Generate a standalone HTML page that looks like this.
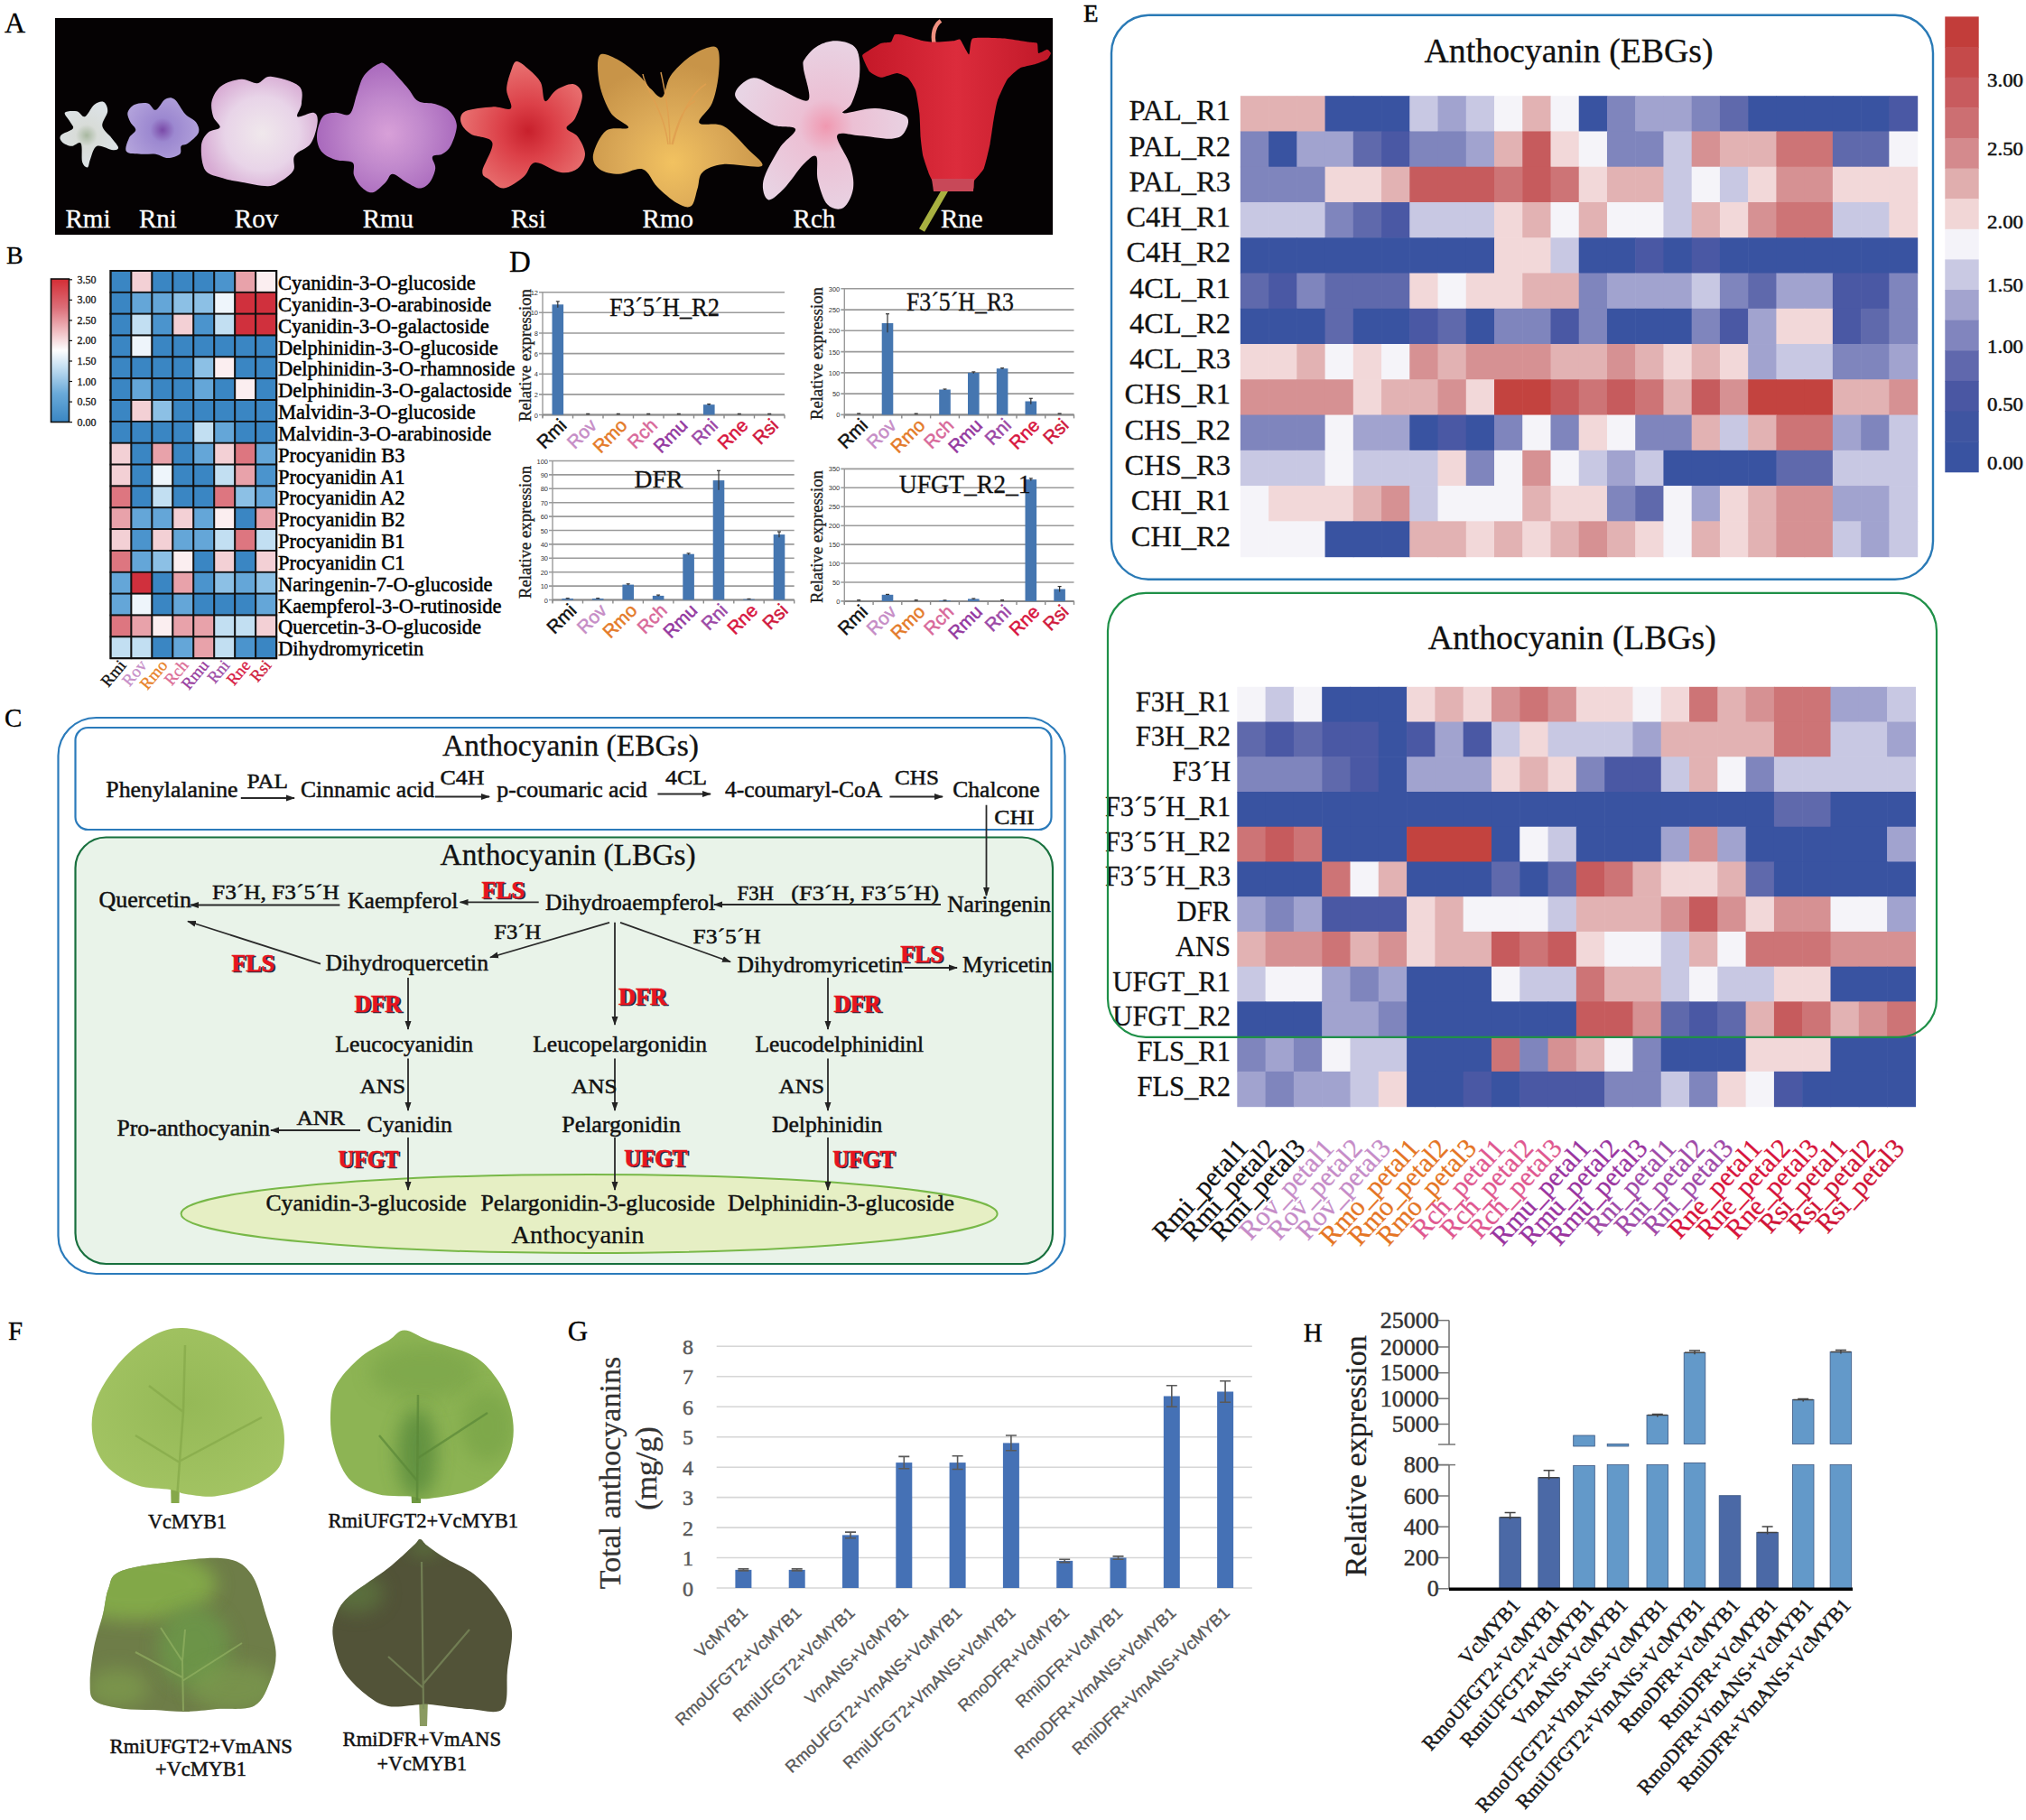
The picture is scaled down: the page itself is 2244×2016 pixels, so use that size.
<!DOCTYPE html>
<html><head><meta charset="utf-8"><title>Figure</title>
<style>html,body{margin:0;padding:0;background:#fff;width:2244px;height:2016px;overflow:hidden}svg{display:block}</style>
</head><body>
<svg width="2244" height="2016" viewBox="0 0 2244 2016">
<rect x="0" y="0" width="2244" height="2016" fill="#fff"/>
<text x="5.0" y="36.0" font-family="Liberation Serif" font-size="32" fill="#000" text-anchor="start" font-weight="normal"  stroke="#000" stroke-width="0.3">A</text><rect x="61" y="20" width="1105" height="240" fill="#050203"/><defs><radialGradient id="gRmi" gradientUnits="userSpaceOnUse" cx="96" cy="150" r="40"><stop offset="0" stop-color="#a8b8a0"/><stop offset="0.3" stop-color="#d8dcd8"/><stop offset="1" stop-color="#dde3e8"/></radialGradient><radialGradient id="gRni" gradientUnits="userSpaceOnUse" cx="180" cy="144" r="45"><stop offset="0" stop-color="#7a4aa8"/><stop offset="0.3" stop-color="#9c88d0"/><stop offset="1" stop-color="#b4a4dc"/></radialGradient><radialGradient id="gRov" gradientUnits="userSpaceOnUse" cx="290" cy="148" r="68"><stop offset="0" stop-color="#f0e8ec"/><stop offset="0.6" stop-color="#e8d4e8"/><stop offset="1" stop-color="#d8acd4"/></radialGradient><radialGradient id="gRmu" gradientUnits="userSpaceOnUse" cx="430" cy="148" r="80"><stop offset="0" stop-color="#d8a0d8"/><stop offset="0.5" stop-color="#c088cc"/><stop offset="1" stop-color="#a868bc"/></radialGradient><radialGradient id="gRsi" gradientUnits="userSpaceOnUse" cx="585" cy="145" r="75"><stop offset="0" stop-color="#c8202c"/><stop offset="0.4" stop-color="#dc4048"/><stop offset="1" stop-color="#e87070"/></radialGradient><radialGradient id="gRmo" gradientUnits="userSpaceOnUse" cx="745" cy="180" r="110"><stop offset="0" stop-color="#f2c260"/><stop offset="0.5" stop-color="#dcaa58"/><stop offset="1" stop-color="#c89448"/></radialGradient><radialGradient id="gRch" gradientUnits="userSpaceOnUse" cx="915" cy="140" r="100"><stop offset="0" stop-color="#f098b0"/><stop offset="0.3" stop-color="#ecc0d4"/><stop offset="1" stop-color="#e8d4e4"/></radialGradient><linearGradient id="gRne" x1="0" y1="0" x2="1" y2="0"><stop offset="0" stop-color="#c41828"/><stop offset="0.5" stop-color="#dc2c3c"/><stop offset="1" stop-color="#c01828"/></linearGradient></defs><path d="M71.8,124.8 C73.0,122.8 81.5,122.6 85.2,123.3 C88.9,124.0 90.8,130.4 94.0,129.2 C97.2,128.0 100.9,118.6 104.4,115.9 C107.9,113.2 112.3,111.7 114.8,112.9 C117.3,114.1 119.5,118.8 119.2,123.3 C119.0,127.8 112.5,134.7 113.3,139.6 C114.0,144.5 120.7,148.9 123.7,152.9 C126.7,156.9 130.8,161.1 131.1,163.3 C131.3,165.5 129.2,166.6 125.2,166.3 C121.2,166.1 111.6,160.1 107.4,161.8 C103.2,163.5 101.7,172.7 100.0,176.6 C98.3,180.5 98.5,185.0 97.0,185.5 C95.5,186.0 92.3,184.0 91.1,179.6 C89.9,175.2 91.6,161.8 89.6,158.8 C87.6,155.8 82.8,162.0 79.3,161.8 C75.8,161.6 70.9,159.4 68.9,157.4 C66.9,155.4 65.4,152.5 67.4,150.0 C69.4,147.5 79.0,145.1 80.7,142.6 C82.4,140.1 79.3,138.2 77.8,135.2 C76.3,132.2 70.6,126.8 71.8,124.8 Z" fill="url(#gRmi)"/><path d="M141.4,124.8 C142.1,121.6 145.1,117.6 148.8,115.9 C152.5,114.2 159.8,113.4 163.7,114.4 C167.6,115.4 169.3,122.5 172.5,121.8 C175.7,121.1 179.4,112.0 182.9,110.0 C186.4,108.0 189.6,107.3 193.3,110.0 C197.0,112.7 201.2,122.1 205.1,126.3 C209.0,130.5 214.5,131.8 217.0,135.2 C219.5,138.6 221.4,143.1 219.9,147.0 C218.4,150.9 211.3,156.3 208.1,158.8 C204.9,161.3 202.2,159.8 200.7,161.8 C199.2,163.8 201.7,168.5 199.2,170.7 C196.7,172.9 190.3,175.1 185.9,175.1 C181.5,175.1 177.4,171.4 172.5,170.7 C167.6,170.0 161.7,171.2 156.3,170.7 C150.9,170.2 142.2,170.7 140.0,167.7 C137.8,164.7 141.2,156.8 142.9,152.9 C144.6,149.0 150.1,146.9 150.3,144.0 C150.6,141.1 145.9,138.4 144.4,135.2 C142.9,132.0 140.7,128.0 141.4,124.8 Z" fill="url(#gRni)"/><path d="M234.7,111.5 C236.2,105.8 239.7,99.2 245.1,95.2 C250.5,91.2 260.6,88.3 267.3,87.8 C274.0,87.3 279.7,92.7 285.1,92.2 C290.5,91.7 292.2,84.3 299.9,84.8 C307.5,85.3 325.3,90.3 331.0,95.2 C336.7,100.1 334.2,108.7 334.0,114.4 C333.8,120.1 327.3,127.5 329.5,129.2 C331.7,130.9 343.6,123.8 347.3,124.8 C351.0,125.8 352.2,129.5 351.7,135.2 C351.2,140.9 348.5,152.6 344.3,158.8 C340.1,165.0 329.7,167.2 326.5,172.2 C323.3,177.1 327.6,183.8 325.1,188.5 C322.6,193.2 316.4,197.4 311.7,200.3 C307.0,203.2 304.3,205.9 296.9,206.2 C289.5,206.4 275.7,203.3 267.3,201.8 C258.9,200.3 253.3,199.5 246.6,197.3 C239.9,195.1 231.2,194.4 227.3,188.5 C223.4,182.6 222.4,168.7 222.9,161.8 C223.4,154.9 226.9,150.4 230.3,147.0 C233.8,143.6 242.6,144.1 243.6,141.1 C244.6,138.1 237.7,134.1 236.2,129.2 C234.7,124.3 233.2,117.2 234.7,111.5 Z" fill="url(#gRov)"/><path d="M395.3,104.2 C397.9,97.1 399.2,89.2 403.2,83.7 C407.1,78.2 414.8,72.8 419.0,71.0 C423.2,69.2 423.2,68.4 428.5,72.6 C433.8,76.8 444.8,89.7 450.6,96.3 C456.4,102.9 457.9,108.9 463.2,112.1 C468.5,115.3 476.4,113.4 482.2,115.3 C488.0,117.2 494.1,119.2 498.0,123.2 C501.9,127.2 505.6,132.7 505.9,139.0 C506.1,145.3 502.1,155.8 499.5,161.1 C496.9,166.4 493.4,168.5 490.0,170.6 C486.6,172.7 480.3,171.1 479.0,173.7 C477.7,176.3 482.7,181.7 482.2,186.4 C481.7,191.2 478.7,198.5 475.8,202.2 C472.9,205.9 469.0,208.5 464.8,208.5 C460.6,208.5 455.6,204.8 450.6,202.2 C445.6,199.6 438.8,192.7 434.8,192.7 C430.9,192.7 430.6,198.8 426.9,202.2 C423.2,205.6 417.2,212.4 412.7,213.2 C408.2,214.0 403.4,210.1 400.0,206.9 C396.6,203.8 393.7,198.8 392.1,194.3 C390.5,189.8 393.9,182.9 390.5,180.0 C387.1,177.1 377.4,179.0 371.6,176.9 C365.8,174.8 359.2,171.9 355.8,167.4 C352.4,162.9 350.7,156.3 351.0,150.0 C351.3,143.7 354.0,133.7 357.4,129.5 C360.8,125.3 366.6,125.3 371.6,124.8 C376.6,124.3 383.4,129.7 387.4,126.3 C391.3,122.9 392.7,111.3 395.3,104.2 Z" fill="url(#gRmu)"/><path d="M561.1,99.5 C561.1,92.7 564.0,84.3 565.9,79.0 C567.8,73.7 568.8,68.2 572.2,67.9 C575.6,67.6 581.9,73.5 586.4,77.4 C590.9,81.4 596.1,85.8 599.0,91.6 C601.9,97.4 600.9,110.8 603.8,112.1 C606.7,113.4 611.1,102.7 616.4,99.5 C621.7,96.3 630.6,92.2 635.4,93.2 C640.1,94.2 644.6,99.5 644.9,105.8 C645.2,112.1 639.9,125.0 637.0,131.1 C634.1,137.2 627.0,138.7 627.5,142.1 C628.0,145.5 636.6,146.8 640.0,151.6 C643.4,156.3 648.0,164.8 648.0,170.6 C648.0,176.4 644.5,183.0 640.0,186.4 C635.5,189.8 629.1,192.2 621.2,191.1 C613.3,190.0 599.6,179.2 592.7,180.0 C585.9,180.8 585.9,191.1 580.1,195.8 C574.3,200.6 564.3,208.0 558.0,208.5 C551.7,209.0 546.2,202.2 542.2,199.0 C538.2,195.8 533.8,196.3 534.3,189.5 C534.8,182.7 547.4,164.7 545.3,157.9 C543.2,151.1 527.4,152.2 521.6,148.5 C515.8,144.8 511.7,140.0 510.6,135.8 C509.6,131.6 509.5,126.1 515.3,123.2 C521.1,120.3 536.9,118.9 545.3,118.4 C553.7,117.9 563.3,123.2 565.9,120.0 C568.5,116.8 561.1,106.3 561.1,99.5 Z" fill="url(#gRsi)"/><path d="M664.2,61.3 C667.8,56.9 678.1,62.9 685.5,66.7 C692.9,70.6 702.7,79.1 708.6,84.4 C714.5,89.7 716.9,94.8 721.0,98.6 C725.1,102.4 729.9,109.9 733.5,107.5 C737.1,105.1 737.4,91.8 742.4,84.4 C747.4,77.0 756.6,68.3 763.7,63.0 C770.8,57.7 779.7,53.6 785.0,52.4 C790.3,51.2 793.9,50.7 795.7,56.0 C797.5,61.3 796.9,74.6 795.7,84.4 C794.5,94.2 792.2,106.0 788.6,114.6 C785.0,123.2 772.3,131.8 774.4,136.0 C776.5,140.2 792.1,134.8 801.0,139.5 C809.9,144.2 820.6,157.0 827.7,164.4 C834.8,171.8 848.2,181.1 843.7,184.0 C839.2,186.9 812.0,180.8 801.0,182.0 C790.0,183.2 782.7,186.5 778.0,191.0 C773.3,195.5 774.7,202.6 772.6,208.8 C770.5,215.0 769.4,225.6 765.5,228.3 C761.6,231.0 755.8,228.4 749.5,224.8 C743.2,221.2 734.2,213.2 728.0,207.0 C721.8,200.8 719.1,189.9 712.0,187.5 C704.9,185.1 693.5,192.8 685.5,192.8 C677.5,192.8 669.0,191.1 664.2,187.5 C659.5,183.9 655.8,178.6 657.0,171.5 C658.2,164.4 664.8,149.8 671.3,144.8 C677.8,139.8 695.1,144.6 696.0,141.3 C696.9,138.1 682.0,133.3 676.7,125.3 C671.4,117.2 666.1,103.7 664.0,93.0 C661.9,82.3 660.6,65.7 664.2,61.3 Z" fill="url(#gRmo)"/><path d="M891.6,64.9 C894.3,60.8 900.0,54.0 905.9,50.7 C911.8,47.4 920.1,44.7 927.2,45.3 C934.3,45.9 944.4,47.7 948.5,54.2 C952.6,60.7 952.9,74.3 952.0,84.4 C951.1,94.5 946.2,107.8 943.2,114.6 C940.2,121.4 929.9,124.4 934.3,125.3 C938.7,126.2 958.2,119.4 969.8,120.0 C981.3,120.6 998.3,124.4 1003.6,128.8 C1008.9,133.2 1004.5,142.4 1001.8,146.6 C999.1,150.8 995.9,153.1 987.6,153.7 C979.3,154.3 962.1,150.8 952.0,150.2 C941.9,149.6 929.0,144.9 927.2,150.2 C925.4,155.5 938.4,172.3 941.4,182.1 C944.4,191.9 946.2,200.8 945.0,208.8 C943.8,216.8 939.0,227.1 934.3,230.1 C929.5,233.1 921.2,231.6 916.5,226.6 C911.8,221.6 908.0,208.8 905.9,199.9 C903.8,191.0 906.7,176.3 904.0,173.3 C901.3,170.3 895.8,176.2 889.9,182.1 C884.0,188.0 875.0,202.3 868.5,208.8 C862.0,215.3 854.6,222.7 850.8,221.2 C847.0,219.7 843.4,209.4 845.5,199.9 C847.6,190.4 857.3,173.9 863.2,164.4 C869.1,154.9 882.5,147.4 881.0,143.0 C879.5,138.6 864.4,142.4 854.3,137.7 C844.2,133.0 827.1,120.8 820.6,114.6 C814.1,108.4 812.8,105.1 815.2,100.4 C817.6,95.7 826.8,86.5 834.8,86.2 C842.8,85.9 853.1,94.5 863.2,98.6 C873.3,102.7 890.8,114.8 895.2,111.0 C899.7,107.2 890.5,83.2 889.9,75.5 C889.3,67.8 888.9,69.0 891.6,64.9 Z" fill="url(#gRch)"/><path d="M1035,50 C1032,38 1035,28 1042,23" stroke="#f09080" stroke-width="4.5" fill="none"/><path d="M1050,205 L1021,255" stroke="#a8b040" stroke-width="7" fill="none"/><path d="M955.1,61.7 C955.2,63.7 961.7,77.6 963.4,79.6 C965.1,81.6 973.2,85.7 975.7,85.8 C978.2,85.9 991.1,80.9 993.6,80.9 C996.1,81.0 1004.2,84.8 1005.9,86.4 C1007.6,88.0 1013.2,97.0 1014.2,100.2 C1015.2,103.4 1017.8,120.6 1018.3,124.9 C1018.8,129.2 1019.4,148.4 1019.7,152.4 C1020.0,156.4 1021.6,169.6 1022.4,173.0 C1023.2,176.4 1028.4,191.2 1029.3,193.6 C1030.2,196.0 1032.8,200.4 1033.4,201.8 C1034.0,203.2 1034.3,209.3 1036.2,210.1 C1038.1,210.9 1052.6,211.0 1056.0,211.0 C1059.4,211.0 1075.5,211.0 1077.4,210.1 C1079.3,209.2 1077.8,202.4 1078.8,200.5 C1079.8,198.6 1088.2,190.1 1089.7,186.7 C1091.2,183.3 1095.7,163.8 1096.6,159.2 C1097.5,154.6 1100.0,135.8 1100.7,131.8 C1101.4,127.8 1103.6,114.9 1104.9,111.2 C1106.2,107.5 1113.7,90.8 1115.8,87.8 C1117.9,84.8 1127.1,76.8 1129.6,75.4 C1132.1,74.0 1143.6,72.1 1146.1,71.3 C1148.6,70.5 1158.3,66.8 1159.8,65.8 C1161.3,64.8 1163.9,59.9 1163.9,59.0 C1163.9,58.1 1160.9,54.8 1159.8,54.8 C1158.7,54.8 1151.1,59.6 1150.2,59.0 C1149.3,58.4 1149.7,49.0 1148.8,48.0 C1147.9,47.0 1142.3,47.1 1139.2,46.6 C1136.1,46.1 1116.9,42.8 1111.7,42.5 C1106.5,42.2 1080.6,41.0 1077.4,42.5 C1074.2,44.0 1074.5,60.2 1073.3,60.3 C1072.1,60.4 1065.0,45.2 1063.6,43.9 C1062.2,42.6 1059.1,45.0 1056.8,45.2 C1054.5,45.4 1039.1,46.6 1036.2,46.6 C1033.3,46.6 1025.5,45.9 1022.4,45.2 C1019.3,44.5 1001.7,39.0 999.1,38.4 C996.5,37.8 991.8,37.7 990.8,38.4 C989.8,39.1 988.0,45.8 986.7,46.6 C985.4,47.4 977.8,47.2 975.7,48.0 C973.6,48.8 963.7,55.1 962.0,56.2 C960.3,57.3 955.0,59.8 955.1,61.7 Z" fill="url(#gRne)"/><path d="M1032,198 L1079,198 L1078,212 L1034,212 Z" fill="#c84858"/><g stroke="#e0a050" stroke-width="1.5" fill="none" opacity="0.9"><path d="M740,160 C735,120 715,100 712,82"/><path d="M742,160 C742,120 735,95 732,80"/><path d="M745,160 C755,120 770,100 782,93"/><path d="M744,160 C752,130 758,118 770,112"/></g><text x="72.5" y="251.5" font-family="Liberation Serif" font-size="29" fill="#fff" text-anchor="start" font-weight="normal"  stroke="#fff" stroke-width="0.3">Rmi</text><text x="154.0" y="251.5" font-family="Liberation Serif" font-size="29" fill="#fff" text-anchor="start" font-weight="normal"  stroke="#fff" stroke-width="0.3">Rni</text><text x="259.8" y="251.5" font-family="Liberation Serif" font-size="29" fill="#fff" text-anchor="start" font-weight="normal"  stroke="#fff" stroke-width="0.3">Rov</text><text x="401.7" y="251.5" font-family="Liberation Serif" font-size="29" fill="#fff" text-anchor="start" font-weight="normal"  stroke="#fff" stroke-width="0.3">Rmu</text><text x="566.0" y="251.5" font-family="Liberation Serif" font-size="29" fill="#fff" text-anchor="start" font-weight="normal"  stroke="#fff" stroke-width="0.3">Rsi</text><text x="711.6" y="251.5" font-family="Liberation Serif" font-size="29" fill="#fff" text-anchor="start" font-weight="normal"  stroke="#fff" stroke-width="0.3">Rmo</text><text x="878.6" y="251.5" font-family="Liberation Serif" font-size="29" fill="#fff" text-anchor="start" font-weight="normal"  stroke="#fff" stroke-width="0.3">Rch</text><text x="1042.0" y="251.5" font-family="Liberation Serif" font-size="29" fill="#fff" text-anchor="start" font-weight="normal"  stroke="#fff" stroke-width="0.3">Rne</text><text x="7.0" y="291.5" font-family="Liberation Serif" font-size="28" fill="#000" text-anchor="start" font-weight="normal"  stroke="#000" stroke-width="0.3">B</text><rect x="122.50" y="300.00" width="22.96" height="23.84" fill="#3a86c3" stroke="#111" stroke-width="1.8"/><rect x="145.46" y="300.00" width="22.96" height="23.84" fill="#f3d0d5" stroke="#111" stroke-width="1.8"/><rect x="168.43" y="300.00" width="22.96" height="23.84" fill="#3a86c3" stroke="#111" stroke-width="1.8"/><rect x="191.39" y="300.00" width="22.96" height="23.84" fill="#3a86c3" stroke="#111" stroke-width="1.8"/><rect x="214.35" y="300.00" width="22.96" height="23.84" fill="#3a86c3" stroke="#111" stroke-width="1.8"/><rect x="237.31" y="300.00" width="22.96" height="23.84" fill="#4b94cd" stroke="#111" stroke-width="1.8"/><rect x="260.27" y="300.00" width="22.96" height="23.84" fill="#e8a2aa" stroke="#111" stroke-width="1.8"/><rect x="283.24" y="300.00" width="22.96" height="23.84" fill="#fbeef0" stroke="#111" stroke-width="1.8"/><text x="308.0" y="320.9" font-family="Liberation Serif" font-size="22.5" fill="#000" text-anchor="start" font-weight="normal"  stroke="#000" stroke-width="0.5">Cyanidin-3-O-glucoside</text><rect x="122.50" y="323.84" width="22.96" height="23.84" fill="#3a86c3" stroke="#111" stroke-width="1.8"/><rect x="145.46" y="323.84" width="22.96" height="23.84" fill="#64a6d8" stroke="#111" stroke-width="1.8"/><rect x="168.43" y="323.84" width="22.96" height="23.84" fill="#64a6d8" stroke="#111" stroke-width="1.8"/><rect x="191.39" y="323.84" width="22.96" height="23.84" fill="#8cc0e5" stroke="#111" stroke-width="1.8"/><rect x="214.35" y="323.84" width="22.96" height="23.84" fill="#8cc0e5" stroke="#111" stroke-width="1.8"/><rect x="237.31" y="323.84" width="22.96" height="23.84" fill="#eef5fb" stroke="#111" stroke-width="1.8"/><rect x="260.27" y="323.84" width="22.96" height="23.84" fill="#d0303d" stroke="#111" stroke-width="1.8"/><rect x="283.24" y="323.84" width="22.96" height="23.84" fill="#d0303d" stroke="#111" stroke-width="1.8"/><text x="308.0" y="344.8" font-family="Liberation Serif" font-size="22.5" fill="#000" text-anchor="start" font-weight="normal"  stroke="#000" stroke-width="0.5">Cyanidin-3-O-arabinoside</text><rect x="122.50" y="347.69" width="22.96" height="23.84" fill="#3a86c3" stroke="#111" stroke-width="1.8"/><rect x="145.46" y="347.69" width="22.96" height="23.84" fill="#c2dff2" stroke="#111" stroke-width="1.8"/><rect x="168.43" y="347.69" width="22.96" height="23.84" fill="#4b94cd" stroke="#111" stroke-width="1.8"/><rect x="191.39" y="347.69" width="22.96" height="23.84" fill="#f3d0d5" stroke="#111" stroke-width="1.8"/><rect x="214.35" y="347.69" width="22.96" height="23.84" fill="#4b94cd" stroke="#111" stroke-width="1.8"/><rect x="237.31" y="347.69" width="22.96" height="23.84" fill="#c2dff2" stroke="#111" stroke-width="1.8"/><rect x="260.27" y="347.69" width="22.96" height="23.84" fill="#d0303d" stroke="#111" stroke-width="1.8"/><rect x="283.24" y="347.69" width="22.96" height="23.84" fill="#d0303d" stroke="#111" stroke-width="1.8"/><text x="308.0" y="368.6" font-family="Liberation Serif" font-size="22.5" fill="#000" text-anchor="start" font-weight="normal"  stroke="#000" stroke-width="0.5">Cyanidin-3-O-galactoside</text><rect x="122.50" y="371.53" width="22.96" height="23.84" fill="#3a86c3" stroke="#111" stroke-width="1.8"/><rect x="145.46" y="371.53" width="22.96" height="23.84" fill="#eef5fb" stroke="#111" stroke-width="1.8"/><rect x="168.43" y="371.53" width="22.96" height="23.84" fill="#3a86c3" stroke="#111" stroke-width="1.8"/><rect x="191.39" y="371.53" width="22.96" height="23.84" fill="#3a86c3" stroke="#111" stroke-width="1.8"/><rect x="214.35" y="371.53" width="22.96" height="23.84" fill="#3a86c3" stroke="#111" stroke-width="1.8"/><rect x="237.31" y="371.53" width="22.96" height="23.84" fill="#3a86c3" stroke="#111" stroke-width="1.8"/><rect x="260.27" y="371.53" width="22.96" height="23.84" fill="#3a86c3" stroke="#111" stroke-width="1.8"/><rect x="283.24" y="371.53" width="22.96" height="23.84" fill="#3a86c3" stroke="#111" stroke-width="1.8"/><text x="308.0" y="392.5" font-family="Liberation Serif" font-size="22.5" fill="#000" text-anchor="start" font-weight="normal"  stroke="#000" stroke-width="0.5">Delphinidin-3-O-glucoside</text><rect x="122.50" y="395.38" width="22.96" height="23.84" fill="#3a86c3" stroke="#111" stroke-width="1.8"/><rect x="145.46" y="395.38" width="22.96" height="23.84" fill="#3a86c3" stroke="#111" stroke-width="1.8"/><rect x="168.43" y="395.38" width="22.96" height="23.84" fill="#3a86c3" stroke="#111" stroke-width="1.8"/><rect x="191.39" y="395.38" width="22.96" height="23.84" fill="#3a86c3" stroke="#111" stroke-width="1.8"/><rect x="214.35" y="395.38" width="22.96" height="23.84" fill="#8cc0e5" stroke="#111" stroke-width="1.8"/><rect x="237.31" y="395.38" width="22.96" height="23.84" fill="#fbeef0" stroke="#111" stroke-width="1.8"/><rect x="260.27" y="395.38" width="22.96" height="23.84" fill="#3a86c3" stroke="#111" stroke-width="1.8"/><rect x="283.24" y="395.38" width="22.96" height="23.84" fill="#3a86c3" stroke="#111" stroke-width="1.8"/><text x="308.0" y="416.3" font-family="Liberation Serif" font-size="22.5" fill="#000" text-anchor="start" font-weight="normal"  stroke="#000" stroke-width="0.5">Delphinidin-3-O-rhamnoside</text><rect x="122.50" y="419.22" width="22.96" height="23.84" fill="#3a86c3" stroke="#111" stroke-width="1.8"/><rect x="145.46" y="419.22" width="22.96" height="23.84" fill="#64a6d8" stroke="#111" stroke-width="1.8"/><rect x="168.43" y="419.22" width="22.96" height="23.84" fill="#3a86c3" stroke="#111" stroke-width="1.8"/><rect x="191.39" y="419.22" width="22.96" height="23.84" fill="#3a86c3" stroke="#111" stroke-width="1.8"/><rect x="214.35" y="419.22" width="22.96" height="23.84" fill="#64a6d8" stroke="#111" stroke-width="1.8"/><rect x="237.31" y="419.22" width="22.96" height="23.84" fill="#3a86c3" stroke="#111" stroke-width="1.8"/><rect x="260.27" y="419.22" width="22.96" height="23.84" fill="#fbeef0" stroke="#111" stroke-width="1.8"/><rect x="283.24" y="419.22" width="22.96" height="23.84" fill="#3a86c3" stroke="#111" stroke-width="1.8"/><text x="308.0" y="440.1" font-family="Liberation Serif" font-size="22.5" fill="#000" text-anchor="start" font-weight="normal"  stroke="#000" stroke-width="0.5">Delphinidin-3-O-galactoside</text><rect x="122.50" y="443.07" width="22.96" height="23.84" fill="#3a86c3" stroke="#111" stroke-width="1.8"/><rect x="145.46" y="443.07" width="22.96" height="23.84" fill="#f3d0d5" stroke="#111" stroke-width="1.8"/><rect x="168.43" y="443.07" width="22.96" height="23.84" fill="#8cc0e5" stroke="#111" stroke-width="1.8"/><rect x="191.39" y="443.07" width="22.96" height="23.84" fill="#3a86c3" stroke="#111" stroke-width="1.8"/><rect x="214.35" y="443.07" width="22.96" height="23.84" fill="#3a86c3" stroke="#111" stroke-width="1.8"/><rect x="237.31" y="443.07" width="22.96" height="23.84" fill="#3a86c3" stroke="#111" stroke-width="1.8"/><rect x="260.27" y="443.07" width="22.96" height="23.84" fill="#3a86c3" stroke="#111" stroke-width="1.8"/><rect x="283.24" y="443.07" width="22.96" height="23.84" fill="#3a86c3" stroke="#111" stroke-width="1.8"/><text x="308.0" y="464.0" font-family="Liberation Serif" font-size="22.5" fill="#000" text-anchor="start" font-weight="normal"  stroke="#000" stroke-width="0.5">Malvidin-3-O-glucoside</text><rect x="122.50" y="466.91" width="22.96" height="23.84" fill="#3a86c3" stroke="#111" stroke-width="1.8"/><rect x="145.46" y="466.91" width="22.96" height="23.84" fill="#3a86c3" stroke="#111" stroke-width="1.8"/><rect x="168.43" y="466.91" width="22.96" height="23.84" fill="#3a86c3" stroke="#111" stroke-width="1.8"/><rect x="191.39" y="466.91" width="22.96" height="23.84" fill="#3a86c3" stroke="#111" stroke-width="1.8"/><rect x="214.35" y="466.91" width="22.96" height="23.84" fill="#c2dff2" stroke="#111" stroke-width="1.8"/><rect x="237.31" y="466.91" width="22.96" height="23.84" fill="#64a6d8" stroke="#111" stroke-width="1.8"/><rect x="260.27" y="466.91" width="22.96" height="23.84" fill="#3a86c3" stroke="#111" stroke-width="1.8"/><rect x="283.24" y="466.91" width="22.96" height="23.84" fill="#3a86c3" stroke="#111" stroke-width="1.8"/><text x="308.0" y="487.8" font-family="Liberation Serif" font-size="22.5" fill="#000" text-anchor="start" font-weight="normal"  stroke="#000" stroke-width="0.5">Malvidin-3-O-arabinoside</text><rect x="122.50" y="490.76" width="22.96" height="23.84" fill="#f3d0d5" stroke="#111" stroke-width="1.8"/><rect x="145.46" y="490.76" width="22.96" height="23.84" fill="#3a86c3" stroke="#111" stroke-width="1.8"/><rect x="168.43" y="490.76" width="22.96" height="23.84" fill="#e8a2aa" stroke="#111" stroke-width="1.8"/><rect x="191.39" y="490.76" width="22.96" height="23.84" fill="#3a86c3" stroke="#111" stroke-width="1.8"/><rect x="214.35" y="490.76" width="22.96" height="23.84" fill="#64a6d8" stroke="#111" stroke-width="1.8"/><rect x="237.31" y="490.76" width="22.96" height="23.84" fill="#f3d0d5" stroke="#111" stroke-width="1.8"/><rect x="260.27" y="490.76" width="22.96" height="23.84" fill="#dd7680" stroke="#111" stroke-width="1.8"/><rect x="283.24" y="490.76" width="22.96" height="23.84" fill="#64a6d8" stroke="#111" stroke-width="1.8"/><text x="308.0" y="511.7" font-family="Liberation Serif" font-size="22.5" fill="#000" text-anchor="start" font-weight="normal"  stroke="#000" stroke-width="0.5">Procyanidin B3</text><rect x="122.50" y="514.60" width="22.96" height="23.84" fill="#f3d0d5" stroke="#111" stroke-width="1.8"/><rect x="145.46" y="514.60" width="22.96" height="23.84" fill="#3a86c3" stroke="#111" stroke-width="1.8"/><rect x="168.43" y="514.60" width="22.96" height="23.84" fill="#eef5fb" stroke="#111" stroke-width="1.8"/><rect x="191.39" y="514.60" width="22.96" height="23.84" fill="#3a86c3" stroke="#111" stroke-width="1.8"/><rect x="214.35" y="514.60" width="22.96" height="23.84" fill="#3a86c3" stroke="#111" stroke-width="1.8"/><rect x="237.31" y="514.60" width="22.96" height="23.84" fill="#c2dff2" stroke="#111" stroke-width="1.8"/><rect x="260.27" y="514.60" width="22.96" height="23.84" fill="#e8a2aa" stroke="#111" stroke-width="1.8"/><rect x="283.24" y="514.60" width="22.96" height="23.84" fill="#4b94cd" stroke="#111" stroke-width="1.8"/><text x="308.0" y="535.5" font-family="Liberation Serif" font-size="22.5" fill="#000" text-anchor="start" font-weight="normal"  stroke="#000" stroke-width="0.5">Procyanidin A1</text><rect x="122.50" y="538.44" width="22.96" height="23.84" fill="#dd7680" stroke="#111" stroke-width="1.8"/><rect x="145.46" y="538.44" width="22.96" height="23.84" fill="#3a86c3" stroke="#111" stroke-width="1.8"/><rect x="168.43" y="538.44" width="22.96" height="23.84" fill="#c2dff2" stroke="#111" stroke-width="1.8"/><rect x="191.39" y="538.44" width="22.96" height="23.84" fill="#3a86c3" stroke="#111" stroke-width="1.8"/><rect x="214.35" y="538.44" width="22.96" height="23.84" fill="#3a86c3" stroke="#111" stroke-width="1.8"/><rect x="237.31" y="538.44" width="22.96" height="23.84" fill="#dd7680" stroke="#111" stroke-width="1.8"/><rect x="260.27" y="538.44" width="22.96" height="23.84" fill="#8cc0e5" stroke="#111" stroke-width="1.8"/><rect x="283.24" y="538.44" width="22.96" height="23.84" fill="#64a6d8" stroke="#111" stroke-width="1.8"/><text x="308.0" y="559.4" font-family="Liberation Serif" font-size="22.5" fill="#000" text-anchor="start" font-weight="normal"  stroke="#000" stroke-width="0.5">Procyanidin A2</text><rect x="122.50" y="562.29" width="22.96" height="23.84" fill="#e8a2aa" stroke="#111" stroke-width="1.8"/><rect x="145.46" y="562.29" width="22.96" height="23.84" fill="#64a6d8" stroke="#111" stroke-width="1.8"/><rect x="168.43" y="562.29" width="22.96" height="23.84" fill="#64a6d8" stroke="#111" stroke-width="1.8"/><rect x="191.39" y="562.29" width="22.96" height="23.84" fill="#f3d0d5" stroke="#111" stroke-width="1.8"/><rect x="214.35" y="562.29" width="22.96" height="23.84" fill="#64a6d8" stroke="#111" stroke-width="1.8"/><rect x="237.31" y="562.29" width="22.96" height="23.84" fill="#fbeef0" stroke="#111" stroke-width="1.8"/><rect x="260.27" y="562.29" width="22.96" height="23.84" fill="#3a86c3" stroke="#111" stroke-width="1.8"/><rect x="283.24" y="562.29" width="22.96" height="23.84" fill="#e8a2aa" stroke="#111" stroke-width="1.8"/><text x="308.0" y="583.2" font-family="Liberation Serif" font-size="22.5" fill="#000" text-anchor="start" font-weight="normal"  stroke="#000" stroke-width="0.5">Procyanidin B2</text><rect x="122.50" y="586.13" width="22.96" height="23.84" fill="#f3d0d5" stroke="#111" stroke-width="1.8"/><rect x="145.46" y="586.13" width="22.96" height="23.84" fill="#4b94cd" stroke="#111" stroke-width="1.8"/><rect x="168.43" y="586.13" width="22.96" height="23.84" fill="#f3d0d5" stroke="#111" stroke-width="1.8"/><rect x="191.39" y="586.13" width="22.96" height="23.84" fill="#64a6d8" stroke="#111" stroke-width="1.8"/><rect x="214.35" y="586.13" width="22.96" height="23.84" fill="#64a6d8" stroke="#111" stroke-width="1.8"/><rect x="237.31" y="586.13" width="22.96" height="23.84" fill="#c2dff2" stroke="#111" stroke-width="1.8"/><rect x="260.27" y="586.13" width="22.96" height="23.84" fill="#dd7680" stroke="#111" stroke-width="1.8"/><rect x="283.24" y="586.13" width="22.96" height="23.84" fill="#c2dff2" stroke="#111" stroke-width="1.8"/><text x="308.0" y="607.1" font-family="Liberation Serif" font-size="22.5" fill="#000" text-anchor="start" font-weight="normal"  stroke="#000" stroke-width="0.5">Procyanidin B1</text><rect x="122.50" y="609.98" width="22.96" height="23.84" fill="#dd7680" stroke="#111" stroke-width="1.8"/><rect x="145.46" y="609.98" width="22.96" height="23.84" fill="#64a6d8" stroke="#111" stroke-width="1.8"/><rect x="168.43" y="609.98" width="22.96" height="23.84" fill="#8cc0e5" stroke="#111" stroke-width="1.8"/><rect x="191.39" y="609.98" width="22.96" height="23.84" fill="#fbeef0" stroke="#111" stroke-width="1.8"/><rect x="214.35" y="609.98" width="22.96" height="23.84" fill="#3a86c3" stroke="#111" stroke-width="1.8"/><rect x="237.31" y="609.98" width="22.96" height="23.84" fill="#f3d0d5" stroke="#111" stroke-width="1.8"/><rect x="260.27" y="609.98" width="22.96" height="23.84" fill="#3a86c3" stroke="#111" stroke-width="1.8"/><rect x="283.24" y="609.98" width="22.96" height="23.84" fill="#f3d0d5" stroke="#111" stroke-width="1.8"/><text x="308.0" y="630.9" font-family="Liberation Serif" font-size="22.5" fill="#000" text-anchor="start" font-weight="normal"  stroke="#000" stroke-width="0.5">Procyanidin C1</text><rect x="122.50" y="633.82" width="22.96" height="23.84" fill="#64a6d8" stroke="#111" stroke-width="1.8"/><rect x="145.46" y="633.82" width="22.96" height="23.84" fill="#d0303d" stroke="#111" stroke-width="1.8"/><rect x="168.43" y="633.82" width="22.96" height="23.84" fill="#3a86c3" stroke="#111" stroke-width="1.8"/><rect x="191.39" y="633.82" width="22.96" height="23.84" fill="#e8a2aa" stroke="#111" stroke-width="1.8"/><rect x="214.35" y="633.82" width="22.96" height="23.84" fill="#4b94cd" stroke="#111" stroke-width="1.8"/><rect x="237.31" y="633.82" width="22.96" height="23.84" fill="#8cc0e5" stroke="#111" stroke-width="1.8"/><rect x="260.27" y="633.82" width="22.96" height="23.84" fill="#64a6d8" stroke="#111" stroke-width="1.8"/><rect x="283.24" y="633.82" width="22.96" height="23.84" fill="#8cc0e5" stroke="#111" stroke-width="1.8"/><text x="308.0" y="654.7" font-family="Liberation Serif" font-size="22.5" fill="#000" text-anchor="start" font-weight="normal"  stroke="#000" stroke-width="0.5">Naringenin-7-O-glucoside</text><rect x="122.50" y="657.67" width="22.96" height="23.84" fill="#64a6d8" stroke="#111" stroke-width="1.8"/><rect x="145.46" y="657.67" width="22.96" height="23.84" fill="#eef5fb" stroke="#111" stroke-width="1.8"/><rect x="168.43" y="657.67" width="22.96" height="23.84" fill="#3a86c3" stroke="#111" stroke-width="1.8"/><rect x="191.39" y="657.67" width="22.96" height="23.84" fill="#64a6d8" stroke="#111" stroke-width="1.8"/><rect x="214.35" y="657.67" width="22.96" height="23.84" fill="#3a86c3" stroke="#111" stroke-width="1.8"/><rect x="237.31" y="657.67" width="22.96" height="23.84" fill="#3a86c3" stroke="#111" stroke-width="1.8"/><rect x="260.27" y="657.67" width="22.96" height="23.84" fill="#3a86c3" stroke="#111" stroke-width="1.8"/><rect x="283.24" y="657.67" width="22.96" height="23.84" fill="#64a6d8" stroke="#111" stroke-width="1.8"/><text x="308.0" y="678.6" font-family="Liberation Serif" font-size="22.5" fill="#000" text-anchor="start" font-weight="normal"  stroke="#000" stroke-width="0.5">Kaempferol-3-O-rutinoside</text><rect x="122.50" y="681.51" width="22.96" height="23.84" fill="#dd7680" stroke="#111" stroke-width="1.8"/><rect x="145.46" y="681.51" width="22.96" height="23.84" fill="#e8a2aa" stroke="#111" stroke-width="1.8"/><rect x="168.43" y="681.51" width="22.96" height="23.84" fill="#fbeef0" stroke="#111" stroke-width="1.8"/><rect x="191.39" y="681.51" width="22.96" height="23.84" fill="#e8a2aa" stroke="#111" stroke-width="1.8"/><rect x="214.35" y="681.51" width="22.96" height="23.84" fill="#e8a2aa" stroke="#111" stroke-width="1.8"/><rect x="237.31" y="681.51" width="22.96" height="23.84" fill="#c2dff2" stroke="#111" stroke-width="1.8"/><rect x="260.27" y="681.51" width="22.96" height="23.84" fill="#c2dff2" stroke="#111" stroke-width="1.8"/><rect x="283.24" y="681.51" width="22.96" height="23.84" fill="#f3d0d5" stroke="#111" stroke-width="1.8"/><text x="308.0" y="702.4" font-family="Liberation Serif" font-size="22.5" fill="#000" text-anchor="start" font-weight="normal"  stroke="#000" stroke-width="0.5">Quercetin-3-O-glucoside</text><rect x="122.50" y="705.36" width="22.96" height="23.84" fill="#c2dff2" stroke="#111" stroke-width="1.8"/><rect x="145.46" y="705.36" width="22.96" height="23.84" fill="#c2dff2" stroke="#111" stroke-width="1.8"/><rect x="168.43" y="705.36" width="22.96" height="23.84" fill="#3a86c3" stroke="#111" stroke-width="1.8"/><rect x="191.39" y="705.36" width="22.96" height="23.84" fill="#64a6d8" stroke="#111" stroke-width="1.8"/><rect x="214.35" y="705.36" width="22.96" height="23.84" fill="#e8a2aa" stroke="#111" stroke-width="1.8"/><rect x="237.31" y="705.36" width="22.96" height="23.84" fill="#c2dff2" stroke="#111" stroke-width="1.8"/><rect x="260.27" y="705.36" width="22.96" height="23.84" fill="#4b94cd" stroke="#111" stroke-width="1.8"/><rect x="283.24" y="705.36" width="22.96" height="23.84" fill="#3a86c3" stroke="#111" stroke-width="1.8"/><text x="308.0" y="726.3" font-family="Liberation Serif" font-size="22.5" fill="#000" text-anchor="start" font-weight="normal"  stroke="#000" stroke-width="0.5">Dihydromyricetin</text><rect x="122.5" y="300.0" width="183.70" height="429.20" fill="none" stroke="#111" stroke-width="2"/><defs><linearGradient id="gB" x1="0" y1="0" x2="0" y2="1">
<stop offset="0" stop-color="#d42d35"/><stop offset="0.2" stop-color="#dc6e78"/><stop offset="0.38" stop-color="#f2c4c8"/>
<stop offset="0.5" stop-color="#fdfdfe"/><stop offset="0.62" stop-color="#c3def1"/><stop offset="0.8" stop-color="#6aaad9"/><stop offset="1" stop-color="#3a86c3"/></linearGradient></defs><rect x="56.5" y="309" width="20" height="158.5" fill="url(#gB)" stroke="#111" stroke-width="1.6"/><line x1="77" y1="309.8" x2="80" y2="309.8" stroke="#111" stroke-width="1.2"/><text x="85.5" y="313.8" font-family="Liberation Serif" font-size="12" fill="#222" text-anchor="start" font-weight="normal"  stroke="#222" stroke-width="0.35">3.50</text><line x1="77" y1="332.3" x2="80" y2="332.3" stroke="#111" stroke-width="1.2"/><text x="85.5" y="336.3" font-family="Liberation Serif" font-size="12" fill="#222" text-anchor="start" font-weight="normal"  stroke="#222" stroke-width="0.35">3.00</text><line x1="77" y1="354.9" x2="80" y2="354.9" stroke="#111" stroke-width="1.2"/><text x="85.5" y="358.9" font-family="Liberation Serif" font-size="12" fill="#222" text-anchor="start" font-weight="normal"  stroke="#222" stroke-width="0.35">2.50</text><line x1="77" y1="377.4" x2="80" y2="377.4" stroke="#111" stroke-width="1.2"/><text x="85.5" y="381.4" font-family="Liberation Serif" font-size="12" fill="#222" text-anchor="start" font-weight="normal"  stroke="#222" stroke-width="0.35">2.00</text><line x1="77" y1="400.0" x2="80" y2="400.0" stroke="#111" stroke-width="1.2"/><text x="85.5" y="404.0" font-family="Liberation Serif" font-size="12" fill="#222" text-anchor="start" font-weight="normal"  stroke="#222" stroke-width="0.35">1.50</text><line x1="77" y1="422.5" x2="80" y2="422.5" stroke="#111" stroke-width="1.2"/><text x="85.5" y="426.5" font-family="Liberation Serif" font-size="12" fill="#222" text-anchor="start" font-weight="normal"  stroke="#222" stroke-width="0.35">1.00</text><line x1="77" y1="445.1" x2="80" y2="445.1" stroke="#111" stroke-width="1.2"/><text x="85.5" y="449.1" font-family="Liberation Serif" font-size="12" fill="#222" text-anchor="start" font-weight="normal"  stroke="#222" stroke-width="0.35">0.50</text><line x1="77" y1="467.6" x2="80" y2="467.6" stroke="#111" stroke-width="1.2"/><text x="85.5" y="471.6" font-family="Liberation Serif" font-size="12" fill="#222" text-anchor="start" font-weight="normal"  stroke="#222" stroke-width="0.35">0.00</text><text transform="translate(140.5,737.5) rotate(-50)" font-family="Liberation Serif" font-size="18.5" fill="#111" text-anchor="end" font-weight="normal"  stroke="#111" stroke-width="0.35">Rmi</text><text transform="translate(163.4,737.5) rotate(-50)" font-family="Liberation Serif" font-size="18.5" fill="#c78fc8" text-anchor="end" font-weight="normal"  stroke="#c78fc8" stroke-width="0.35">Rov</text><text transform="translate(186.4,737.5) rotate(-50)" font-family="Liberation Serif" font-size="18.5" fill="#e8832a" text-anchor="end" font-weight="normal"  stroke="#e8832a" stroke-width="0.35">Rmo</text><text transform="translate(209.4,737.5) rotate(-50)" font-family="Liberation Serif" font-size="18.5" fill="#dc6f98" text-anchor="end" font-weight="normal"  stroke="#dc6f98" stroke-width="0.35">Rch</text><text transform="translate(232.3,737.5) rotate(-50)" font-family="Liberation Serif" font-size="18.5" fill="#9a3fa0" text-anchor="end" font-weight="normal"  stroke="#9a3fa0" stroke-width="0.35">Rmu</text><text transform="translate(255.3,737.5) rotate(-50)" font-family="Liberation Serif" font-size="18.5" fill="#a050a8" text-anchor="end" font-weight="normal"  stroke="#a050a8" stroke-width="0.35">Rni</text><text transform="translate(278.3,737.5) rotate(-50)" font-family="Liberation Serif" font-size="18.5" fill="#d81f48" text-anchor="end" font-weight="normal"  stroke="#d81f48" stroke-width="0.35">Rne</text><text transform="translate(301.2,737.5) rotate(-50)" font-family="Liberation Serif" font-size="18.5" fill="#d01e3e" text-anchor="end" font-weight="normal"  stroke="#d01e3e" stroke-width="0.35">Rsi</text><defs><marker id="ah" markerWidth="10" markerHeight="10" refX="9" refY="5" orient="auto" markerUnits="userSpaceOnUse"><path d="M0,1.5 L10,5 L0,8.5 Z" fill="#222"/></marker></defs><text x="5.0" y="804.5" font-family="Liberation Serif" font-size="29" fill="#000" text-anchor="start" font-weight="normal"  stroke="#000" stroke-width="0.3">C</text><rect x="64.5" y="795" width="1115" height="616" rx="42" ry="42" fill="none" stroke="#2b7bbb" stroke-width="2.2"/><rect x="83.5" y="806" width="1081" height="113" rx="14" ry="14" fill="#fff" stroke="#2b7bbb" stroke-width="2.2"/><rect x="83.5" y="927.5" width="1082.5" height="472.5" rx="34" ry="34" fill="#e9f3e9" stroke="#18703e" stroke-width="2.2"/><ellipse cx="652.6" cy="1344.5" rx="452" ry="43.5" fill="#e6efc4" stroke="#78b848" stroke-width="2"/><text x="490.0" y="836.6" font-family="Liberation Serif" font-size="33" fill="#111" font-weight="normal" textLength="284.0" lengthAdjust="spacingAndGlyphs" stroke="#111" stroke-width="0.3">Anthocyanin (EBGs)</text><text x="487.5" y="957.5" font-family="Liberation Serif" font-size="33" fill="#111" font-weight="normal" textLength="283.2" lengthAdjust="spacingAndGlyphs" stroke="#111" stroke-width="0.3">Anthocyanin (LBGs)</text><text x="117.3" y="882.5" font-family="Liberation Serif" font-size="25.5" fill="#111" font-weight="normal" textLength="146.2" lengthAdjust="spacingAndGlyphs" stroke="#111" stroke-width="0.5">Phenylalanine</text><text x="333.0" y="882.5" font-family="Liberation Serif" font-size="25.5" fill="#111" font-weight="normal" textLength="148.4" lengthAdjust="spacingAndGlyphs" stroke="#111" stroke-width="0.5">Cinnamic acid</text><text x="550.3" y="882.5" font-family="Liberation Serif" font-size="25.5" fill="#111" font-weight="normal" textLength="166.7" lengthAdjust="spacingAndGlyphs" stroke="#111" stroke-width="0.5">p-coumaric acid</text><text x="802.9" y="882.5" font-family="Liberation Serif" font-size="25.5" fill="#111" font-weight="normal" textLength="174.4" lengthAdjust="spacingAndGlyphs" stroke="#111" stroke-width="0.5">4-coumaryl-CoA</text><text x="1055.3" y="882.5" font-family="Liberation Serif" font-size="25.5" fill="#111" font-weight="normal" textLength="96.4" lengthAdjust="spacingAndGlyphs" stroke="#111" stroke-width="0.5">Chalcone</text><line x1="266.8" y1="884" x2="326" y2="884" stroke="#2a2a2a" stroke-width="1.8" marker-end="url(#ah)"/><line x1="482" y1="882.5" x2="542" y2="882.5" stroke="#2a2a2a" stroke-width="1.8" marker-end="url(#ah)"/><line x1="728.4" y1="879.5" x2="787" y2="879.5" stroke="#2a2a2a" stroke-width="1.8" marker-end="url(#ah)"/><line x1="985.4" y1="882.5" x2="1044" y2="882.5" stroke="#2a2a2a" stroke-width="1.8" marker-end="url(#ah)"/><text x="273.5" y="873.0" font-family="Liberation Serif" font-size="24" fill="#111" font-weight="normal" textLength="45.5" lengthAdjust="spacingAndGlyphs" stroke="#111" stroke-width="0.5">PAL</text><text x="487.5" y="868.7" font-family="Liberation Serif" font-size="24" fill="#111" font-weight="normal" textLength="49.0" lengthAdjust="spacingAndGlyphs" stroke="#111" stroke-width="0.5">C4H</text><text x="737.1" y="869.0" font-family="Liberation Serif" font-size="24" fill="#111" font-weight="normal" textLength="45.9" lengthAdjust="spacingAndGlyphs" stroke="#111" stroke-width="0.5">4CL</text><text x="991.1" y="868.7" font-family="Liberation Serif" font-size="24" fill="#111" font-weight="normal" textLength="48.9" lengthAdjust="spacingAndGlyphs" stroke="#111" stroke-width="0.5">CHS</text><text x="1101.2" y="913.0" font-family="Liberation Serif" font-size="24" fill="#111" font-weight="normal" textLength="44.4" lengthAdjust="spacingAndGlyphs" stroke="#111" stroke-width="0.5">CHI</text><line x1="1092.5" y1="891.7" x2="1092.5" y2="992" stroke="#2a2a2a" stroke-width="1.8" marker-end="url(#ah)"/><text x="109.5" y="1005.0" font-family="Liberation Serif" font-size="25.5" fill="#111" font-weight="normal" textLength="102.5" lengthAdjust="spacingAndGlyphs" stroke="#111" stroke-width="0.5">Quercetin</text><text x="235.1" y="995.7" font-family="Liberation Serif" font-size="24" fill="#111" font-weight="normal" textLength="140.7" lengthAdjust="spacingAndGlyphs" stroke="#111" stroke-width="0.5">F3´H, F3´5´H</text><line x1="376.4" y1="1002.5" x2="211" y2="1002.5" stroke="#2a2a2a" stroke-width="1.8" marker-end="url(#ah)"/><text x="385.1" y="1006.4" font-family="Liberation Serif" font-size="25.5" fill="#111" font-weight="normal" textLength="122.3" lengthAdjust="spacingAndGlyphs" stroke="#111" stroke-width="0.5">Kaempferol</text><line x1="596.7" y1="999.4" x2="509.5" y2="999.4" stroke="#2a2a2a" stroke-width="1.8" marker-end="url(#ah)"/><text x="535.3" y="996.2" font-family="Liberation Serif" font-size="27" fill="#1a2a40" font-weight="bold" textLength="47.5" lengthAdjust="spacingAndGlyphs" stroke="#1a2a40" stroke-width="0.5">FLS</text><text x="533.5" y="995.0" font-family="Liberation Serif" font-size="27" fill="#e8141e" font-weight="bold" textLength="47.5" lengthAdjust="spacingAndGlyphs" stroke="#e8141e" stroke-width="0.5">FLS</text><text x="604.0" y="1008.0" font-family="Liberation Serif" font-size="25.5" fill="#111" font-weight="normal" textLength="188.0" lengthAdjust="spacingAndGlyphs" stroke="#111" stroke-width="0.5">Dihydroaempferol</text><text x="816.5" y="997.0" font-family="Liberation Serif" font-size="24" fill="#111" font-weight="normal" textLength="40.5" lengthAdjust="spacingAndGlyphs" stroke="#111" stroke-width="0.5">F3H</text><text x="876.3" y="997.0" font-family="Liberation Serif" font-size="24" fill="#111" font-weight="normal" textLength="163.7" lengthAdjust="spacingAndGlyphs" stroke="#111" stroke-width="0.5">(F3´H, F3´5´H)</text><line x1="1042" y1="1002" x2="791" y2="1002" stroke="#2a2a2a" stroke-width="1.8" marker-end="url(#ah)"/><text x="1049.2" y="1009.5" font-family="Liberation Serif" font-size="25.5" fill="#111" font-weight="normal" textLength="114.8" lengthAdjust="spacingAndGlyphs" stroke="#111" stroke-width="0.5">Naringenin</text><text x="547.2" y="1039.5" font-family="Liberation Serif" font-size="24" fill="#111" font-weight="normal" textLength="52.0" lengthAdjust="spacingAndGlyphs" stroke="#111" stroke-width="0.5">F3´H</text><text x="767.5" y="1045.0" font-family="Liberation Serif" font-size="24" fill="#111" font-weight="normal" textLength="75.1" lengthAdjust="spacingAndGlyphs" stroke="#111" stroke-width="0.5">F3´5´H</text><line x1="675" y1="1021.8" x2="543" y2="1060.5" stroke="#2a2a2a" stroke-width="1.8" marker-end="url(#ah)"/><line x1="687" y1="1021.8" x2="809" y2="1065.5" stroke="#2a2a2a" stroke-width="1.8" marker-end="url(#ah)"/><line x1="681" y1="1021.8" x2="681" y2="1135" stroke="#2a2a2a" stroke-width="1.8" marker-end="url(#ah)"/><text x="360.5" y="1075.0" font-family="Liberation Serif" font-size="25.5" fill="#111" font-weight="normal" textLength="180.5" lengthAdjust="spacingAndGlyphs" stroke="#111" stroke-width="0.5">Dihydroquercetin</text><text x="258.3" y="1077.2" font-family="Liberation Serif" font-size="27" fill="#1a2a40" font-weight="bold" textLength="47.5" lengthAdjust="spacingAndGlyphs" stroke="#1a2a40" stroke-width="0.5">FLS</text><text x="256.5" y="1076.0" font-family="Liberation Serif" font-size="27" fill="#e8141e" font-weight="bold" textLength="47.5" lengthAdjust="spacingAndGlyphs" stroke="#e8141e" stroke-width="0.5">FLS</text><line x1="355" y1="1067.6" x2="208" y2="1020.5" stroke="#2a2a2a" stroke-width="1.8" marker-end="url(#ah)"/><text x="816.5" y="1077.0" font-family="Liberation Serif" font-size="25.5" fill="#111" font-weight="normal" textLength="183.5" lengthAdjust="spacingAndGlyphs" stroke="#111" stroke-width="0.5">Dihydromyricetin</text><text x="999.0" y="1067.2" font-family="Liberation Serif" font-size="27" fill="#1a2a40" font-weight="bold" textLength="47.4" lengthAdjust="spacingAndGlyphs" stroke="#1a2a40" stroke-width="0.5">FLS</text><text x="997.2" y="1066.0" font-family="Liberation Serif" font-size="27" fill="#e8141e" font-weight="bold" textLength="47.4" lengthAdjust="spacingAndGlyphs" stroke="#e8141e" stroke-width="0.5">FLS</text><line x1="1002" y1="1072" x2="1060" y2="1072" stroke="#2a2a2a" stroke-width="1.8" marker-end="url(#ah)"/><text x="1066.0" y="1076.8" font-family="Liberation Serif" font-size="25.5" fill="#111" font-weight="normal" textLength="99.5" lengthAdjust="spacingAndGlyphs" stroke="#111" stroke-width="0.5">Myricetin</text><line x1="452" y1="1083" x2="452" y2="1140" stroke="#2a2a2a" stroke-width="1.8" marker-end="url(#ah)"/><line x1="917" y1="1083" x2="917" y2="1140" stroke="#2a2a2a" stroke-width="1.8" marker-end="url(#ah)"/><text x="394.3" y="1121.7" font-family="Liberation Serif" font-size="27" fill="#1a2a40" font-weight="bold" textLength="52.2" lengthAdjust="spacingAndGlyphs" stroke="#1a2a40" stroke-width="0.5">DFR</text><text x="392.5" y="1120.5" font-family="Liberation Serif" font-size="27" fill="#e8141e" font-weight="bold" textLength="52.2" lengthAdjust="spacingAndGlyphs" stroke="#e8141e" stroke-width="0.5">DFR</text><text x="686.9" y="1113.7" font-family="Liberation Serif" font-size="27" fill="#1a2a40" font-weight="bold" textLength="53.5" lengthAdjust="spacingAndGlyphs" stroke="#1a2a40" stroke-width="0.5">DFR</text><text x="685.1" y="1112.5" font-family="Liberation Serif" font-size="27" fill="#e8141e" font-weight="bold" textLength="53.5" lengthAdjust="spacingAndGlyphs" stroke="#e8141e" stroke-width="0.5">DFR</text><text x="925.3" y="1121.7" font-family="Liberation Serif" font-size="27" fill="#1a2a40" font-weight="bold" textLength="52.2" lengthAdjust="spacingAndGlyphs" stroke="#1a2a40" stroke-width="0.5">DFR</text><text x="923.5" y="1120.5" font-family="Liberation Serif" font-size="27" fill="#e8141e" font-weight="bold" textLength="52.2" lengthAdjust="spacingAndGlyphs" stroke="#e8141e" stroke-width="0.5">DFR</text><text x="371.3" y="1165.0" font-family="Liberation Serif" font-size="25.5" fill="#111" font-weight="normal" textLength="152.7" lengthAdjust="spacingAndGlyphs" stroke="#111" stroke-width="0.5">Leucocyanidin</text><text x="590.2" y="1165.0" font-family="Liberation Serif" font-size="25.5" fill="#111" font-weight="normal" textLength="192.8" lengthAdjust="spacingAndGlyphs" stroke="#111" stroke-width="0.5">Leucopelargonidin</text><text x="836.5" y="1165.0" font-family="Liberation Serif" font-size="25.5" fill="#111" font-weight="normal" textLength="186.5" lengthAdjust="spacingAndGlyphs" stroke="#111" stroke-width="0.5">Leucodelphinidinl</text><line x1="452" y1="1172.6" x2="452" y2="1230" stroke="#2a2a2a" stroke-width="1.8" marker-end="url(#ah)"/><line x1="452" y1="1260" x2="452" y2="1318" stroke="#2a2a2a" stroke-width="1.8" marker-end="url(#ah)"/><line x1="681" y1="1172.6" x2="681" y2="1230" stroke="#2a2a2a" stroke-width="1.8" marker-end="url(#ah)"/><line x1="681" y1="1260" x2="681" y2="1318" stroke="#2a2a2a" stroke-width="1.8" marker-end="url(#ah)"/><line x1="917" y1="1172.6" x2="917" y2="1230" stroke="#2a2a2a" stroke-width="1.8" marker-end="url(#ah)"/><line x1="917" y1="1260" x2="917" y2="1318" stroke="#2a2a2a" stroke-width="1.8" marker-end="url(#ah)"/><text x="398.5" y="1211.0" font-family="Liberation Serif" font-size="24" fill="#111" font-weight="normal" textLength="50.5" lengthAdjust="spacingAndGlyphs" stroke="#111" stroke-width="0.5">ANS</text><text x="633.0" y="1211.0" font-family="Liberation Serif" font-size="24" fill="#111" font-weight="normal" textLength="50.5" lengthAdjust="spacingAndGlyphs" stroke="#111" stroke-width="0.5">ANS</text><text x="862.5" y="1211.0" font-family="Liberation Serif" font-size="24" fill="#111" font-weight="normal" textLength="50.5" lengthAdjust="spacingAndGlyphs" stroke="#111" stroke-width="0.5">ANS</text><text x="406.5" y="1253.7" font-family="Liberation Serif" font-size="25.5" fill="#111" font-weight="normal" textLength="94.5" lengthAdjust="spacingAndGlyphs" stroke="#111" stroke-width="0.5">Cyanidin</text><text x="622.3" y="1253.7" font-family="Liberation Serif" font-size="25.5" fill="#111" font-weight="normal" textLength="131.6" lengthAdjust="spacingAndGlyphs" stroke="#111" stroke-width="0.5">Pelargonidin</text><text x="854.9" y="1253.7" font-family="Liberation Serif" font-size="25.5" fill="#111" font-weight="normal" textLength="122.4" lengthAdjust="spacingAndGlyphs" stroke="#111" stroke-width="0.5">Delphinidin</text><text x="129.5" y="1258.0" font-family="Liberation Serif" font-size="25.5" fill="#111" font-weight="normal" textLength="169.5" lengthAdjust="spacingAndGlyphs" stroke="#111" stroke-width="0.5">Pro-anthocyanin</text><text x="328.5" y="1246.0" font-family="Liberation Serif" font-size="24" fill="#111" font-weight="normal" textLength="53.5" lengthAdjust="spacingAndGlyphs" stroke="#111" stroke-width="0.5">ANR</text><line x1="399" y1="1252" x2="300" y2="1252" stroke="#2a2a2a" stroke-width="1.8" marker-end="url(#ah)"/><text x="376.3" y="1294.2" font-family="Liberation Serif" font-size="27" fill="#1a2a40" font-weight="bold" textLength="67.1" lengthAdjust="spacingAndGlyphs" stroke="#1a2a40" stroke-width="0.5">UFGT</text><text x="374.5" y="1293.0" font-family="Liberation Serif" font-size="27" fill="#e8141e" font-weight="bold" textLength="67.1" lengthAdjust="spacingAndGlyphs" stroke="#e8141e" stroke-width="0.5">UFGT</text><text x="693.0" y="1293.2" font-family="Liberation Serif" font-size="27" fill="#1a2a40" font-weight="bold" textLength="70.3" lengthAdjust="spacingAndGlyphs" stroke="#1a2a40" stroke-width="0.5">UFGT</text><text x="691.2" y="1292.0" font-family="Liberation Serif" font-size="27" fill="#e8141e" font-weight="bold" textLength="70.3" lengthAdjust="spacingAndGlyphs" stroke="#e8141e" stroke-width="0.5">UFGT</text><text x="924.0" y="1294.2" font-family="Liberation Serif" font-size="27" fill="#1a2a40" font-weight="bold" textLength="68.8" lengthAdjust="spacingAndGlyphs" stroke="#1a2a40" stroke-width="0.5">UFGT</text><text x="922.2" y="1293.0" font-family="Liberation Serif" font-size="27" fill="#e8141e" font-weight="bold" textLength="68.8" lengthAdjust="spacingAndGlyphs" stroke="#e8141e" stroke-width="0.5">UFGT</text><text x="294.5" y="1341.0" font-family="Liberation Serif" font-size="25.5" fill="#111" font-weight="normal" textLength="222.1" lengthAdjust="spacingAndGlyphs" stroke="#111" stroke-width="0.5">Cyanidin-3-glucoside</text><text x="532.5" y="1341.0" font-family="Liberation Serif" font-size="25.5" fill="#111" font-weight="normal" textLength="259.4" lengthAdjust="spacingAndGlyphs" stroke="#111" stroke-width="0.5">Pelargonidin-3-glucoside</text><text x="805.9" y="1341.0" font-family="Liberation Serif" font-size="25.5" fill="#111" font-weight="normal" textLength="250.9" lengthAdjust="spacingAndGlyphs" stroke="#111" stroke-width="0.5">Delphinidin-3-glucoside</text><text x="566.5" y="1377.4" font-family="Liberation Serif" font-size="28" fill="#111" font-weight="normal" textLength="146.9" lengthAdjust="spacingAndGlyphs" stroke="#111" stroke-width="0.3">Anthocyanin</text><text x="564.0" y="301.0" font-family="Liberation Serif" font-size="33" fill="#000" text-anchor="start" font-weight="normal"  stroke="#000" stroke-width="0.3">D</text><line x1="597" y1="459.5" x2="869" y2="459.5" stroke="#9a9a9a" stroke-width="1.6"/><text x="596" y="462.5" font-family="Liberation Sans" font-size="7.5" fill="#333" text-anchor="end">0</text><line x1="597" y1="436.9" x2="869" y2="436.9" stroke="#9a9a9a" stroke-width="1.6"/><text x="596" y="439.9" font-family="Liberation Sans" font-size="7.5" fill="#333" text-anchor="end">2</text><line x1="597" y1="414.2" x2="869" y2="414.2" stroke="#9a9a9a" stroke-width="1.6"/><text x="596" y="417.2" font-family="Liberation Sans" font-size="7.5" fill="#333" text-anchor="end">4</text><line x1="597" y1="391.6" x2="869" y2="391.6" stroke="#9a9a9a" stroke-width="1.6"/><text x="596" y="394.6" font-family="Liberation Sans" font-size="7.5" fill="#333" text-anchor="end">6</text><line x1="597" y1="369.0" x2="869" y2="369.0" stroke="#9a9a9a" stroke-width="1.6"/><text x="596" y="372.0" font-family="Liberation Sans" font-size="7.5" fill="#333" text-anchor="end">8</text><line x1="597" y1="346.3" x2="869" y2="346.3" stroke="#9a9a9a" stroke-width="1.6"/><text x="596" y="349.3" font-family="Liberation Sans" font-size="7.5" fill="#333" text-anchor="end">10</text><line x1="597" y1="323.7" x2="869" y2="323.7" stroke="#9a9a9a" stroke-width="1.6"/><text x="596" y="326.7" font-family="Liberation Sans" font-size="7.5" fill="#333" text-anchor="end">12</text><line x1="601" y1="323.7" x2="601" y2="462.5" stroke="#9a9a9a" stroke-width="1.4"/><line x1="601" y1="459.5" x2="869" y2="459.5" stroke="#8a8a8a" stroke-width="2"/><line x1="601.0" y1="459.5" x2="601.0" y2="463.5" stroke="#8a8a8a" stroke-width="1.4"/><line x1="634.5" y1="459.5" x2="634.5" y2="463.5" stroke="#8a8a8a" stroke-width="1.4"/><line x1="668.0" y1="459.5" x2="668.0" y2="463.5" stroke="#8a8a8a" stroke-width="1.4"/><line x1="701.5" y1="459.5" x2="701.5" y2="463.5" stroke="#8a8a8a" stroke-width="1.4"/><line x1="735.0" y1="459.5" x2="735.0" y2="463.5" stroke="#8a8a8a" stroke-width="1.4"/><line x1="768.5" y1="459.5" x2="768.5" y2="463.5" stroke="#8a8a8a" stroke-width="1.4"/><line x1="802.0" y1="459.5" x2="802.0" y2="463.5" stroke="#8a8a8a" stroke-width="1.4"/><line x1="835.5" y1="459.5" x2="835.5" y2="463.5" stroke="#8a8a8a" stroke-width="1.4"/><line x1="869.0" y1="459.5" x2="869.0" y2="463.5" stroke="#8a8a8a" stroke-width="1.4"/><rect x="611.5" y="337.3" width="12.6" height="122.2" fill="#4576b0"/><line x1="617.8" y1="333.9" x2="617.8" y2="340.7" stroke="#333" stroke-width="1.2"/><line x1="615.8" y1="333.9" x2="619.8" y2="333.9" stroke="#333" stroke-width="1.2"/><line x1="649.2" y1="458.5" x2="653.2" y2="458.5" stroke="#333" stroke-width="1.5"/><line x1="682.8" y1="458.5" x2="686.8" y2="458.5" stroke="#333" stroke-width="1.5"/><line x1="716.2" y1="458.5" x2="720.2" y2="458.5" stroke="#333" stroke-width="1.5"/><line x1="749.8" y1="458.5" x2="753.8" y2="458.5" stroke="#333" stroke-width="1.5"/><rect x="779.0" y="448.2" width="12.6" height="11.3" fill="#4576b0"/><line x1="785.2" y1="447.6" x2="785.2" y2="448.7" stroke="#333" stroke-width="1.2"/><line x1="783.2" y1="447.6" x2="787.2" y2="447.6" stroke="#333" stroke-width="1.2"/><line x1="816.8" y1="458.5" x2="820.8" y2="458.5" stroke="#333" stroke-width="1.5"/><line x1="850.2" y1="458.5" x2="854.2" y2="458.5" stroke="#333" stroke-width="1.5"/><text transform="translate(588,393.6) rotate(-90)" font-family="Liberation Serif" font-size="19" fill="#222" text-anchor="middle" textLength="147" lengthAdjust="spacingAndGlyphs" stroke="#222" stroke-width="0.35">Relative expression</text><text x="675" y="349.5" font-family="Liberation Serif" font-size="30" fill="#111" textLength="122" lengthAdjust="spacingAndGlyphs" stroke="#111" stroke-width="0.3">F3´5´H_R2</text><text transform="translate(628.8,472.5) rotate(-45)" font-family="Liberation Sans" font-size="20.5" fill="#111111" text-anchor="end" font-weight="normal"  stroke="#111111" stroke-width="0.5">Rmi</text><text transform="translate(662.2,472.5) rotate(-45)" font-family="Liberation Sans" font-size="20.5" fill="#c68cc6" text-anchor="end" font-weight="normal"  stroke="#c68cc6" stroke-width="0.5">Rov</text><text transform="translate(695.8,472.5) rotate(-45)" font-family="Liberation Sans" font-size="20.5" fill="#e47a28" text-anchor="end" font-weight="normal"  stroke="#e47a28" stroke-width="0.5">Rmo</text><text transform="translate(729.2,472.5) rotate(-45)" font-family="Liberation Sans" font-size="20.5" fill="#d8689a" text-anchor="end" font-weight="normal"  stroke="#d8689a" stroke-width="0.5">Rch</text><text transform="translate(762.8,472.5) rotate(-45)" font-family="Liberation Sans" font-size="20.5" fill="#9438a0" text-anchor="end" font-weight="normal"  stroke="#9438a0" stroke-width="0.5">Rmu</text><text transform="translate(796.2,472.5) rotate(-45)" font-family="Liberation Sans" font-size="20.5" fill="#9c48a6" text-anchor="end" font-weight="normal"  stroke="#9c48a6" stroke-width="0.5">Rni</text><text transform="translate(829.8,472.5) rotate(-45)" font-family="Liberation Sans" font-size="20.5" fill="#d8143e" text-anchor="end" font-weight="normal"  stroke="#d8143e" stroke-width="0.5">Rne</text><text transform="translate(863.2,472.5) rotate(-45)" font-family="Liberation Sans" font-size="20.5" fill="#d0183c" text-anchor="end" font-weight="normal"  stroke="#d0183c" stroke-width="0.5">Rsi</text><line x1="931.3" y1="459.4" x2="1189.5" y2="459.4" stroke="#9a9a9a" stroke-width="1.6"/><text x="930.3" y="462.4" font-family="Liberation Sans" font-size="7.5" fill="#333" text-anchor="end">0</text><line x1="931.3" y1="436.1" x2="1189.5" y2="436.1" stroke="#9a9a9a" stroke-width="1.6"/><text x="930.3" y="439.1" font-family="Liberation Sans" font-size="7.5" fill="#333" text-anchor="end">50</text><line x1="931.3" y1="412.9" x2="1189.5" y2="412.9" stroke="#9a9a9a" stroke-width="1.6"/><text x="930.3" y="415.9" font-family="Liberation Sans" font-size="7.5" fill="#333" text-anchor="end">100</text><line x1="931.3" y1="389.6" x2="1189.5" y2="389.6" stroke="#9a9a9a" stroke-width="1.6"/><text x="930.3" y="392.6" font-family="Liberation Sans" font-size="7.5" fill="#333" text-anchor="end">150</text><line x1="931.3" y1="366.3" x2="1189.5" y2="366.3" stroke="#9a9a9a" stroke-width="1.6"/><text x="930.3" y="369.3" font-family="Liberation Sans" font-size="7.5" fill="#333" text-anchor="end">200</text><line x1="931.3" y1="343.1" x2="1189.5" y2="343.1" stroke="#9a9a9a" stroke-width="1.6"/><text x="930.3" y="346.1" font-family="Liberation Sans" font-size="7.5" fill="#333" text-anchor="end">250</text><line x1="931.3" y1="319.8" x2="1189.5" y2="319.8" stroke="#9a9a9a" stroke-width="1.6"/><text x="930.3" y="322.8" font-family="Liberation Sans" font-size="7.5" fill="#333" text-anchor="end">300</text><line x1="935.3" y1="319.8" x2="935.3" y2="462.4" stroke="#9a9a9a" stroke-width="1.4"/><line x1="935.3" y1="459.4" x2="1189.5" y2="459.4" stroke="#8a8a8a" stroke-width="2"/><line x1="935.3" y1="459.4" x2="935.3" y2="463.4" stroke="#8a8a8a" stroke-width="1.4"/><line x1="967.1" y1="459.4" x2="967.1" y2="463.4" stroke="#8a8a8a" stroke-width="1.4"/><line x1="998.8" y1="459.4" x2="998.8" y2="463.4" stroke="#8a8a8a" stroke-width="1.4"/><line x1="1030.6" y1="459.4" x2="1030.6" y2="463.4" stroke="#8a8a8a" stroke-width="1.4"/><line x1="1062.4" y1="459.4" x2="1062.4" y2="463.4" stroke="#8a8a8a" stroke-width="1.4"/><line x1="1094.2" y1="459.4" x2="1094.2" y2="463.4" stroke="#8a8a8a" stroke-width="1.4"/><line x1="1126.0" y1="459.4" x2="1126.0" y2="463.4" stroke="#8a8a8a" stroke-width="1.4"/><line x1="1157.7" y1="459.4" x2="1157.7" y2="463.4" stroke="#8a8a8a" stroke-width="1.4"/><line x1="1189.5" y1="459.4" x2="1189.5" y2="463.4" stroke="#8a8a8a" stroke-width="1.4"/><line x1="949.2" y1="458.2" x2="953.2" y2="458.2" stroke="#333" stroke-width="1.5"/><rect x="976.7" y="358.0" width="12.6" height="101.4" fill="#4576b0"/><line x1="983.0" y1="347.7" x2="983.0" y2="368.2" stroke="#333" stroke-width="1.2"/><line x1="981.0" y1="347.7" x2="985.0" y2="347.7" stroke="#333" stroke-width="1.2"/><line x1="1012.7" y1="458.3" x2="1016.7" y2="458.3" stroke="#333" stroke-width="1.5"/><rect x="1040.2" y="431.5" width="12.6" height="27.9" fill="#4576b0"/><line x1="1046.5" y1="431.0" x2="1046.5" y2="431.9" stroke="#333" stroke-width="1.2"/><line x1="1044.5" y1="431.0" x2="1048.5" y2="431.0" stroke="#333" stroke-width="1.2"/><rect x="1072.0" y="412.9" width="12.6" height="46.5" fill="#4576b0"/><line x1="1078.3" y1="411.9" x2="1078.3" y2="413.8" stroke="#333" stroke-width="1.2"/><line x1="1076.3" y1="411.9" x2="1080.3" y2="411.9" stroke="#333" stroke-width="1.2"/><rect x="1103.8" y="408.2" width="12.6" height="51.2" fill="#4576b0"/><line x1="1110.1" y1="407.7" x2="1110.1" y2="408.7" stroke="#333" stroke-width="1.2"/><line x1="1108.1" y1="407.7" x2="1112.1" y2="407.7" stroke="#333" stroke-width="1.2"/><rect x="1135.5" y="444.5" width="12.6" height="14.9" fill="#4576b0"/><line x1="1141.8" y1="441.3" x2="1141.8" y2="447.8" stroke="#333" stroke-width="1.2"/><line x1="1139.8" y1="441.3" x2="1143.8" y2="441.3" stroke="#333" stroke-width="1.2"/><line x1="1171.6" y1="458.2" x2="1175.6" y2="458.2" stroke="#333" stroke-width="1.5"/><text transform="translate(911,391.6) rotate(-90)" font-family="Liberation Serif" font-size="19" fill="#222" text-anchor="middle" textLength="147" lengthAdjust="spacingAndGlyphs" stroke="#222" stroke-width="0.35">Relative expression</text><text x="1004" y="344" font-family="Liberation Serif" font-size="30" fill="#111" textLength="119" lengthAdjust="spacingAndGlyphs" stroke="#111" stroke-width="0.3">F3´5´H_R3</text><text transform="translate(962.2,472.4) rotate(-45)" font-family="Liberation Sans" font-size="20.5" fill="#111111" text-anchor="end" font-weight="normal"  stroke="#111111" stroke-width="0.5">Rmi</text><text transform="translate(994.0,472.4) rotate(-45)" font-family="Liberation Sans" font-size="20.5" fill="#c68cc6" text-anchor="end" font-weight="normal"  stroke="#c68cc6" stroke-width="0.5">Rov</text><text transform="translate(1025.7,472.4) rotate(-45)" font-family="Liberation Sans" font-size="20.5" fill="#e47a28" text-anchor="end" font-weight="normal"  stroke="#e47a28" stroke-width="0.5">Rmo</text><text transform="translate(1057.5,472.4) rotate(-45)" font-family="Liberation Sans" font-size="20.5" fill="#d8689a" text-anchor="end" font-weight="normal"  stroke="#d8689a" stroke-width="0.5">Rch</text><text transform="translate(1089.3,472.4) rotate(-45)" font-family="Liberation Sans" font-size="20.5" fill="#9438a0" text-anchor="end" font-weight="normal"  stroke="#9438a0" stroke-width="0.5">Rmu</text><text transform="translate(1121.1,472.4) rotate(-45)" font-family="Liberation Sans" font-size="20.5" fill="#9c48a6" text-anchor="end" font-weight="normal"  stroke="#9c48a6" stroke-width="0.5">Rni</text><text transform="translate(1152.8,472.4) rotate(-45)" font-family="Liberation Sans" font-size="20.5" fill="#d8143e" text-anchor="end" font-weight="normal"  stroke="#d8143e" stroke-width="0.5">Rne</text><text transform="translate(1184.6,472.4) rotate(-45)" font-family="Liberation Sans" font-size="20.5" fill="#d0183c" text-anchor="end" font-weight="normal"  stroke="#d0183c" stroke-width="0.5">Rsi</text><line x1="608" y1="664.5" x2="879.7" y2="664.5" stroke="#9a9a9a" stroke-width="1.6"/><text x="607" y="667.5" font-family="Liberation Sans" font-size="7.5" fill="#333" text-anchor="end">0</text><line x1="608" y1="649.1" x2="879.7" y2="649.1" stroke="#9a9a9a" stroke-width="1.6"/><text x="607" y="652.1" font-family="Liberation Sans" font-size="7.5" fill="#333" text-anchor="end">10</text><line x1="608" y1="633.7" x2="879.7" y2="633.7" stroke="#9a9a9a" stroke-width="1.6"/><text x="607" y="636.7" font-family="Liberation Sans" font-size="7.5" fill="#333" text-anchor="end">20</text><line x1="608" y1="618.3" x2="879.7" y2="618.3" stroke="#9a9a9a" stroke-width="1.6"/><text x="607" y="621.3" font-family="Liberation Sans" font-size="7.5" fill="#333" text-anchor="end">30</text><line x1="608" y1="602.9" x2="879.7" y2="602.9" stroke="#9a9a9a" stroke-width="1.6"/><text x="607" y="605.9" font-family="Liberation Sans" font-size="7.5" fill="#333" text-anchor="end">40</text><line x1="608" y1="587.5" x2="879.7" y2="587.5" stroke="#9a9a9a" stroke-width="1.6"/><text x="607" y="590.5" font-family="Liberation Sans" font-size="7.5" fill="#333" text-anchor="end">50</text><line x1="608" y1="572.1" x2="879.7" y2="572.1" stroke="#9a9a9a" stroke-width="1.6"/><text x="607" y="575.1" font-family="Liberation Sans" font-size="7.5" fill="#333" text-anchor="end">60</text><line x1="608" y1="556.7" x2="879.7" y2="556.7" stroke="#9a9a9a" stroke-width="1.6"/><text x="607" y="559.7" font-family="Liberation Sans" font-size="7.5" fill="#333" text-anchor="end">70</text><line x1="608" y1="541.3" x2="879.7" y2="541.3" stroke="#9a9a9a" stroke-width="1.6"/><text x="607" y="544.3" font-family="Liberation Sans" font-size="7.5" fill="#333" text-anchor="end">80</text><line x1="608" y1="525.9" x2="879.7" y2="525.9" stroke="#9a9a9a" stroke-width="1.6"/><text x="607" y="528.9" font-family="Liberation Sans" font-size="7.5" fill="#333" text-anchor="end">90</text><line x1="608" y1="510.5" x2="879.7" y2="510.5" stroke="#9a9a9a" stroke-width="1.6"/><text x="607" y="513.5" font-family="Liberation Sans" font-size="7.5" fill="#333" text-anchor="end">100</text><line x1="612" y1="510.5" x2="612" y2="667.5" stroke="#9a9a9a" stroke-width="1.4"/><line x1="612" y1="664.5" x2="879.7" y2="664.5" stroke="#8a8a8a" stroke-width="2"/><line x1="612.0" y1="664.5" x2="612.0" y2="668.5" stroke="#8a8a8a" stroke-width="1.4"/><line x1="645.5" y1="664.5" x2="645.5" y2="668.5" stroke="#8a8a8a" stroke-width="1.4"/><line x1="678.9" y1="664.5" x2="678.9" y2="668.5" stroke="#8a8a8a" stroke-width="1.4"/><line x1="712.4" y1="664.5" x2="712.4" y2="668.5" stroke="#8a8a8a" stroke-width="1.4"/><line x1="745.9" y1="664.5" x2="745.9" y2="668.5" stroke="#8a8a8a" stroke-width="1.4"/><line x1="779.3" y1="664.5" x2="779.3" y2="668.5" stroke="#8a8a8a" stroke-width="1.4"/><line x1="812.8" y1="664.5" x2="812.8" y2="668.5" stroke="#8a8a8a" stroke-width="1.4"/><line x1="846.2" y1="664.5" x2="846.2" y2="668.5" stroke="#8a8a8a" stroke-width="1.4"/><line x1="879.7" y1="664.5" x2="879.7" y2="668.5" stroke="#8a8a8a" stroke-width="1.4"/><rect x="622.4" y="663.0" width="12.6" height="1.5" fill="#4576b0"/><line x1="628.7" y1="662.7" x2="628.7" y2="663.3" stroke="#333" stroke-width="1.2"/><line x1="626.7" y1="662.7" x2="630.7" y2="662.7" stroke="#333" stroke-width="1.2"/><rect x="655.9" y="663.0" width="12.6" height="1.5" fill="#4576b0"/><line x1="662.2" y1="662.7" x2="662.2" y2="663.3" stroke="#333" stroke-width="1.2"/><line x1="660.2" y1="662.7" x2="664.2" y2="662.7" stroke="#333" stroke-width="1.2"/><rect x="689.4" y="647.6" width="12.6" height="16.9" fill="#4576b0"/><line x1="695.7" y1="646.8" x2="695.7" y2="648.3" stroke="#333" stroke-width="1.2"/><line x1="693.7" y1="646.8" x2="697.7" y2="646.8" stroke="#333" stroke-width="1.2"/><rect x="722.8" y="659.9" width="12.6" height="4.6" fill="#4576b0"/><line x1="729.1" y1="659.1" x2="729.1" y2="660.6" stroke="#333" stroke-width="1.2"/><line x1="727.1" y1="659.1" x2="731.1" y2="659.1" stroke="#333" stroke-width="1.2"/><rect x="756.3" y="613.7" width="12.6" height="50.8" fill="#4576b0"/><line x1="762.6" y1="612.9" x2="762.6" y2="614.4" stroke="#333" stroke-width="1.2"/><line x1="760.6" y1="612.9" x2="764.6" y2="612.9" stroke="#333" stroke-width="1.2"/><rect x="789.7" y="532.1" width="12.6" height="132.4" fill="#4576b0"/><line x1="796.0" y1="521.3" x2="796.0" y2="542.8" stroke="#333" stroke-width="1.2"/><line x1="794.0" y1="521.3" x2="798.0" y2="521.3" stroke="#333" stroke-width="1.2"/><rect x="823.2" y="663.7" width="12.6" height="0.8" fill="#4576b0"/><line x1="829.5" y1="663.4" x2="829.5" y2="664.0" stroke="#333" stroke-width="1.2"/><line x1="827.5" y1="663.4" x2="831.5" y2="663.4" stroke="#333" stroke-width="1.2"/><rect x="856.7" y="592.1" width="12.6" height="72.4" fill="#4576b0"/><line x1="863.0" y1="589.0" x2="863.0" y2="595.2" stroke="#333" stroke-width="1.2"/><line x1="861.0" y1="589.0" x2="865.0" y2="589.0" stroke="#333" stroke-width="1.2"/><text transform="translate(588,589.5) rotate(-90)" font-family="Liberation Serif" font-size="19" fill="#222" text-anchor="middle" textLength="147" lengthAdjust="spacingAndGlyphs" stroke="#222" stroke-width="0.35">Relative expression</text><text x="702.6" y="539.5" font-family="Liberation Serif" font-size="28" fill="#111" textLength="53.69999999999993" lengthAdjust="spacingAndGlyphs" stroke="#111" stroke-width="0.3">DFR</text><text transform="translate(639.7,677.5) rotate(-45)" font-family="Liberation Sans" font-size="20.5" fill="#111111" text-anchor="end" font-weight="normal"  stroke="#111111" stroke-width="0.5">Rmi</text><text transform="translate(673.2,677.5) rotate(-45)" font-family="Liberation Sans" font-size="20.5" fill="#c68cc6" text-anchor="end" font-weight="normal"  stroke="#c68cc6" stroke-width="0.5">Rov</text><text transform="translate(706.7,677.5) rotate(-45)" font-family="Liberation Sans" font-size="20.5" fill="#e47a28" text-anchor="end" font-weight="normal"  stroke="#e47a28" stroke-width="0.5">Rmo</text><text transform="translate(740.1,677.5) rotate(-45)" font-family="Liberation Sans" font-size="20.5" fill="#d8689a" text-anchor="end" font-weight="normal"  stroke="#d8689a" stroke-width="0.5">Rch</text><text transform="translate(773.6,677.5) rotate(-45)" font-family="Liberation Sans" font-size="20.5" fill="#9438a0" text-anchor="end" font-weight="normal"  stroke="#9438a0" stroke-width="0.5">Rmu</text><text transform="translate(807.0,677.5) rotate(-45)" font-family="Liberation Sans" font-size="20.5" fill="#9c48a6" text-anchor="end" font-weight="normal"  stroke="#9c48a6" stroke-width="0.5">Rni</text><text transform="translate(840.5,677.5) rotate(-45)" font-family="Liberation Sans" font-size="20.5" fill="#d8143e" text-anchor="end" font-weight="normal"  stroke="#d8143e" stroke-width="0.5">Rne</text><text transform="translate(874.0,677.5) rotate(-45)" font-family="Liberation Sans" font-size="20.5" fill="#d0183c" text-anchor="end" font-weight="normal"  stroke="#d0183c" stroke-width="0.5">Rsi</text><line x1="931.3" y1="665.9" x2="1189.5" y2="665.9" stroke="#9a9a9a" stroke-width="1.6"/><text x="930.3" y="668.9" font-family="Liberation Sans" font-size="7.5" fill="#333" text-anchor="end">0</text><line x1="931.3" y1="645.0" x2="1189.5" y2="645.0" stroke="#9a9a9a" stroke-width="1.6"/><text x="930.3" y="648.0" font-family="Liberation Sans" font-size="7.5" fill="#333" text-anchor="end">50</text><line x1="931.3" y1="624.0" x2="1189.5" y2="624.0" stroke="#9a9a9a" stroke-width="1.6"/><text x="930.3" y="627.0" font-family="Liberation Sans" font-size="7.5" fill="#333" text-anchor="end">100</text><line x1="931.3" y1="603.1" x2="1189.5" y2="603.1" stroke="#9a9a9a" stroke-width="1.6"/><text x="930.3" y="606.1" font-family="Liberation Sans" font-size="7.5" fill="#333" text-anchor="end">150</text><line x1="931.3" y1="582.2" x2="1189.5" y2="582.2" stroke="#9a9a9a" stroke-width="1.6"/><text x="930.3" y="585.2" font-family="Liberation Sans" font-size="7.5" fill="#333" text-anchor="end">200</text><line x1="931.3" y1="561.3" x2="1189.5" y2="561.3" stroke="#9a9a9a" stroke-width="1.6"/><text x="930.3" y="564.3" font-family="Liberation Sans" font-size="7.5" fill="#333" text-anchor="end">250</text><line x1="931.3" y1="540.3" x2="1189.5" y2="540.3" stroke="#9a9a9a" stroke-width="1.6"/><text x="930.3" y="543.3" font-family="Liberation Sans" font-size="7.5" fill="#333" text-anchor="end">300</text><line x1="931.3" y1="519.4" x2="1189.5" y2="519.4" stroke="#9a9a9a" stroke-width="1.6"/><text x="930.3" y="522.4" font-family="Liberation Sans" font-size="7.5" fill="#333" text-anchor="end">350</text><line x1="935.3" y1="519.4" x2="935.3" y2="668.9" stroke="#9a9a9a" stroke-width="1.4"/><line x1="935.3" y1="665.9" x2="1189.5" y2="665.9" stroke="#8a8a8a" stroke-width="2"/><line x1="935.3" y1="665.9" x2="935.3" y2="669.9" stroke="#8a8a8a" stroke-width="1.4"/><line x1="967.1" y1="665.9" x2="967.1" y2="669.9" stroke="#8a8a8a" stroke-width="1.4"/><line x1="998.8" y1="665.9" x2="998.8" y2="669.9" stroke="#8a8a8a" stroke-width="1.4"/><line x1="1030.6" y1="665.9" x2="1030.6" y2="669.9" stroke="#8a8a8a" stroke-width="1.4"/><line x1="1062.4" y1="665.9" x2="1062.4" y2="669.9" stroke="#8a8a8a" stroke-width="1.4"/><line x1="1094.2" y1="665.9" x2="1094.2" y2="669.9" stroke="#8a8a8a" stroke-width="1.4"/><line x1="1126.0" y1="665.9" x2="1126.0" y2="669.9" stroke="#8a8a8a" stroke-width="1.4"/><line x1="1157.7" y1="665.9" x2="1157.7" y2="669.9" stroke="#8a8a8a" stroke-width="1.4"/><line x1="1189.5" y1="665.9" x2="1189.5" y2="669.9" stroke="#8a8a8a" stroke-width="1.4"/><line x1="949.2" y1="664.8" x2="953.2" y2="664.8" stroke="#333" stroke-width="1.5"/><rect x="976.7" y="658.8" width="12.6" height="7.1" fill="#4576b0"/><line x1="983.0" y1="658.4" x2="983.0" y2="659.2" stroke="#333" stroke-width="1.2"/><line x1="981.0" y1="658.4" x2="985.0" y2="658.4" stroke="#333" stroke-width="1.2"/><line x1="1012.7" y1="664.8" x2="1016.7" y2="664.8" stroke="#333" stroke-width="1.5"/><rect x="1040.2" y="665.1" width="12.6" height="0.8" fill="#4576b0"/><line x1="1046.5" y1="664.9" x2="1046.5" y2="665.3" stroke="#333" stroke-width="1.2"/><line x1="1044.5" y1="664.9" x2="1048.5" y2="664.9" stroke="#333" stroke-width="1.2"/><rect x="1072.0" y="663.4" width="12.6" height="2.5" fill="#4576b0"/><line x1="1078.3" y1="663.0" x2="1078.3" y2="663.8" stroke="#333" stroke-width="1.2"/><line x1="1076.3" y1="663.0" x2="1080.3" y2="663.0" stroke="#333" stroke-width="1.2"/><line x1="1108.1" y1="664.8" x2="1112.1" y2="664.8" stroke="#333" stroke-width="1.5"/><rect x="1135.5" y="531.1" width="12.6" height="134.8" fill="#4576b0"/><line x1="1141.8" y1="529.9" x2="1141.8" y2="532.4" stroke="#333" stroke-width="1.2"/><line x1="1139.8" y1="529.9" x2="1143.8" y2="529.9" stroke="#333" stroke-width="1.2"/><rect x="1167.3" y="652.5" width="12.6" height="13.4" fill="#4576b0"/><line x1="1173.6" y1="649.6" x2="1173.6" y2="655.4" stroke="#333" stroke-width="1.2"/><line x1="1171.6" y1="649.6" x2="1175.6" y2="649.6" stroke="#333" stroke-width="1.2"/><text transform="translate(911,594.6) rotate(-90)" font-family="Liberation Serif" font-size="19" fill="#222" text-anchor="middle" textLength="147" lengthAdjust="spacingAndGlyphs" stroke="#222" stroke-width="0.35">Relative expression</text><text x="995.7" y="546.2" font-family="Liberation Serif" font-size="29" fill="#111" textLength="146.0" lengthAdjust="spacingAndGlyphs" stroke="#111" stroke-width="0.3">UFGT_R2_1</text><text transform="translate(962.2,678.9) rotate(-45)" font-family="Liberation Sans" font-size="20.5" fill="#111111" text-anchor="end" font-weight="normal"  stroke="#111111" stroke-width="0.5">Rmi</text><text transform="translate(994.0,678.9) rotate(-45)" font-family="Liberation Sans" font-size="20.5" fill="#c68cc6" text-anchor="end" font-weight="normal"  stroke="#c68cc6" stroke-width="0.5">Rov</text><text transform="translate(1025.7,678.9) rotate(-45)" font-family="Liberation Sans" font-size="20.5" fill="#e47a28" text-anchor="end" font-weight="normal"  stroke="#e47a28" stroke-width="0.5">Rmo</text><text transform="translate(1057.5,678.9) rotate(-45)" font-family="Liberation Sans" font-size="20.5" fill="#d8689a" text-anchor="end" font-weight="normal"  stroke="#d8689a" stroke-width="0.5">Rch</text><text transform="translate(1089.3,678.9) rotate(-45)" font-family="Liberation Sans" font-size="20.5" fill="#9438a0" text-anchor="end" font-weight="normal"  stroke="#9438a0" stroke-width="0.5">Rmu</text><text transform="translate(1121.1,678.9) rotate(-45)" font-family="Liberation Sans" font-size="20.5" fill="#9c48a6" text-anchor="end" font-weight="normal"  stroke="#9c48a6" stroke-width="0.5">Rni</text><text transform="translate(1152.8,678.9) rotate(-45)" font-family="Liberation Sans" font-size="20.5" fill="#d8143e" text-anchor="end" font-weight="normal"  stroke="#d8143e" stroke-width="0.5">Rne</text><text transform="translate(1184.6,678.9) rotate(-45)" font-family="Liberation Sans" font-size="20.5" fill="#d0183c" text-anchor="end" font-weight="normal"  stroke="#d0183c" stroke-width="0.5">Rsi</text><text x="1200.0" y="23.6" font-family="Liberation Serif" font-size="27" fill="#000" text-anchor="start" font-weight="normal"  stroke="#000" stroke-width="0.5">E</text><rect x="1231" y="16.8" width="910" height="625" rx="42" ry="42" fill="none" stroke="#2a7ab6" stroke-width="2.4"/><text x="1577.6" y="68.5" font-family="Liberation Serif" font-size="37.5" fill="#111" textLength="320" lengthAdjust="spacingAndGlyphs" stroke="#111" stroke-width="0.3">Anthocyanin (EBGs)</text><rect x="1373.85" y="106.20" width="31.84" height="39.86" fill="#e2b2b3"/><rect x="1405.09" y="106.20" width="31.84" height="39.86" fill="#e2b2b3"/><rect x="1436.33" y="106.20" width="31.84" height="39.86" fill="#e2b2b3"/><rect x="1467.57" y="106.20" width="31.84" height="39.86" fill="#3953a1"/><rect x="1498.81" y="106.20" width="31.84" height="39.86" fill="#3953a1"/><rect x="1530.05" y="106.20" width="31.84" height="39.86" fill="#3953a1"/><rect x="1561.29" y="106.20" width="31.84" height="39.86" fill="#c8c8e3"/><rect x="1592.53" y="106.20" width="31.84" height="39.86" fill="#a1a3cf"/><rect x="1623.77" y="106.20" width="31.84" height="39.86" fill="#c8c8e3"/><rect x="1655.01" y="106.20" width="31.84" height="39.86" fill="#f5f4f9"/><rect x="1686.25" y="106.20" width="31.84" height="39.86" fill="#e2b2b3"/><rect x="1717.49" y="106.20" width="31.84" height="39.86" fill="#f5f4f9"/><rect x="1748.72" y="106.20" width="31.84" height="39.86" fill="#3953a1"/><rect x="1779.96" y="106.20" width="31.84" height="39.86" fill="#7f85bd"/><rect x="1811.20" y="106.20" width="31.84" height="39.86" fill="#a1a3cf"/><rect x="1842.44" y="106.20" width="31.84" height="39.86" fill="#a1a3cf"/><rect x="1873.68" y="106.20" width="31.84" height="39.86" fill="#7f85bd"/><rect x="1904.92" y="106.20" width="31.84" height="39.86" fill="#5f69ac"/><rect x="1936.16" y="106.20" width="31.84" height="39.86" fill="#3953a1"/><rect x="1967.40" y="106.20" width="31.84" height="39.86" fill="#3953a1"/><rect x="1998.64" y="106.20" width="31.84" height="39.86" fill="#3953a1"/><rect x="2029.88" y="106.20" width="31.84" height="39.86" fill="#3953a1"/><rect x="2061.12" y="106.20" width="31.84" height="39.86" fill="#3953a1"/><rect x="2092.36" y="106.20" width="31.84" height="39.86" fill="#4a58a4"/><text transform="translate(1363,133.3) scale(1.0,1)" x="0" y="0" font-family="Liberation Serif" font-size="32.5" fill="#111" text-anchor="end" stroke="#111" stroke-width="0.3">PAL_R1</text><rect x="1373.85" y="145.46" width="31.84" height="39.86" fill="#7f85bd"/><rect x="1405.09" y="145.46" width="31.84" height="39.86" fill="#3953a1"/><rect x="1436.33" y="145.46" width="31.84" height="39.86" fill="#a1a3cf"/><rect x="1467.57" y="145.46" width="31.84" height="39.86" fill="#a1a3cf"/><rect x="1498.81" y="145.46" width="31.84" height="39.86" fill="#5f69ac"/><rect x="1530.05" y="145.46" width="31.84" height="39.86" fill="#4a58a4"/><rect x="1561.29" y="145.46" width="31.84" height="39.86" fill="#7f85bd"/><rect x="1592.53" y="145.46" width="31.84" height="39.86" fill="#7f85bd"/><rect x="1623.77" y="145.46" width="31.84" height="39.86" fill="#a1a3cf"/><rect x="1655.01" y="145.46" width="31.84" height="39.86" fill="#e2b2b3"/><rect x="1686.25" y="145.46" width="31.84" height="39.86" fill="#c65b5d"/><rect x="1717.49" y="145.46" width="31.84" height="39.86" fill="#f2d8d9"/><rect x="1748.72" y="145.46" width="31.84" height="39.86" fill="#f5f4f9"/><rect x="1779.96" y="145.46" width="31.84" height="39.86" fill="#7f85bd"/><rect x="1811.20" y="145.46" width="31.84" height="39.86" fill="#7f85bd"/><rect x="1842.44" y="145.46" width="31.84" height="39.86" fill="#c8c8e3"/><rect x="1873.68" y="145.46" width="31.84" height="39.86" fill="#d69193"/><rect x="1904.92" y="145.46" width="31.84" height="39.86" fill="#e2b2b3"/><rect x="1936.16" y="145.46" width="31.84" height="39.86" fill="#e2b2b3"/><rect x="1967.40" y="145.46" width="31.84" height="39.86" fill="#cd7476"/><rect x="1998.64" y="145.46" width="31.84" height="39.86" fill="#cd7476"/><rect x="2029.88" y="145.46" width="31.84" height="39.86" fill="#5f69ac"/><rect x="2061.12" y="145.46" width="31.84" height="39.86" fill="#5f69ac"/><rect x="2092.36" y="145.46" width="31.84" height="39.86" fill="#f5f4f9"/><text transform="translate(1363,172.6) scale(1.0,1)" x="0" y="0" font-family="Liberation Serif" font-size="32.5" fill="#111" text-anchor="end" stroke="#111" stroke-width="0.3">PAL_R2</text><rect x="1373.85" y="184.72" width="31.84" height="39.86" fill="#7f85bd"/><rect x="1405.09" y="184.72" width="31.84" height="39.86" fill="#7f85bd"/><rect x="1436.33" y="184.72" width="31.84" height="39.86" fill="#7f85bd"/><rect x="1467.57" y="184.72" width="31.84" height="39.86" fill="#f2d8d9"/><rect x="1498.81" y="184.72" width="31.84" height="39.86" fill="#f2d8d9"/><rect x="1530.05" y="184.72" width="31.84" height="39.86" fill="#e2b2b3"/><rect x="1561.29" y="184.72" width="31.84" height="39.86" fill="#c65b5d"/><rect x="1592.53" y="184.72" width="31.84" height="39.86" fill="#c65b5d"/><rect x="1623.77" y="184.72" width="31.84" height="39.86" fill="#c65b5d"/><rect x="1655.01" y="184.72" width="31.84" height="39.86" fill="#cd7476"/><rect x="1686.25" y="184.72" width="31.84" height="39.86" fill="#c65b5d"/><rect x="1717.49" y="184.72" width="31.84" height="39.86" fill="#cd7476"/><rect x="1748.72" y="184.72" width="31.84" height="39.86" fill="#f2d8d9"/><rect x="1779.96" y="184.72" width="31.84" height="39.86" fill="#e2b2b3"/><rect x="1811.20" y="184.72" width="31.84" height="39.86" fill="#e2b2b3"/><rect x="1842.44" y="184.72" width="31.84" height="39.86" fill="#c8c8e3"/><rect x="1873.68" y="184.72" width="31.84" height="39.86" fill="#f5f4f9"/><rect x="1904.92" y="184.72" width="31.84" height="39.86" fill="#c8c8e3"/><rect x="1936.16" y="184.72" width="31.84" height="39.86" fill="#f2d8d9"/><rect x="1967.40" y="184.72" width="31.84" height="39.86" fill="#d69193"/><rect x="1998.64" y="184.72" width="31.84" height="39.86" fill="#d69193"/><rect x="2029.88" y="184.72" width="31.84" height="39.86" fill="#f2d8d9"/><rect x="2061.12" y="184.72" width="31.84" height="39.86" fill="#f2d8d9"/><rect x="2092.36" y="184.72" width="31.84" height="39.86" fill="#f2d8d9"/><text transform="translate(1363,211.9) scale(1.0,1)" x="0" y="0" font-family="Liberation Serif" font-size="32.5" fill="#111" text-anchor="end" stroke="#111" stroke-width="0.3">PAL_R3</text><rect x="1373.85" y="223.98" width="31.84" height="39.86" fill="#c8c8e3"/><rect x="1405.09" y="223.98" width="31.84" height="39.86" fill="#c8c8e3"/><rect x="1436.33" y="223.98" width="31.84" height="39.86" fill="#c8c8e3"/><rect x="1467.57" y="223.98" width="31.84" height="39.86" fill="#7f85bd"/><rect x="1498.81" y="223.98" width="31.84" height="39.86" fill="#5f69ac"/><rect x="1530.05" y="223.98" width="31.84" height="39.86" fill="#4a58a4"/><rect x="1561.29" y="223.98" width="31.84" height="39.86" fill="#c8c8e3"/><rect x="1592.53" y="223.98" width="31.84" height="39.86" fill="#c8c8e3"/><rect x="1623.77" y="223.98" width="31.84" height="39.86" fill="#c8c8e3"/><rect x="1655.01" y="223.98" width="31.84" height="39.86" fill="#f2d8d9"/><rect x="1686.25" y="223.98" width="31.84" height="39.86" fill="#e2b2b3"/><rect x="1717.49" y="223.98" width="31.84" height="39.86" fill="#f5f4f9"/><rect x="1748.72" y="223.98" width="31.84" height="39.86" fill="#e2b2b3"/><rect x="1779.96" y="223.98" width="31.84" height="39.86" fill="#f5f4f9"/><rect x="1811.20" y="223.98" width="31.84" height="39.86" fill="#f5f4f9"/><rect x="1842.44" y="223.98" width="31.84" height="39.86" fill="#c8c8e3"/><rect x="1873.68" y="223.98" width="31.84" height="39.86" fill="#e2b2b3"/><rect x="1904.92" y="223.98" width="31.84" height="39.86" fill="#f2d8d9"/><rect x="1936.16" y="223.98" width="31.84" height="39.86" fill="#d69193"/><rect x="1967.40" y="223.98" width="31.84" height="39.86" fill="#cd7476"/><rect x="1998.64" y="223.98" width="31.84" height="39.86" fill="#cd7476"/><rect x="2029.88" y="223.98" width="31.84" height="39.86" fill="#c8c8e3"/><rect x="2061.12" y="223.98" width="31.84" height="39.86" fill="#c8c8e3"/><rect x="2092.36" y="223.98" width="31.84" height="39.86" fill="#f2d8d9"/><text transform="translate(1363,251.1) scale(1.0,1)" x="0" y="0" font-family="Liberation Serif" font-size="32.5" fill="#111" text-anchor="end" stroke="#111" stroke-width="0.3">C4H_R1</text><rect x="1373.85" y="263.25" width="31.84" height="39.86" fill="#3953a1"/><rect x="1405.09" y="263.25" width="31.84" height="39.86" fill="#3953a1"/><rect x="1436.33" y="263.25" width="31.84" height="39.86" fill="#3953a1"/><rect x="1467.57" y="263.25" width="31.84" height="39.86" fill="#3953a1"/><rect x="1498.81" y="263.25" width="31.84" height="39.86" fill="#3953a1"/><rect x="1530.05" y="263.25" width="31.84" height="39.86" fill="#3953a1"/><rect x="1561.29" y="263.25" width="31.84" height="39.86" fill="#3953a1"/><rect x="1592.53" y="263.25" width="31.84" height="39.86" fill="#3953a1"/><rect x="1623.77" y="263.25" width="31.84" height="39.86" fill="#3953a1"/><rect x="1655.01" y="263.25" width="31.84" height="39.86" fill="#f2d8d9"/><rect x="1686.25" y="263.25" width="31.84" height="39.86" fill="#f2d8d9"/><rect x="1717.49" y="263.25" width="31.84" height="39.86" fill="#c8c8e3"/><rect x="1748.72" y="263.25" width="31.84" height="39.86" fill="#3953a1"/><rect x="1779.96" y="263.25" width="31.84" height="39.86" fill="#3953a1"/><rect x="1811.20" y="263.25" width="31.84" height="39.86" fill="#4a58a4"/><rect x="1842.44" y="263.25" width="31.84" height="39.86" fill="#3953a1"/><rect x="1873.68" y="263.25" width="31.84" height="39.86" fill="#4a58a4"/><rect x="1904.92" y="263.25" width="31.84" height="39.86" fill="#3953a1"/><rect x="1936.16" y="263.25" width="31.84" height="39.86" fill="#3953a1"/><rect x="1967.40" y="263.25" width="31.84" height="39.86" fill="#3953a1"/><rect x="1998.64" y="263.25" width="31.84" height="39.86" fill="#3953a1"/><rect x="2029.88" y="263.25" width="31.84" height="39.86" fill="#3953a1"/><rect x="2061.12" y="263.25" width="31.84" height="39.86" fill="#3953a1"/><rect x="2092.36" y="263.25" width="31.84" height="39.86" fill="#3953a1"/><text transform="translate(1363,290.4) scale(1.0,1)" x="0" y="0" font-family="Liberation Serif" font-size="32.5" fill="#111" text-anchor="end" stroke="#111" stroke-width="0.3">C4H_R2</text><rect x="1373.85" y="302.51" width="31.84" height="39.86" fill="#5f69ac"/><rect x="1405.09" y="302.51" width="31.84" height="39.86" fill="#4a58a4"/><rect x="1436.33" y="302.51" width="31.84" height="39.86" fill="#7f85bd"/><rect x="1467.57" y="302.51" width="31.84" height="39.86" fill="#5f69ac"/><rect x="1498.81" y="302.51" width="31.84" height="39.86" fill="#5f69ac"/><rect x="1530.05" y="302.51" width="31.84" height="39.86" fill="#5f69ac"/><rect x="1561.29" y="302.51" width="31.84" height="39.86" fill="#f2d8d9"/><rect x="1592.53" y="302.51" width="31.84" height="39.86" fill="#f5f4f9"/><rect x="1623.77" y="302.51" width="31.84" height="39.86" fill="#f2d8d9"/><rect x="1655.01" y="302.51" width="31.84" height="39.86" fill="#f2d8d9"/><rect x="1686.25" y="302.51" width="31.84" height="39.86" fill="#e2b2b3"/><rect x="1717.49" y="302.51" width="31.84" height="39.86" fill="#e2b2b3"/><rect x="1748.72" y="302.51" width="31.84" height="39.86" fill="#7f85bd"/><rect x="1779.96" y="302.51" width="31.84" height="39.86" fill="#a1a3cf"/><rect x="1811.20" y="302.51" width="31.84" height="39.86" fill="#a1a3cf"/><rect x="1842.44" y="302.51" width="31.84" height="39.86" fill="#a1a3cf"/><rect x="1873.68" y="302.51" width="31.84" height="39.86" fill="#c8c8e3"/><rect x="1904.92" y="302.51" width="31.84" height="39.86" fill="#7f85bd"/><rect x="1936.16" y="302.51" width="31.84" height="39.86" fill="#5f69ac"/><rect x="1967.40" y="302.51" width="31.84" height="39.86" fill="#a1a3cf"/><rect x="1998.64" y="302.51" width="31.84" height="39.86" fill="#a1a3cf"/><rect x="2029.88" y="302.51" width="31.84" height="39.86" fill="#4a58a4"/><rect x="2061.12" y="302.51" width="31.84" height="39.86" fill="#4a58a4"/><rect x="2092.36" y="302.51" width="31.84" height="39.86" fill="#7f85bd"/><text transform="translate(1363,329.6) scale(1.0,1)" x="0" y="0" font-family="Liberation Serif" font-size="32.5" fill="#111" text-anchor="end" stroke="#111" stroke-width="0.3">4CL_R1</text><rect x="1373.85" y="341.77" width="31.84" height="39.86" fill="#3953a1"/><rect x="1405.09" y="341.77" width="31.84" height="39.86" fill="#3953a1"/><rect x="1436.33" y="341.77" width="31.84" height="39.86" fill="#3953a1"/><rect x="1467.57" y="341.77" width="31.84" height="39.86" fill="#5f69ac"/><rect x="1498.81" y="341.77" width="31.84" height="39.86" fill="#3953a1"/><rect x="1530.05" y="341.77" width="31.84" height="39.86" fill="#3953a1"/><rect x="1561.29" y="341.77" width="31.84" height="39.86" fill="#4a58a4"/><rect x="1592.53" y="341.77" width="31.84" height="39.86" fill="#5f69ac"/><rect x="1623.77" y="341.77" width="31.84" height="39.86" fill="#3953a1"/><rect x="1655.01" y="341.77" width="31.84" height="39.86" fill="#7f85bd"/><rect x="1686.25" y="341.77" width="31.84" height="39.86" fill="#7f85bd"/><rect x="1717.49" y="341.77" width="31.84" height="39.86" fill="#4a58a4"/><rect x="1748.72" y="341.77" width="31.84" height="39.86" fill="#7f85bd"/><rect x="1779.96" y="341.77" width="31.84" height="39.86" fill="#3953a1"/><rect x="1811.20" y="341.77" width="31.84" height="39.86" fill="#3953a1"/><rect x="1842.44" y="341.77" width="31.84" height="39.86" fill="#3953a1"/><rect x="1873.68" y="341.77" width="31.84" height="39.86" fill="#7f85bd"/><rect x="1904.92" y="341.77" width="31.84" height="39.86" fill="#4a58a4"/><rect x="1936.16" y="341.77" width="31.84" height="39.86" fill="#a1a3cf"/><rect x="1967.40" y="341.77" width="31.84" height="39.86" fill="#f2d8d9"/><rect x="1998.64" y="341.77" width="31.84" height="39.86" fill="#f2d8d9"/><rect x="2029.88" y="341.77" width="31.84" height="39.86" fill="#4a58a4"/><rect x="2061.12" y="341.77" width="31.84" height="39.86" fill="#5f69ac"/><rect x="2092.36" y="341.77" width="31.84" height="39.86" fill="#7f85bd"/><text transform="translate(1363,368.9) scale(1.0,1)" x="0" y="0" font-family="Liberation Serif" font-size="32.5" fill="#111" text-anchor="end" stroke="#111" stroke-width="0.3">4CL_R2</text><rect x="1373.85" y="381.03" width="31.84" height="39.86" fill="#f2d8d9"/><rect x="1405.09" y="381.03" width="31.84" height="39.86" fill="#f2d8d9"/><rect x="1436.33" y="381.03" width="31.84" height="39.86" fill="#e2b2b3"/><rect x="1467.57" y="381.03" width="31.84" height="39.86" fill="#f5f4f9"/><rect x="1498.81" y="381.03" width="31.84" height="39.86" fill="#f2d8d9"/><rect x="1530.05" y="381.03" width="31.84" height="39.86" fill="#f5f4f9"/><rect x="1561.29" y="381.03" width="31.84" height="39.86" fill="#d69193"/><rect x="1592.53" y="381.03" width="31.84" height="39.86" fill="#e2b2b3"/><rect x="1623.77" y="381.03" width="31.84" height="39.86" fill="#d69193"/><rect x="1655.01" y="381.03" width="31.84" height="39.86" fill="#d69193"/><rect x="1686.25" y="381.03" width="31.84" height="39.86" fill="#d69193"/><rect x="1717.49" y="381.03" width="31.84" height="39.86" fill="#e2b2b3"/><rect x="1748.72" y="381.03" width="31.84" height="39.86" fill="#e2b2b3"/><rect x="1779.96" y="381.03" width="31.84" height="39.86" fill="#d69193"/><rect x="1811.20" y="381.03" width="31.84" height="39.86" fill="#e2b2b3"/><rect x="1842.44" y="381.03" width="31.84" height="39.86" fill="#f2d8d9"/><rect x="1873.68" y="381.03" width="31.84" height="39.86" fill="#e2b2b3"/><rect x="1904.92" y="381.03" width="31.84" height="39.86" fill="#f2d8d9"/><rect x="1936.16" y="381.03" width="31.84" height="39.86" fill="#a1a3cf"/><rect x="1967.40" y="381.03" width="31.84" height="39.86" fill="#c8c8e3"/><rect x="1998.64" y="381.03" width="31.84" height="39.86" fill="#c8c8e3"/><rect x="2029.88" y="381.03" width="31.84" height="39.86" fill="#7f85bd"/><rect x="2061.12" y="381.03" width="31.84" height="39.86" fill="#7f85bd"/><rect x="2092.36" y="381.03" width="31.84" height="39.86" fill="#a1a3cf"/><text transform="translate(1363,408.2) scale(1.0,1)" x="0" y="0" font-family="Liberation Serif" font-size="32.5" fill="#111" text-anchor="end" stroke="#111" stroke-width="0.3">4CL_R3</text><rect x="1373.85" y="420.29" width="31.84" height="39.86" fill="#d69193"/><rect x="1405.09" y="420.29" width="31.84" height="39.86" fill="#d69193"/><rect x="1436.33" y="420.29" width="31.84" height="39.86" fill="#d69193"/><rect x="1467.57" y="420.29" width="31.84" height="39.86" fill="#d69193"/><rect x="1498.81" y="420.29" width="31.84" height="39.86" fill="#f2d8d9"/><rect x="1530.05" y="420.29" width="31.84" height="39.86" fill="#e2b2b3"/><rect x="1561.29" y="420.29" width="31.84" height="39.86" fill="#e2b2b3"/><rect x="1592.53" y="420.29" width="31.84" height="39.86" fill="#d69193"/><rect x="1623.77" y="420.29" width="31.84" height="39.86" fill="#f2d8d9"/><rect x="1655.01" y="420.29" width="31.84" height="39.86" fill="#c3433f"/><rect x="1686.25" y="420.29" width="31.84" height="39.86" fill="#c3433f"/><rect x="1717.49" y="420.29" width="31.84" height="39.86" fill="#c65b5d"/><rect x="1748.72" y="420.29" width="31.84" height="39.86" fill="#cd7476"/><rect x="1779.96" y="420.29" width="31.84" height="39.86" fill="#c65b5d"/><rect x="1811.20" y="420.29" width="31.84" height="39.86" fill="#cd7476"/><rect x="1842.44" y="420.29" width="31.84" height="39.86" fill="#e2b2b3"/><rect x="1873.68" y="420.29" width="31.84" height="39.86" fill="#c65b5d"/><rect x="1904.92" y="420.29" width="31.84" height="39.86" fill="#d69193"/><rect x="1936.16" y="420.29" width="31.84" height="39.86" fill="#c3433f"/><rect x="1967.40" y="420.29" width="31.84" height="39.86" fill="#c3433f"/><rect x="1998.64" y="420.29" width="31.84" height="39.86" fill="#c3433f"/><rect x="2029.88" y="420.29" width="31.84" height="39.86" fill="#e2b2b3"/><rect x="2061.12" y="420.29" width="31.84" height="39.86" fill="#e2b2b3"/><rect x="2092.36" y="420.29" width="31.84" height="39.86" fill="#d69193"/><text transform="translate(1363,447.4) scale(1.0,1)" x="0" y="0" font-family="Liberation Serif" font-size="32.5" fill="#111" text-anchor="end" stroke="#111" stroke-width="0.3">CHS_R1</text><rect x="1373.85" y="459.55" width="31.84" height="39.86" fill="#7f85bd"/><rect x="1405.09" y="459.55" width="31.84" height="39.86" fill="#7f85bd"/><rect x="1436.33" y="459.55" width="31.84" height="39.86" fill="#7f85bd"/><rect x="1467.57" y="459.55" width="31.84" height="39.86" fill="#f5f4f9"/><rect x="1498.81" y="459.55" width="31.84" height="39.86" fill="#a1a3cf"/><rect x="1530.05" y="459.55" width="31.84" height="39.86" fill="#a1a3cf"/><rect x="1561.29" y="459.55" width="31.84" height="39.86" fill="#3953a1"/><rect x="1592.53" y="459.55" width="31.84" height="39.86" fill="#4a58a4"/><rect x="1623.77" y="459.55" width="31.84" height="39.86" fill="#3953a1"/><rect x="1655.01" y="459.55" width="31.84" height="39.86" fill="#7f85bd"/><rect x="1686.25" y="459.55" width="31.84" height="39.86" fill="#f5f4f9"/><rect x="1717.49" y="459.55" width="31.84" height="39.86" fill="#7f85bd"/><rect x="1748.72" y="459.55" width="31.84" height="39.86" fill="#f2d8d9"/><rect x="1779.96" y="459.55" width="31.84" height="39.86" fill="#f5f4f9"/><rect x="1811.20" y="459.55" width="31.84" height="39.86" fill="#7f85bd"/><rect x="1842.44" y="459.55" width="31.84" height="39.86" fill="#7f85bd"/><rect x="1873.68" y="459.55" width="31.84" height="39.86" fill="#e2b2b3"/><rect x="1904.92" y="459.55" width="31.84" height="39.86" fill="#c8c8e3"/><rect x="1936.16" y="459.55" width="31.84" height="39.86" fill="#e2b2b3"/><rect x="1967.40" y="459.55" width="31.84" height="39.86" fill="#cd7476"/><rect x="1998.64" y="459.55" width="31.84" height="39.86" fill="#cd7476"/><rect x="2029.88" y="459.55" width="31.84" height="39.86" fill="#a1a3cf"/><rect x="2061.12" y="459.55" width="31.84" height="39.86" fill="#7f85bd"/><rect x="2092.36" y="459.55" width="31.84" height="39.86" fill="#c8c8e3"/><text transform="translate(1363,486.7) scale(1.0,1)" x="0" y="0" font-family="Liberation Serif" font-size="32.5" fill="#111" text-anchor="end" stroke="#111" stroke-width="0.3">CHS_R2</text><rect x="1373.85" y="498.82" width="31.84" height="39.86" fill="#c8c8e3"/><rect x="1405.09" y="498.82" width="31.84" height="39.86" fill="#c8c8e3"/><rect x="1436.33" y="498.82" width="31.84" height="39.86" fill="#c8c8e3"/><rect x="1467.57" y="498.82" width="31.84" height="39.86" fill="#f5f4f9"/><rect x="1498.81" y="498.82" width="31.84" height="39.86" fill="#c8c8e3"/><rect x="1530.05" y="498.82" width="31.84" height="39.86" fill="#c8c8e3"/><rect x="1561.29" y="498.82" width="31.84" height="39.86" fill="#c8c8e3"/><rect x="1592.53" y="498.82" width="31.84" height="39.86" fill="#f2d8d9"/><rect x="1623.77" y="498.82" width="31.84" height="39.86" fill="#7f85bd"/><rect x="1655.01" y="498.82" width="31.84" height="39.86" fill="#f5f4f9"/><rect x="1686.25" y="498.82" width="31.84" height="39.86" fill="#d69193"/><rect x="1717.49" y="498.82" width="31.84" height="39.86" fill="#f5f4f9"/><rect x="1748.72" y="498.82" width="31.84" height="39.86" fill="#c8c8e3"/><rect x="1779.96" y="498.82" width="31.84" height="39.86" fill="#a1a3cf"/><rect x="1811.20" y="498.82" width="31.84" height="39.86" fill="#c8c8e3"/><rect x="1842.44" y="498.82" width="31.84" height="39.86" fill="#3953a1"/><rect x="1873.68" y="498.82" width="31.84" height="39.86" fill="#3953a1"/><rect x="1904.92" y="498.82" width="31.84" height="39.86" fill="#3953a1"/><rect x="1936.16" y="498.82" width="31.84" height="39.86" fill="#3953a1"/><rect x="1967.40" y="498.82" width="31.84" height="39.86" fill="#5f69ac"/><rect x="1998.64" y="498.82" width="31.84" height="39.86" fill="#5f69ac"/><rect x="2029.88" y="498.82" width="31.84" height="39.86" fill="#c8c8e3"/><rect x="2061.12" y="498.82" width="31.84" height="39.86" fill="#c8c8e3"/><rect x="2092.36" y="498.82" width="31.84" height="39.86" fill="#c8c8e3"/><text transform="translate(1363,525.9) scale(1.0,1)" x="0" y="0" font-family="Liberation Serif" font-size="32.5" fill="#111" text-anchor="end" stroke="#111" stroke-width="0.3">CHS_R3</text><rect x="1373.85" y="538.08" width="31.84" height="39.86" fill="#f5f4f9"/><rect x="1405.09" y="538.08" width="31.84" height="39.86" fill="#f2d8d9"/><rect x="1436.33" y="538.08" width="31.84" height="39.86" fill="#f2d8d9"/><rect x="1467.57" y="538.08" width="31.84" height="39.86" fill="#f2d8d9"/><rect x="1498.81" y="538.08" width="31.84" height="39.86" fill="#e2b2b3"/><rect x="1530.05" y="538.08" width="31.84" height="39.86" fill="#d69193"/><rect x="1561.29" y="538.08" width="31.84" height="39.86" fill="#c8c8e3"/><rect x="1592.53" y="538.08" width="31.84" height="39.86" fill="#f5f4f9"/><rect x="1623.77" y="538.08" width="31.84" height="39.86" fill="#f5f4f9"/><rect x="1655.01" y="538.08" width="31.84" height="39.86" fill="#f5f4f9"/><rect x="1686.25" y="538.08" width="31.84" height="39.86" fill="#e2b2b3"/><rect x="1717.49" y="538.08" width="31.84" height="39.86" fill="#f2d8d9"/><rect x="1748.72" y="538.08" width="31.84" height="39.86" fill="#f2d8d9"/><rect x="1779.96" y="538.08" width="31.84" height="39.86" fill="#7f85bd"/><rect x="1811.20" y="538.08" width="31.84" height="39.86" fill="#5f69ac"/><rect x="1842.44" y="538.08" width="31.84" height="39.86" fill="#f5f4f9"/><rect x="1873.68" y="538.08" width="31.84" height="39.86" fill="#a1a3cf"/><rect x="1904.92" y="538.08" width="31.84" height="39.86" fill="#f2d8d9"/><rect x="1936.16" y="538.08" width="31.84" height="39.86" fill="#e2b2b3"/><rect x="1967.40" y="538.08" width="31.84" height="39.86" fill="#d69193"/><rect x="1998.64" y="538.08" width="31.84" height="39.86" fill="#d69193"/><rect x="2029.88" y="538.08" width="31.84" height="39.86" fill="#a1a3cf"/><rect x="2061.12" y="538.08" width="31.84" height="39.86" fill="#a1a3cf"/><rect x="2092.36" y="538.08" width="31.84" height="39.86" fill="#c8c8e3"/><text transform="translate(1363,565.2) scale(1.0,1)" x="0" y="0" font-family="Liberation Serif" font-size="32.5" fill="#111" text-anchor="end" stroke="#111" stroke-width="0.3">CHI_R1</text><rect x="1373.85" y="577.34" width="31.84" height="39.86" fill="#f5f4f9"/><rect x="1405.09" y="577.34" width="31.84" height="39.86" fill="#f5f4f9"/><rect x="1436.33" y="577.34" width="31.84" height="39.86" fill="#f5f4f9"/><rect x="1467.57" y="577.34" width="31.84" height="39.86" fill="#3953a1"/><rect x="1498.81" y="577.34" width="31.84" height="39.86" fill="#3953a1"/><rect x="1530.05" y="577.34" width="31.84" height="39.86" fill="#3953a1"/><rect x="1561.29" y="577.34" width="31.84" height="39.86" fill="#e2b2b3"/><rect x="1592.53" y="577.34" width="31.84" height="39.86" fill="#e2b2b3"/><rect x="1623.77" y="577.34" width="31.84" height="39.86" fill="#f2d8d9"/><rect x="1655.01" y="577.34" width="31.84" height="39.86" fill="#e2b2b3"/><rect x="1686.25" y="577.34" width="31.84" height="39.86" fill="#f2d8d9"/><rect x="1717.49" y="577.34" width="31.84" height="39.86" fill="#e2b2b3"/><rect x="1748.72" y="577.34" width="31.84" height="39.86" fill="#d69193"/><rect x="1779.96" y="577.34" width="31.84" height="39.86" fill="#e2b2b3"/><rect x="1811.20" y="577.34" width="31.84" height="39.86" fill="#f2d8d9"/><rect x="1842.44" y="577.34" width="31.84" height="39.86" fill="#f5f4f9"/><rect x="1873.68" y="577.34" width="31.84" height="39.86" fill="#e2b2b3"/><rect x="1904.92" y="577.34" width="31.84" height="39.86" fill="#f2d8d9"/><rect x="1936.16" y="577.34" width="31.84" height="39.86" fill="#e2b2b3"/><rect x="1967.40" y="577.34" width="31.84" height="39.86" fill="#d69193"/><rect x="1998.64" y="577.34" width="31.84" height="39.86" fill="#d69193"/><rect x="2029.88" y="577.34" width="31.84" height="39.86" fill="#c8c8e3"/><rect x="2061.12" y="577.34" width="31.84" height="39.86" fill="#a1a3cf"/><rect x="2092.36" y="577.34" width="31.84" height="39.86" fill="#c8c8e3"/><text transform="translate(1363,604.5) scale(1.0,1)" x="0" y="0" font-family="Liberation Serif" font-size="32.5" fill="#111" text-anchor="end" stroke="#111" stroke-width="0.3">CHI_R2</text><text x="1581.8" y="719" font-family="Liberation Serif" font-size="37.5" fill="#111" textLength="319" lengthAdjust="spacingAndGlyphs" stroke="#111" stroke-width="0.3">Anthocyanin (LBGs)</text><rect x="1370.30" y="760.80" width="31.90" height="39.33" fill="#f5f4f9"/><rect x="1401.60" y="760.80" width="31.90" height="39.33" fill="#c8c8e3"/><rect x="1432.89" y="760.80" width="31.90" height="39.33" fill="#f5f4f9"/><rect x="1464.19" y="760.80" width="31.90" height="39.33" fill="#3953a1"/><rect x="1495.48" y="760.80" width="31.90" height="39.33" fill="#3953a1"/><rect x="1526.78" y="760.80" width="31.90" height="39.33" fill="#3953a1"/><rect x="1558.08" y="760.80" width="31.90" height="39.33" fill="#f2d8d9"/><rect x="1589.37" y="760.80" width="31.90" height="39.33" fill="#e2b2b3"/><rect x="1620.67" y="760.80" width="31.90" height="39.33" fill="#f2d8d9"/><rect x="1651.96" y="760.80" width="31.90" height="39.33" fill="#d69193"/><rect x="1683.26" y="760.80" width="31.90" height="39.33" fill="#cd7476"/><rect x="1714.55" y="760.80" width="31.90" height="39.33" fill="#d69193"/><rect x="1745.85" y="760.80" width="31.90" height="39.33" fill="#f2d8d9"/><rect x="1777.15" y="760.80" width="31.90" height="39.33" fill="#f2d8d9"/><rect x="1808.44" y="760.80" width="31.90" height="39.33" fill="#f5f4f9"/><rect x="1839.74" y="760.80" width="31.90" height="39.33" fill="#f2d8d9"/><rect x="1871.03" y="760.80" width="31.90" height="39.33" fill="#cd7476"/><rect x="1902.33" y="760.80" width="31.90" height="39.33" fill="#e2b2b3"/><rect x="1933.62" y="760.80" width="31.90" height="39.33" fill="#d69193"/><rect x="1964.92" y="760.80" width="31.90" height="39.33" fill="#cd7476"/><rect x="1996.22" y="760.80" width="31.90" height="39.33" fill="#cd7476"/><rect x="2027.51" y="760.80" width="31.90" height="39.33" fill="#a1a3cf"/><rect x="2058.81" y="760.80" width="31.90" height="39.33" fill="#a1a3cf"/><rect x="2090.10" y="760.80" width="31.90" height="39.33" fill="#c8c8e3"/><text transform="translate(1363,787.7) scale(0.94,1)" x="0" y="0" font-family="Liberation Serif" font-size="32.5" fill="#111" text-anchor="end" stroke="#111" stroke-width="0.3">F3H_R1</text><rect x="1370.30" y="799.53" width="31.90" height="39.33" fill="#5f69ac"/><rect x="1401.60" y="799.53" width="31.90" height="39.33" fill="#4a58a4"/><rect x="1432.89" y="799.53" width="31.90" height="39.33" fill="#5f69ac"/><rect x="1464.19" y="799.53" width="31.90" height="39.33" fill="#4a58a4"/><rect x="1495.48" y="799.53" width="31.90" height="39.33" fill="#4a58a4"/><rect x="1526.78" y="799.53" width="31.90" height="39.33" fill="#3953a1"/><rect x="1558.08" y="799.53" width="31.90" height="39.33" fill="#4a58a4"/><rect x="1589.37" y="799.53" width="31.90" height="39.33" fill="#a1a3cf"/><rect x="1620.67" y="799.53" width="31.90" height="39.33" fill="#4a58a4"/><rect x="1651.96" y="799.53" width="31.90" height="39.33" fill="#c8c8e3"/><rect x="1683.26" y="799.53" width="31.90" height="39.33" fill="#f2d8d9"/><rect x="1714.55" y="799.53" width="31.90" height="39.33" fill="#c8c8e3"/><rect x="1745.85" y="799.53" width="31.90" height="39.33" fill="#c8c8e3"/><rect x="1777.15" y="799.53" width="31.90" height="39.33" fill="#c8c8e3"/><rect x="1808.44" y="799.53" width="31.90" height="39.33" fill="#a1a3cf"/><rect x="1839.74" y="799.53" width="31.90" height="39.33" fill="#e2b2b3"/><rect x="1871.03" y="799.53" width="31.90" height="39.33" fill="#e2b2b3"/><rect x="1902.33" y="799.53" width="31.90" height="39.33" fill="#e2b2b3"/><rect x="1933.62" y="799.53" width="31.90" height="39.33" fill="#e2b2b3"/><rect x="1964.92" y="799.53" width="31.90" height="39.33" fill="#cd7476"/><rect x="1996.22" y="799.53" width="31.90" height="39.33" fill="#cd7476"/><rect x="2027.51" y="799.53" width="31.90" height="39.33" fill="#c8c8e3"/><rect x="2058.81" y="799.53" width="31.90" height="39.33" fill="#c8c8e3"/><rect x="2090.10" y="799.53" width="31.90" height="39.33" fill="#a1a3cf"/><text transform="translate(1363,826.4) scale(0.94,1)" x="0" y="0" font-family="Liberation Serif" font-size="32.5" fill="#111" text-anchor="end" stroke="#111" stroke-width="0.3">F3H_R2</text><rect x="1370.30" y="838.27" width="31.90" height="39.33" fill="#7f85bd"/><rect x="1401.60" y="838.27" width="31.90" height="39.33" fill="#7f85bd"/><rect x="1432.89" y="838.27" width="31.90" height="39.33" fill="#7f85bd"/><rect x="1464.19" y="838.27" width="31.90" height="39.33" fill="#5f69ac"/><rect x="1495.48" y="838.27" width="31.90" height="39.33" fill="#4a58a4"/><rect x="1526.78" y="838.27" width="31.90" height="39.33" fill="#3953a1"/><rect x="1558.08" y="838.27" width="31.90" height="39.33" fill="#a1a3cf"/><rect x="1589.37" y="838.27" width="31.90" height="39.33" fill="#a1a3cf"/><rect x="1620.67" y="838.27" width="31.90" height="39.33" fill="#a1a3cf"/><rect x="1651.96" y="838.27" width="31.90" height="39.33" fill="#f2d8d9"/><rect x="1683.26" y="838.27" width="31.90" height="39.33" fill="#e2b2b3"/><rect x="1714.55" y="838.27" width="31.90" height="39.33" fill="#f2d8d9"/><rect x="1745.85" y="838.27" width="31.90" height="39.33" fill="#7f85bd"/><rect x="1777.15" y="838.27" width="31.90" height="39.33" fill="#4a58a4"/><rect x="1808.44" y="838.27" width="31.90" height="39.33" fill="#4a58a4"/><rect x="1839.74" y="838.27" width="31.90" height="39.33" fill="#c8c8e3"/><rect x="1871.03" y="838.27" width="31.90" height="39.33" fill="#e2b2b3"/><rect x="1902.33" y="838.27" width="31.90" height="39.33" fill="#f5f4f9"/><rect x="1933.62" y="838.27" width="31.90" height="39.33" fill="#7f85bd"/><rect x="1964.92" y="838.27" width="31.90" height="39.33" fill="#c8c8e3"/><rect x="1996.22" y="838.27" width="31.90" height="39.33" fill="#c8c8e3"/><rect x="2027.51" y="838.27" width="31.90" height="39.33" fill="#c8c8e3"/><rect x="2058.81" y="838.27" width="31.90" height="39.33" fill="#c8c8e3"/><rect x="2090.10" y="838.27" width="31.90" height="39.33" fill="#c8c8e3"/><text transform="translate(1363,865.1) scale(0.94,1)" x="0" y="0" font-family="Liberation Serif" font-size="32.5" fill="#111" text-anchor="end" stroke="#111" stroke-width="0.3">F3´H</text><rect x="1370.30" y="877.00" width="31.90" height="39.33" fill="#3953a1"/><rect x="1401.60" y="877.00" width="31.90" height="39.33" fill="#3953a1"/><rect x="1432.89" y="877.00" width="31.90" height="39.33" fill="#3953a1"/><rect x="1464.19" y="877.00" width="31.90" height="39.33" fill="#3953a1"/><rect x="1495.48" y="877.00" width="31.90" height="39.33" fill="#3953a1"/><rect x="1526.78" y="877.00" width="31.90" height="39.33" fill="#3953a1"/><rect x="1558.08" y="877.00" width="31.90" height="39.33" fill="#3953a1"/><rect x="1589.37" y="877.00" width="31.90" height="39.33" fill="#3953a1"/><rect x="1620.67" y="877.00" width="31.90" height="39.33" fill="#3953a1"/><rect x="1651.96" y="877.00" width="31.90" height="39.33" fill="#3953a1"/><rect x="1683.26" y="877.00" width="31.90" height="39.33" fill="#3953a1"/><rect x="1714.55" y="877.00" width="31.90" height="39.33" fill="#3953a1"/><rect x="1745.85" y="877.00" width="31.90" height="39.33" fill="#3953a1"/><rect x="1777.15" y="877.00" width="31.90" height="39.33" fill="#3953a1"/><rect x="1808.44" y="877.00" width="31.90" height="39.33" fill="#3953a1"/><rect x="1839.74" y="877.00" width="31.90" height="39.33" fill="#3953a1"/><rect x="1871.03" y="877.00" width="31.90" height="39.33" fill="#3953a1"/><rect x="1902.33" y="877.00" width="31.90" height="39.33" fill="#3953a1"/><rect x="1933.62" y="877.00" width="31.90" height="39.33" fill="#3953a1"/><rect x="1964.92" y="877.00" width="31.90" height="39.33" fill="#5f69ac"/><rect x="1996.22" y="877.00" width="31.90" height="39.33" fill="#5f69ac"/><rect x="2027.51" y="877.00" width="31.90" height="39.33" fill="#3953a1"/><rect x="2058.81" y="877.00" width="31.90" height="39.33" fill="#3953a1"/><rect x="2090.10" y="877.00" width="31.90" height="39.33" fill="#3953a1"/><text transform="translate(1363,903.9) scale(0.94,1)" x="0" y="0" font-family="Liberation Serif" font-size="32.5" fill="#111" text-anchor="end" textLength="148" lengthAdjust="spacingAndGlyphs" stroke="#111" stroke-width="0.3">F3´5´H_R1</text><rect x="1370.30" y="915.73" width="31.90" height="39.33" fill="#cd7476"/><rect x="1401.60" y="915.73" width="31.90" height="39.33" fill="#c65b5d"/><rect x="1432.89" y="915.73" width="31.90" height="39.33" fill="#cd7476"/><rect x="1464.19" y="915.73" width="31.90" height="39.33" fill="#3953a1"/><rect x="1495.48" y="915.73" width="31.90" height="39.33" fill="#3953a1"/><rect x="1526.78" y="915.73" width="31.90" height="39.33" fill="#3953a1"/><rect x="1558.08" y="915.73" width="31.90" height="39.33" fill="#c3433f"/><rect x="1589.37" y="915.73" width="31.90" height="39.33" fill="#c3433f"/><rect x="1620.67" y="915.73" width="31.90" height="39.33" fill="#c3433f"/><rect x="1651.96" y="915.73" width="31.90" height="39.33" fill="#3953a1"/><rect x="1683.26" y="915.73" width="31.90" height="39.33" fill="#f5f4f9"/><rect x="1714.55" y="915.73" width="31.90" height="39.33" fill="#c8c8e3"/><rect x="1745.85" y="915.73" width="31.90" height="39.33" fill="#3953a1"/><rect x="1777.15" y="915.73" width="31.90" height="39.33" fill="#3953a1"/><rect x="1808.44" y="915.73" width="31.90" height="39.33" fill="#3953a1"/><rect x="1839.74" y="915.73" width="31.90" height="39.33" fill="#a1a3cf"/><rect x="1871.03" y="915.73" width="31.90" height="39.33" fill="#d69193"/><rect x="1902.33" y="915.73" width="31.90" height="39.33" fill="#a1a3cf"/><rect x="1933.62" y="915.73" width="31.90" height="39.33" fill="#3953a1"/><rect x="1964.92" y="915.73" width="31.90" height="39.33" fill="#3953a1"/><rect x="1996.22" y="915.73" width="31.90" height="39.33" fill="#3953a1"/><rect x="2027.51" y="915.73" width="31.90" height="39.33" fill="#3953a1"/><rect x="2058.81" y="915.73" width="31.90" height="39.33" fill="#3953a1"/><rect x="2090.10" y="915.73" width="31.90" height="39.33" fill="#a1a3cf"/><text transform="translate(1363,942.6) scale(0.94,1)" x="0" y="0" font-family="Liberation Serif" font-size="32.5" fill="#111" text-anchor="end" textLength="148" lengthAdjust="spacingAndGlyphs" stroke="#111" stroke-width="0.3">F3´5´H_R2</text><rect x="1370.30" y="954.47" width="31.90" height="39.33" fill="#3953a1"/><rect x="1401.60" y="954.47" width="31.90" height="39.33" fill="#3953a1"/><rect x="1432.89" y="954.47" width="31.90" height="39.33" fill="#3953a1"/><rect x="1464.19" y="954.47" width="31.90" height="39.33" fill="#cd7476"/><rect x="1495.48" y="954.47" width="31.90" height="39.33" fill="#f5f4f9"/><rect x="1526.78" y="954.47" width="31.90" height="39.33" fill="#e2b2b3"/><rect x="1558.08" y="954.47" width="31.90" height="39.33" fill="#3953a1"/><rect x="1589.37" y="954.47" width="31.90" height="39.33" fill="#3953a1"/><rect x="1620.67" y="954.47" width="31.90" height="39.33" fill="#3953a1"/><rect x="1651.96" y="954.47" width="31.90" height="39.33" fill="#5f69ac"/><rect x="1683.26" y="954.47" width="31.90" height="39.33" fill="#3953a1"/><rect x="1714.55" y="954.47" width="31.90" height="39.33" fill="#5f69ac"/><rect x="1745.85" y="954.47" width="31.90" height="39.33" fill="#c65b5d"/><rect x="1777.15" y="954.47" width="31.90" height="39.33" fill="#cd7476"/><rect x="1808.44" y="954.47" width="31.90" height="39.33" fill="#e2b2b3"/><rect x="1839.74" y="954.47" width="31.90" height="39.33" fill="#f2d8d9"/><rect x="1871.03" y="954.47" width="31.90" height="39.33" fill="#f2d8d9"/><rect x="1902.33" y="954.47" width="31.90" height="39.33" fill="#e2b2b3"/><rect x="1933.62" y="954.47" width="31.90" height="39.33" fill="#5f69ac"/><rect x="1964.92" y="954.47" width="31.90" height="39.33" fill="#3953a1"/><rect x="1996.22" y="954.47" width="31.90" height="39.33" fill="#3953a1"/><rect x="2027.51" y="954.47" width="31.90" height="39.33" fill="#3953a1"/><rect x="2058.81" y="954.47" width="31.90" height="39.33" fill="#3953a1"/><rect x="2090.10" y="954.47" width="31.90" height="39.33" fill="#3953a1"/><text transform="translate(1363,981.3) scale(0.94,1)" x="0" y="0" font-family="Liberation Serif" font-size="32.5" fill="#111" text-anchor="end" textLength="148" lengthAdjust="spacingAndGlyphs" stroke="#111" stroke-width="0.3">F3´5´H_R3</text><rect x="1370.30" y="993.20" width="31.90" height="39.33" fill="#a1a3cf"/><rect x="1401.60" y="993.20" width="31.90" height="39.33" fill="#7f85bd"/><rect x="1432.89" y="993.20" width="31.90" height="39.33" fill="#a1a3cf"/><rect x="1464.19" y="993.20" width="31.90" height="39.33" fill="#4a58a4"/><rect x="1495.48" y="993.20" width="31.90" height="39.33" fill="#4a58a4"/><rect x="1526.78" y="993.20" width="31.90" height="39.33" fill="#4a58a4"/><rect x="1558.08" y="993.20" width="31.90" height="39.33" fill="#f2d8d9"/><rect x="1589.37" y="993.20" width="31.90" height="39.33" fill="#e2b2b3"/><rect x="1620.67" y="993.20" width="31.90" height="39.33" fill="#f5f4f9"/><rect x="1651.96" y="993.20" width="31.90" height="39.33" fill="#f5f4f9"/><rect x="1683.26" y="993.20" width="31.90" height="39.33" fill="#f5f4f9"/><rect x="1714.55" y="993.20" width="31.90" height="39.33" fill="#c8c8e3"/><rect x="1745.85" y="993.20" width="31.90" height="39.33" fill="#e2b2b3"/><rect x="1777.15" y="993.20" width="31.90" height="39.33" fill="#e2b2b3"/><rect x="1808.44" y="993.20" width="31.90" height="39.33" fill="#e2b2b3"/><rect x="1839.74" y="993.20" width="31.90" height="39.33" fill="#d69193"/><rect x="1871.03" y="993.20" width="31.90" height="39.33" fill="#c65b5d"/><rect x="1902.33" y="993.20" width="31.90" height="39.33" fill="#d69193"/><rect x="1933.62" y="993.20" width="31.90" height="39.33" fill="#f2d8d9"/><rect x="1964.92" y="993.20" width="31.90" height="39.33" fill="#d69193"/><rect x="1996.22" y="993.20" width="31.90" height="39.33" fill="#d69193"/><rect x="2027.51" y="993.20" width="31.90" height="39.33" fill="#f5f4f9"/><rect x="2058.81" y="993.20" width="31.90" height="39.33" fill="#f5f4f9"/><rect x="2090.10" y="993.20" width="31.90" height="39.33" fill="#a1a3cf"/><text transform="translate(1363,1020.1) scale(0.94,1)" x="0" y="0" font-family="Liberation Serif" font-size="32.5" fill="#111" text-anchor="end" stroke="#111" stroke-width="0.3">DFR</text><rect x="1370.30" y="1031.93" width="31.90" height="39.33" fill="#e2b2b3"/><rect x="1401.60" y="1031.93" width="31.90" height="39.33" fill="#d69193"/><rect x="1432.89" y="1031.93" width="31.90" height="39.33" fill="#d69193"/><rect x="1464.19" y="1031.93" width="31.90" height="39.33" fill="#cd7476"/><rect x="1495.48" y="1031.93" width="31.90" height="39.33" fill="#e2b2b3"/><rect x="1526.78" y="1031.93" width="31.90" height="39.33" fill="#d69193"/><rect x="1558.08" y="1031.93" width="31.90" height="39.33" fill="#f2d8d9"/><rect x="1589.37" y="1031.93" width="31.90" height="39.33" fill="#e2b2b3"/><rect x="1620.67" y="1031.93" width="31.90" height="39.33" fill="#e2b2b3"/><rect x="1651.96" y="1031.93" width="31.90" height="39.33" fill="#c65b5d"/><rect x="1683.26" y="1031.93" width="31.90" height="39.33" fill="#cd7476"/><rect x="1714.55" y="1031.93" width="31.90" height="39.33" fill="#c65b5d"/><rect x="1745.85" y="1031.93" width="31.90" height="39.33" fill="#f2d8d9"/><rect x="1777.15" y="1031.93" width="31.90" height="39.33" fill="#f5f4f9"/><rect x="1808.44" y="1031.93" width="31.90" height="39.33" fill="#f5f4f9"/><rect x="1839.74" y="1031.93" width="31.90" height="39.33" fill="#c8c8e3"/><rect x="1871.03" y="1031.93" width="31.90" height="39.33" fill="#e2b2b3"/><rect x="1902.33" y="1031.93" width="31.90" height="39.33" fill="#f5f4f9"/><rect x="1933.62" y="1031.93" width="31.90" height="39.33" fill="#cd7476"/><rect x="1964.92" y="1031.93" width="31.90" height="39.33" fill="#cd7476"/><rect x="1996.22" y="1031.93" width="31.90" height="39.33" fill="#cd7476"/><rect x="2027.51" y="1031.93" width="31.90" height="39.33" fill="#d69193"/><rect x="2058.81" y="1031.93" width="31.90" height="39.33" fill="#d69193"/><rect x="2090.10" y="1031.93" width="31.90" height="39.33" fill="#d69193"/><text transform="translate(1363,1058.8) scale(0.94,1)" x="0" y="0" font-family="Liberation Serif" font-size="32.5" fill="#111" text-anchor="end" stroke="#111" stroke-width="0.3">ANS</text><rect x="1370.30" y="1070.67" width="31.90" height="39.33" fill="#c8c8e3"/><rect x="1401.60" y="1070.67" width="31.90" height="39.33" fill="#f5f4f9"/><rect x="1432.89" y="1070.67" width="31.90" height="39.33" fill="#f5f4f9"/><rect x="1464.19" y="1070.67" width="31.90" height="39.33" fill="#a1a3cf"/><rect x="1495.48" y="1070.67" width="31.90" height="39.33" fill="#7f85bd"/><rect x="1526.78" y="1070.67" width="31.90" height="39.33" fill="#a1a3cf"/><rect x="1558.08" y="1070.67" width="31.90" height="39.33" fill="#3953a1"/><rect x="1589.37" y="1070.67" width="31.90" height="39.33" fill="#3953a1"/><rect x="1620.67" y="1070.67" width="31.90" height="39.33" fill="#3953a1"/><rect x="1651.96" y="1070.67" width="31.90" height="39.33" fill="#f5f4f9"/><rect x="1683.26" y="1070.67" width="31.90" height="39.33" fill="#c8c8e3"/><rect x="1714.55" y="1070.67" width="31.90" height="39.33" fill="#c8c8e3"/><rect x="1745.85" y="1070.67" width="31.90" height="39.33" fill="#cd7476"/><rect x="1777.15" y="1070.67" width="31.90" height="39.33" fill="#e2b2b3"/><rect x="1808.44" y="1070.67" width="31.90" height="39.33" fill="#e2b2b3"/><rect x="1839.74" y="1070.67" width="31.90" height="39.33" fill="#c8c8e3"/><rect x="1871.03" y="1070.67" width="31.90" height="39.33" fill="#f5f4f9"/><rect x="1902.33" y="1070.67" width="31.90" height="39.33" fill="#c8c8e3"/><rect x="1933.62" y="1070.67" width="31.90" height="39.33" fill="#c8c8e3"/><rect x="1964.92" y="1070.67" width="31.90" height="39.33" fill="#f2d8d9"/><rect x="1996.22" y="1070.67" width="31.90" height="39.33" fill="#f2d8d9"/><rect x="2027.51" y="1070.67" width="31.90" height="39.33" fill="#3953a1"/><rect x="2058.81" y="1070.67" width="31.90" height="39.33" fill="#3953a1"/><rect x="2090.10" y="1070.67" width="31.90" height="39.33" fill="#3953a1"/><text transform="translate(1363,1097.5) scale(0.94,1)" x="0" y="0" font-family="Liberation Serif" font-size="32.5" fill="#111" text-anchor="end" stroke="#111" stroke-width="0.3">UFGT_R1</text><rect x="1370.30" y="1109.40" width="31.90" height="39.33" fill="#3953a1"/><rect x="1401.60" y="1109.40" width="31.90" height="39.33" fill="#3953a1"/><rect x="1432.89" y="1109.40" width="31.90" height="39.33" fill="#3953a1"/><rect x="1464.19" y="1109.40" width="31.90" height="39.33" fill="#a1a3cf"/><rect x="1495.48" y="1109.40" width="31.90" height="39.33" fill="#a1a3cf"/><rect x="1526.78" y="1109.40" width="31.90" height="39.33" fill="#7f85bd"/><rect x="1558.08" y="1109.40" width="31.90" height="39.33" fill="#3953a1"/><rect x="1589.37" y="1109.40" width="31.90" height="39.33" fill="#3953a1"/><rect x="1620.67" y="1109.40" width="31.90" height="39.33" fill="#3953a1"/><rect x="1651.96" y="1109.40" width="31.90" height="39.33" fill="#3953a1"/><rect x="1683.26" y="1109.40" width="31.90" height="39.33" fill="#3953a1"/><rect x="1714.55" y="1109.40" width="31.90" height="39.33" fill="#3953a1"/><rect x="1745.85" y="1109.40" width="31.90" height="39.33" fill="#c65b5d"/><rect x="1777.15" y="1109.40" width="31.90" height="39.33" fill="#c65b5d"/><rect x="1808.44" y="1109.40" width="31.90" height="39.33" fill="#d69193"/><rect x="1839.74" y="1109.40" width="31.90" height="39.33" fill="#5f69ac"/><rect x="1871.03" y="1109.40" width="31.90" height="39.33" fill="#4a58a4"/><rect x="1902.33" y="1109.40" width="31.90" height="39.33" fill="#5f69ac"/><rect x="1933.62" y="1109.40" width="31.90" height="39.33" fill="#e2b2b3"/><rect x="1964.92" y="1109.40" width="31.90" height="39.33" fill="#c65b5d"/><rect x="1996.22" y="1109.40" width="31.90" height="39.33" fill="#cd7476"/><rect x="2027.51" y="1109.40" width="31.90" height="39.33" fill="#e2b2b3"/><rect x="2058.81" y="1109.40" width="31.90" height="39.33" fill="#d69193"/><rect x="2090.10" y="1109.40" width="31.90" height="39.33" fill="#cd7476"/><text transform="translate(1363,1136.3) scale(0.94,1)" x="0" y="0" font-family="Liberation Serif" font-size="32.5" fill="#111" text-anchor="end" stroke="#111" stroke-width="0.3">UFGT_R2</text><rect x="1370.30" y="1148.13" width="31.90" height="39.33" fill="#7f85bd"/><rect x="1401.60" y="1148.13" width="31.90" height="39.33" fill="#a1a3cf"/><rect x="1432.89" y="1148.13" width="31.90" height="39.33" fill="#7f85bd"/><rect x="1464.19" y="1148.13" width="31.90" height="39.33" fill="#f5f4f9"/><rect x="1495.48" y="1148.13" width="31.90" height="39.33" fill="#c8c8e3"/><rect x="1526.78" y="1148.13" width="31.90" height="39.33" fill="#c8c8e3"/><rect x="1558.08" y="1148.13" width="31.90" height="39.33" fill="#3953a1"/><rect x="1589.37" y="1148.13" width="31.90" height="39.33" fill="#3953a1"/><rect x="1620.67" y="1148.13" width="31.90" height="39.33" fill="#3953a1"/><rect x="1651.96" y="1148.13" width="31.90" height="39.33" fill="#cd7476"/><rect x="1683.26" y="1148.13" width="31.90" height="39.33" fill="#7f85bd"/><rect x="1714.55" y="1148.13" width="31.90" height="39.33" fill="#d69193"/><rect x="1745.85" y="1148.13" width="31.90" height="39.33" fill="#e2b2b3"/><rect x="1777.15" y="1148.13" width="31.90" height="39.33" fill="#f5f4f9"/><rect x="1808.44" y="1148.13" width="31.90" height="39.33" fill="#7f85bd"/><rect x="1839.74" y="1148.13" width="31.90" height="39.33" fill="#3953a1"/><rect x="1871.03" y="1148.13" width="31.90" height="39.33" fill="#3953a1"/><rect x="1902.33" y="1148.13" width="31.90" height="39.33" fill="#3953a1"/><rect x="1933.62" y="1148.13" width="31.90" height="39.33" fill="#f2d8d9"/><rect x="1964.92" y="1148.13" width="31.90" height="39.33" fill="#f2d8d9"/><rect x="1996.22" y="1148.13" width="31.90" height="39.33" fill="#f2d8d9"/><rect x="2027.51" y="1148.13" width="31.90" height="39.33" fill="#3953a1"/><rect x="2058.81" y="1148.13" width="31.90" height="39.33" fill="#3953a1"/><rect x="2090.10" y="1148.13" width="31.90" height="39.33" fill="#3953a1"/><text transform="translate(1363,1175.0) scale(0.94,1)" x="0" y="0" font-family="Liberation Serif" font-size="32.5" fill="#111" text-anchor="end" stroke="#111" stroke-width="0.3">FLS_R1</text><rect x="1370.30" y="1186.87" width="31.90" height="39.33" fill="#a1a3cf"/><rect x="1401.60" y="1186.87" width="31.90" height="39.33" fill="#7f85bd"/><rect x="1432.89" y="1186.87" width="31.90" height="39.33" fill="#a1a3cf"/><rect x="1464.19" y="1186.87" width="31.90" height="39.33" fill="#a1a3cf"/><rect x="1495.48" y="1186.87" width="31.90" height="39.33" fill="#c8c8e3"/><rect x="1526.78" y="1186.87" width="31.90" height="39.33" fill="#f2d8d9"/><rect x="1558.08" y="1186.87" width="31.90" height="39.33" fill="#3953a1"/><rect x="1589.37" y="1186.87" width="31.90" height="39.33" fill="#3953a1"/><rect x="1620.67" y="1186.87" width="31.90" height="39.33" fill="#4a58a4"/><rect x="1651.96" y="1186.87" width="31.90" height="39.33" fill="#3953a1"/><rect x="1683.26" y="1186.87" width="31.90" height="39.33" fill="#4a58a4"/><rect x="1714.55" y="1186.87" width="31.90" height="39.33" fill="#4a58a4"/><rect x="1745.85" y="1186.87" width="31.90" height="39.33" fill="#4a58a4"/><rect x="1777.15" y="1186.87" width="31.90" height="39.33" fill="#7f85bd"/><rect x="1808.44" y="1186.87" width="31.90" height="39.33" fill="#7f85bd"/><rect x="1839.74" y="1186.87" width="31.90" height="39.33" fill="#c8c8e3"/><rect x="1871.03" y="1186.87" width="31.90" height="39.33" fill="#7f85bd"/><rect x="1902.33" y="1186.87" width="31.90" height="39.33" fill="#f2d8d9"/><rect x="1933.62" y="1186.87" width="31.90" height="39.33" fill="#f5f4f9"/><rect x="1964.92" y="1186.87" width="31.90" height="39.33" fill="#4a58a4"/><rect x="1996.22" y="1186.87" width="31.90" height="39.33" fill="#3953a1"/><rect x="2027.51" y="1186.87" width="31.90" height="39.33" fill="#3953a1"/><rect x="2058.81" y="1186.87" width="31.90" height="39.33" fill="#3953a1"/><rect x="2090.10" y="1186.87" width="31.90" height="39.33" fill="#3953a1"/><text transform="translate(1363,1213.7) scale(0.94,1)" x="0" y="0" font-family="Liberation Serif" font-size="32.5" fill="#111" text-anchor="end" stroke="#111" stroke-width="0.3">FLS_R2</text><rect x="1227" y="656.8" width="918" height="492" rx="42" ry="42" fill="none" stroke="#1f9048" stroke-width="2.2"/><rect x="2154.3" y="18.40" width="37.4" height="34.13" fill="#c23d3a"/><rect x="2154.3" y="52.03" width="37.4" height="34.13" fill="#c54a4a"/><rect x="2154.3" y="85.65" width="37.4" height="34.13" fill="#c85b5e"/><rect x="2154.3" y="119.28" width="37.4" height="34.13" fill="#cc6f72"/><rect x="2154.3" y="152.91" width="37.4" height="34.13" fill="#d48a8d"/><rect x="2154.3" y="186.53" width="37.4" height="34.13" fill="#e0aeae"/><rect x="2154.3" y="220.16" width="37.4" height="34.13" fill="#f1d6d6"/><rect x="2154.3" y="253.79" width="37.4" height="34.13" fill="#f4f3f9"/><rect x="2154.3" y="287.41" width="37.4" height="34.13" fill="#c9c9e3"/><rect x="2154.3" y="321.04" width="37.4" height="34.13" fill="#a3a4cf"/><rect x="2154.3" y="354.67" width="37.4" height="34.13" fill="#8185be"/><rect x="2154.3" y="388.29" width="37.4" height="34.13" fill="#6068ad"/><rect x="2154.3" y="421.92" width="37.4" height="34.13" fill="#4a57a3"/><rect x="2154.3" y="455.55" width="37.4" height="34.13" fill="#3f55a1"/><rect x="2154.3" y="489.17" width="37.4" height="34.13" fill="#3953a1"/><text x="2201" y="96.0" font-family="Liberation Serif" font-size="22" fill="#111" textLength="40" lengthAdjust="spacingAndGlyphs" stroke="#111" stroke-width="0.5">3.00</text><text x="2201" y="171.7" font-family="Liberation Serif" font-size="22" fill="#111" textLength="40" lengthAdjust="spacingAndGlyphs" stroke="#111" stroke-width="0.5">2.50</text><text x="2201" y="253.0" font-family="Liberation Serif" font-size="22" fill="#111" textLength="40" lengthAdjust="spacingAndGlyphs" stroke="#111" stroke-width="0.5">2.00</text><text x="2201" y="323.0" font-family="Liberation Serif" font-size="22" fill="#111" textLength="40" lengthAdjust="spacingAndGlyphs" stroke="#111" stroke-width="0.5">1.50</text><text x="2201" y="391.0" font-family="Liberation Serif" font-size="22" fill="#111" textLength="40" lengthAdjust="spacingAndGlyphs" stroke="#111" stroke-width="0.5">1.00</text><text x="2201" y="455.0" font-family="Liberation Serif" font-size="22" fill="#111" textLength="40" lengthAdjust="spacingAndGlyphs" stroke="#111" stroke-width="0.5">0.50</text><text x="2201" y="520.0" font-family="Liberation Serif" font-size="22" fill="#111" textLength="40" lengthAdjust="spacingAndGlyphs" stroke="#111" stroke-width="0.5">0.00</text><text transform="translate(1384.0,1273.0) rotate(-47.5)" font-family="Liberation Serif" font-size="30" fill="#111111" text-anchor="end" stroke="#111111" stroke-width="0.3">Rmi_petal1</text><text transform="translate(1415.6,1273.0) rotate(-47.5)" font-family="Liberation Serif" font-size="30" fill="#111111" text-anchor="end" stroke="#111111" stroke-width="0.3">Rmi_petal2</text><text transform="translate(1447.2,1273.0) rotate(-47.5)" font-family="Liberation Serif" font-size="30" fill="#111111" text-anchor="end" stroke="#111111" stroke-width="0.3">Rmi_petal3</text><text transform="translate(1478.8,1273.0) rotate(-47.5)" font-family="Liberation Serif" font-size="30" fill="#c68cc8" text-anchor="end" stroke="#c68cc8" stroke-width="0.3">Rov_petal1</text><text transform="translate(1510.4,1273.0) rotate(-47.5)" font-family="Liberation Serif" font-size="30" fill="#c68cc8" text-anchor="end" stroke="#c68cc8" stroke-width="0.3">Rov_petal2</text><text transform="translate(1542.0,1273.0) rotate(-47.5)" font-family="Liberation Serif" font-size="30" fill="#c68cc8" text-anchor="end" stroke="#c68cc8" stroke-width="0.3">Rov_petal3</text><text transform="translate(1573.6,1273.0) rotate(-47.5)" font-family="Liberation Serif" font-size="30" fill="#e57524" text-anchor="end" stroke="#e57524" stroke-width="0.3">Rmo_petal1</text><text transform="translate(1605.2,1273.0) rotate(-47.5)" font-family="Liberation Serif" font-size="30" fill="#e57524" text-anchor="end" stroke="#e57524" stroke-width="0.3">Rmo_petal2</text><text transform="translate(1636.8,1273.0) rotate(-47.5)" font-family="Liberation Serif" font-size="30" fill="#e57524" text-anchor="end" stroke="#e57524" stroke-width="0.3">Rmo_petal3</text><text transform="translate(1668.4,1273.0) rotate(-47.5)" font-family="Liberation Serif" font-size="30" fill="#e05890" text-anchor="end" stroke="#e05890" stroke-width="0.3">Rch_petal1</text><text transform="translate(1700.0,1273.0) rotate(-47.5)" font-family="Liberation Serif" font-size="30" fill="#e05890" text-anchor="end" stroke="#e05890" stroke-width="0.3">Rch_petal2</text><text transform="translate(1731.6,1273.0) rotate(-47.5)" font-family="Liberation Serif" font-size="30" fill="#e05890" text-anchor="end" stroke="#e05890" stroke-width="0.3">Rch_petal3</text><text transform="translate(1763.2,1273.0) rotate(-47.5)" font-family="Liberation Serif" font-size="30" fill="#9a34a0" text-anchor="end" stroke="#9a34a0" stroke-width="0.3">Rmu_petal1</text><text transform="translate(1794.8,1273.0) rotate(-47.5)" font-family="Liberation Serif" font-size="30" fill="#9a34a0" text-anchor="end" stroke="#9a34a0" stroke-width="0.3">Rmu_petal2</text><text transform="translate(1826.4,1273.0) rotate(-47.5)" font-family="Liberation Serif" font-size="30" fill="#9a34a0" text-anchor="end" stroke="#9a34a0" stroke-width="0.3">Rmu_petal3</text><text transform="translate(1858.0,1273.0) rotate(-47.5)" font-family="Liberation Serif" font-size="30" fill="#a04aa8" text-anchor="end" stroke="#a04aa8" stroke-width="0.3">Rni_petal1</text><text transform="translate(1889.6,1273.0) rotate(-47.5)" font-family="Liberation Serif" font-size="30" fill="#a04aa8" text-anchor="end" stroke="#a04aa8" stroke-width="0.3">Rni_petal2</text><text transform="translate(1921.2,1273.0) rotate(-47.5)" font-family="Liberation Serif" font-size="30" fill="#a04aa8" text-anchor="end" stroke="#a04aa8" stroke-width="0.3">Rni_petal3</text><text transform="translate(1952.8,1273.0) rotate(-47.5)" font-family="Liberation Serif" font-size="30" fill="#d8143c" text-anchor="end" stroke="#d8143c" stroke-width="0.3">Rne_petal1</text><text transform="translate(1984.4,1273.0) rotate(-47.5)" font-family="Liberation Serif" font-size="30" fill="#d8143c" text-anchor="end" stroke="#d8143c" stroke-width="0.3">Rne_petal2</text><text transform="translate(2016.0,1273.0) rotate(-47.5)" font-family="Liberation Serif" font-size="30" fill="#d8143c" text-anchor="end" stroke="#d8143c" stroke-width="0.3">Rne_petal3</text><text transform="translate(2047.6,1273.0) rotate(-47.5)" font-family="Liberation Serif" font-size="30" fill="#d01438" text-anchor="end" stroke="#d01438" stroke-width="0.3">Rsi_petal1</text><text transform="translate(2079.2,1273.0) rotate(-47.5)" font-family="Liberation Serif" font-size="30" fill="#d01438" text-anchor="end" stroke="#d01438" stroke-width="0.3">Rsi_petal2</text><text transform="translate(2110.8,1273.0) rotate(-47.5)" font-family="Liberation Serif" font-size="30" fill="#d01438" text-anchor="end" stroke="#d01438" stroke-width="0.3">Rsi_petal3</text><text x="9.0" y="1484.0" font-family="Liberation Serif" font-size="29" fill="#000" text-anchor="start" font-weight="normal"  stroke="#000" stroke-width="0.3">F</text><defs>
<filter id="blur8" x="-50%" y="-50%" width="200%" height="200%"><feGaussianBlur stdDeviation="10"/></filter>
<radialGradient id="lf1" cx="0.5" cy="0.45" r="0.6"><stop offset="0" stop-color="#95b957"/><stop offset="1" stop-color="#a3c463"/></radialGradient>
<radialGradient id="lf2" cx="0.5" cy="0.6" r="0.6"><stop offset="0" stop-color="#6f9a42"/><stop offset="0.6" stop-color="#8cb152"/><stop offset="1" stop-color="#9cbc5c"/></radialGradient>
<linearGradient id="lf3" x1="0" y1="0" x2="0.9" y2="1"><stop offset="0" stop-color="#8fbb4a"/><stop offset="0.35" stop-color="#7d9c4c"/><stop offset="0.7" stop-color="#6f8647"/><stop offset="1" stop-color="#8aa954"/></linearGradient>
<radialGradient id="lf4" cx="0.5" cy="0.55" r="0.65"><stop offset="0" stop-color="#5d5f3e"/><stop offset="0.8" stop-color="#57583a"/><stop offset="1" stop-color="#5f6a40"/></radialGradient>
</defs><path d="M189,1640 L199,1640 L198.5,1665 L189.5,1665 Z" fill="#86a84a"/><path d="M455,1645 L467,1645 L466,1665 L456,1665 Z" fill="#6e9840"/><path d="M201,1880 L211,1880 L210,1896 L202,1896 Z" fill="#7a9650"/><path d="M464,1880 L474,1880 L473,1912 L465,1912 Z" fill="#8a9a60"/><path d="M202.3,1471.1 C214.6,1471.5 230.4,1475.8 243.0,1482.2 C255.6,1488.6 268.6,1499.9 277.6,1509.4 C286.7,1518.9 291.6,1528.3 297.3,1539.0 C303.1,1549.7 309.2,1562.8 312.1,1573.5 C315.0,1584.2 315.4,1594.0 314.6,1603.1 C313.8,1612.1 313.4,1620.4 307.2,1627.8 C301.0,1635.2 289.1,1642.7 277.6,1647.6 C266.1,1652.5 249.9,1656.2 238.0,1657.4 C226.1,1658.6 214.2,1656.2 206.0,1655.0 C197.8,1653.8 197.8,1651.7 188.7,1650.0 C179.6,1648.3 163.6,1649.5 151.7,1645.0 C139.8,1640.5 125.3,1632.4 117.1,1622.9 C108.9,1613.5 103.9,1600.7 102.3,1588.3 C100.7,1575.9 101.9,1562.4 107.3,1548.8 C112.7,1535.2 124.1,1518.4 134.4,1506.9 C144.7,1495.4 157.7,1485.7 169.0,1479.7 C180.3,1473.7 190.0,1470.7 202.3,1471.1 Z" fill="url(#lf1)"/><path d="M196,1660 L203,1564 L165,1535 M203,1564 L205,1490 M199,1620 L150,1590 M200,1618 L290,1570" stroke="#84a848" stroke-width="2.5" fill="none" opacity="0.7"/><clipPath id="clip2"><path d="M447.9,1473.6 C455.3,1473.6 462.2,1480.0 475.0,1484.7 C487.8,1489.4 511.6,1494.6 524.4,1502.0 C537.1,1509.4 544.5,1518.8 551.5,1529.1 C558.5,1539.4 563.6,1552.2 566.3,1563.7 C569.0,1575.2 569.5,1587.5 567.5,1598.2 C565.5,1608.9 561.2,1619.2 554.0,1627.8 C546.8,1636.4 537.6,1644.7 524.4,1650.0 C511.2,1655.3 486.5,1658.7 475.0,1659.9 C463.5,1661.1 464.8,1658.2 455.3,1657.4 C445.8,1656.6 429.7,1658.3 418.2,1655.0 C406.7,1651.7 394.4,1647.2 386.2,1637.7 C378.0,1628.2 372.2,1611.4 368.9,1598.2 C365.6,1585.0 365.6,1569.8 366.4,1558.7 C367.2,1547.6 368.0,1541.0 373.8,1531.6 C379.6,1522.1 391.5,1509.8 401.0,1502.0 C410.5,1494.2 422.8,1489.4 430.6,1484.7 C438.4,1480.0 440.5,1473.6 447.9,1473.6 Z"/></clipPath><path d="M447.9,1473.6 C455.3,1473.6 462.2,1480.0 475.0,1484.7 C487.8,1489.4 511.6,1494.6 524.4,1502.0 C537.1,1509.4 544.5,1518.8 551.5,1529.1 C558.5,1539.4 563.6,1552.2 566.3,1563.7 C569.0,1575.2 569.5,1587.5 567.5,1598.2 C565.5,1608.9 561.2,1619.2 554.0,1627.8 C546.8,1636.4 537.6,1644.7 524.4,1650.0 C511.2,1655.3 486.5,1658.7 475.0,1659.9 C463.5,1661.1 464.8,1658.2 455.3,1657.4 C445.8,1656.6 429.7,1658.3 418.2,1655.0 C406.7,1651.7 394.4,1647.2 386.2,1637.7 C378.0,1628.2 372.2,1611.4 368.9,1598.2 C365.6,1585.0 365.6,1569.8 366.4,1558.7 C367.2,1547.6 368.0,1541.0 373.8,1531.6 C379.6,1522.1 391.5,1509.8 401.0,1502.0 C410.5,1494.2 422.8,1489.4 430.6,1484.7 C438.4,1480.0 440.5,1473.6 447.9,1473.6 Z" fill="#8db454"/><g clip-path="url(#clip2)"><ellipse cx="470" cy="1520" rx="60" ry="30" fill="#7aa448" opacity="0.7" filter="url(#blur8)"/><ellipse cx="462" cy="1610" rx="22" ry="50" fill="#5c8c3c" opacity="0.85" filter="url(#blur8)"/><ellipse cx="540" cy="1580" rx="30" ry="40" fill="#74a044" opacity="0.6" filter="url(#blur8)"/></g><path d="M462,1662 L463,1545 M462,1640 L420,1590 M463,1615 L540,1565" stroke="#5a8838" stroke-width="2.5" fill="none" opacity="0.7"/><clipPath id="clip3"><path d="M133.0,1740.7 C144.7,1735.7 170.5,1732.4 190.0,1730.0 C209.5,1727.6 235.2,1724.2 250.0,1726.5 C264.8,1728.8 271.1,1733.4 278.6,1744.0 C286.1,1754.6 290.5,1775.8 295.0,1790.0 C299.5,1804.2 304.7,1817.3 305.5,1829.0 C306.3,1840.7 304.0,1849.9 300.0,1860.0 C296.0,1870.1 291.7,1884.0 281.7,1889.5 C271.7,1895.0 252.6,1891.9 240.0,1893.0 C227.4,1894.1 217.7,1895.8 206.0,1896.0 C194.3,1896.2 181.7,1894.5 170.0,1894.0 C158.3,1893.5 146.8,1894.4 136.0,1892.7 C125.2,1891.0 111.0,1888.8 105.0,1884.0 C99.0,1879.2 99.9,1873.8 99.7,1864.0 C99.5,1854.2 101.6,1837.7 104.0,1825.0 C106.4,1812.3 111.3,1798.8 114.0,1788.0 C116.7,1777.2 116.8,1767.9 120.0,1760.0 C123.2,1752.1 121.3,1745.7 133.0,1740.7 Z"/></clipPath><path d="M133.0,1740.7 C144.7,1735.7 170.5,1732.4 190.0,1730.0 C209.5,1727.6 235.2,1724.2 250.0,1726.5 C264.8,1728.8 271.1,1733.4 278.6,1744.0 C286.1,1754.6 290.5,1775.8 295.0,1790.0 C299.5,1804.2 304.7,1817.3 305.5,1829.0 C306.3,1840.7 304.0,1849.9 300.0,1860.0 C296.0,1870.1 291.7,1884.0 281.7,1889.5 C271.7,1895.0 252.6,1891.9 240.0,1893.0 C227.4,1894.1 217.7,1895.8 206.0,1896.0 C194.3,1896.2 181.7,1894.5 170.0,1894.0 C158.3,1893.5 146.8,1894.4 136.0,1892.7 C125.2,1891.0 111.0,1888.8 105.0,1884.0 C99.0,1879.2 99.9,1873.8 99.7,1864.0 C99.5,1854.2 101.6,1837.7 104.0,1825.0 C106.4,1812.3 111.3,1798.8 114.0,1788.0 C116.7,1777.2 116.8,1767.9 120.0,1760.0 C123.2,1752.1 121.3,1745.7 133.0,1740.7 Z" fill="#6e7d48"/><g clip-path="url(#clip3)"><ellipse cx="150" cy="1755" rx="90" ry="40" fill="#86b04a" opacity="0.85" filter="url(#blur8)"/><ellipse cx="215" cy="1825" rx="40" ry="45" fill="#6c9a48" opacity="0.8" filter="url(#blur8)"/><ellipse cx="260" cy="1870" rx="50" ry="28" fill="#7fa050" opacity="0.6" filter="url(#blur8)"/><ellipse cx="130" cy="1870" rx="35" ry="22" fill="#86aa50" opacity="0.5" filter="url(#blur8)"/></g><path d="M203,1895 L202,1840 L178,1803 M202,1840 L205,1805 M202,1858 L150,1830 M202,1862 L268,1820" stroke="#9ab868" stroke-width="2" fill="none" opacity="0.6"/><clipPath id="clip4"><path d="M458.0,1712.0 C463.9,1706.7 462.8,1705.0 465.3,1705.0 C467.8,1705.0 468.1,1708.3 473.0,1712.0 C477.9,1715.7 486.2,1721.7 495.0,1727.0 C503.8,1732.3 516.3,1736.8 525.5,1744.0 C534.7,1751.2 543.1,1760.0 550.0,1770.0 C556.9,1780.0 564.6,1790.7 566.6,1804.0 C568.6,1817.3 563.6,1835.2 562.0,1850.0 C560.4,1864.8 564.0,1885.5 557.0,1892.7 C550.0,1899.9 533.5,1893.8 520.0,1893.0 C506.5,1892.2 485.0,1888.8 476.0,1888.0 C467.0,1887.2 473.7,1887.7 466.0,1888.0 C458.3,1888.3 440.2,1891.9 430.0,1890.0 C419.8,1888.1 413.3,1883.5 405.0,1876.8 C396.7,1870.1 386.0,1860.5 380.0,1850.0 C374.0,1839.5 370.1,1823.5 368.8,1813.5 C367.5,1803.5 369.1,1797.4 372.0,1790.0 C374.9,1782.6 376.3,1777.8 386.0,1769.0 C395.7,1760.2 418.0,1746.5 430.0,1737.0 C442.0,1727.5 452.1,1717.3 458.0,1712.0 Z"/></clipPath><path d="M458.0,1712.0 C463.9,1706.7 462.8,1705.0 465.3,1705.0 C467.8,1705.0 468.1,1708.3 473.0,1712.0 C477.9,1715.7 486.2,1721.7 495.0,1727.0 C503.8,1732.3 516.3,1736.8 525.5,1744.0 C534.7,1751.2 543.1,1760.0 550.0,1770.0 C556.9,1780.0 564.6,1790.7 566.6,1804.0 C568.6,1817.3 563.6,1835.2 562.0,1850.0 C560.4,1864.8 564.0,1885.5 557.0,1892.7 C550.0,1899.9 533.5,1893.8 520.0,1893.0 C506.5,1892.2 485.0,1888.8 476.0,1888.0 C467.0,1887.2 473.7,1887.7 466.0,1888.0 C458.3,1888.3 440.2,1891.9 430.0,1890.0 C419.8,1888.1 413.3,1883.5 405.0,1876.8 C396.7,1870.1 386.0,1860.5 380.0,1850.0 C374.0,1839.5 370.1,1823.5 368.8,1813.5 C367.5,1803.5 369.1,1797.4 372.0,1790.0 C374.9,1782.6 376.3,1777.8 386.0,1769.0 C395.7,1760.2 418.0,1746.5 430.0,1737.0 C442.0,1727.5 452.1,1717.3 458.0,1712.0 Z" fill="#525338"/><g clip-path="url(#clip4)"><ellipse cx="395" cy="1765" rx="30" ry="22" fill="#5f7a40" opacity="0.7" filter="url(#blur8)"/><ellipse cx="470" cy="1712" rx="18" ry="12" fill="#5f7a40" opacity="0.7" filter="url(#blur8)"/></g><path d="M469,1893 L467,1730 M469,1870 L430,1835 M469,1865 L520,1805" stroke="#7f9060" stroke-width="2.2" fill="none" opacity="0.7"/><text x="164.1" y="1693.0" font-family="Liberation Serif" font-size="24" fill="#111" font-weight="normal" textLength="86.9" lengthAdjust="spacingAndGlyphs" stroke="#111" stroke-width="0.5">VcMYB1</text><text x="363.5" y="1692.0" font-family="Liberation Serif" font-size="24" fill="#111" font-weight="normal" textLength="210.5" lengthAdjust="spacingAndGlyphs" stroke="#111" stroke-width="0.5">RmiUFGT2+VcMYB1</text><text x="121.5" y="1941.7" font-family="Liberation Serif" font-size="24" fill="#111" font-weight="normal" textLength="202.5" lengthAdjust="spacingAndGlyphs" stroke="#111" stroke-width="0.5">RmiUFGT2+VmANS</text><text x="172.0" y="1967.0" font-family="Liberation Serif" font-size="24" fill="#111" font-weight="normal" textLength="101.0" lengthAdjust="spacingAndGlyphs" stroke="#111" stroke-width="0.5">+VcMYB1</text><text x="379.5" y="1933.8" font-family="Liberation Serif" font-size="24" fill="#111" font-weight="normal" textLength="175.5" lengthAdjust="spacingAndGlyphs" stroke="#111" stroke-width="0.5">RmiDFR+VmANS</text><text x="417.5" y="1960.5" font-family="Liberation Serif" font-size="24" fill="#111" font-weight="normal" textLength="99.5" lengthAdjust="spacingAndGlyphs" stroke="#111" stroke-width="0.5">+VcMYB1</text><text x="628.7" y="1485.4" font-family="Liberation Serif" font-size="31" fill="#000" text-anchor="start" font-weight="normal"  stroke="#000" stroke-width="0.3">G</text><line x1="793.7" y1="1759.0" x2="1386.8" y2="1759.0" stroke="#d6d6d6" stroke-width="1.6"/><text x="768" y="1767.5" font-family="Liberation Serif" font-size="24" fill="#595959" text-anchor="end" stroke="#595959" stroke-width="0.5">0</text><line x1="793.7" y1="1725.5" x2="1386.8" y2="1725.5" stroke="#d6d6d6" stroke-width="1.6"/><text x="768" y="1734.0" font-family="Liberation Serif" font-size="24" fill="#595959" text-anchor="end" stroke="#595959" stroke-width="0.5">1</text><line x1="793.7" y1="1692.1" x2="1386.8" y2="1692.1" stroke="#d6d6d6" stroke-width="1.6"/><text x="768" y="1700.6" font-family="Liberation Serif" font-size="24" fill="#595959" text-anchor="end" stroke="#595959" stroke-width="0.5">2</text><line x1="793.7" y1="1658.6" x2="1386.8" y2="1658.6" stroke="#d6d6d6" stroke-width="1.6"/><text x="768" y="1667.1" font-family="Liberation Serif" font-size="24" fill="#595959" text-anchor="end" stroke="#595959" stroke-width="0.5">3</text><line x1="793.7" y1="1625.2" x2="1386.8" y2="1625.2" stroke="#d6d6d6" stroke-width="1.6"/><text x="768" y="1633.7" font-family="Liberation Serif" font-size="24" fill="#595959" text-anchor="end" stroke="#595959" stroke-width="0.5">4</text><line x1="793.7" y1="1591.7" x2="1386.8" y2="1591.7" stroke="#d6d6d6" stroke-width="1.6"/><text x="768" y="1600.2" font-family="Liberation Serif" font-size="24" fill="#595959" text-anchor="end" stroke="#595959" stroke-width="0.5">5</text><line x1="793.7" y1="1558.2" x2="1386.8" y2="1558.2" stroke="#d6d6d6" stroke-width="1.6"/><text x="768" y="1566.7" font-family="Liberation Serif" font-size="24" fill="#595959" text-anchor="end" stroke="#595959" stroke-width="0.5">6</text><line x1="793.7" y1="1524.8" x2="1386.8" y2="1524.8" stroke="#d6d6d6" stroke-width="1.6"/><text x="768" y="1533.3" font-family="Liberation Serif" font-size="24" fill="#595959" text-anchor="end" stroke="#595959" stroke-width="0.5">7</text><line x1="793.7" y1="1491.3" x2="1386.8" y2="1491.3" stroke="#d6d6d6" stroke-width="1.6"/><text x="768" y="1499.8" font-family="Liberation Serif" font-size="24" fill="#595959" text-anchor="end" stroke="#595959" stroke-width="0.5">8</text><rect x="814.4" y="1738.9" width="18" height="20.1" fill="#4571b5"/><path d="M823.4,1737.9 V1739.9 M817.4,1737.9 H829.4 M817.4,1739.9 H829.4" stroke="#595959" stroke-width="1.6" fill="none"/><text transform="translate(829.4,1788.0) rotate(-43)" font-family="Liberation Sans" font-size="18.5" fill="#595959" text-anchor="end" font-weight="normal"  stroke="#595959" stroke-width="0.35">VcMYB1</text><rect x="873.7" y="1738.9" width="18" height="20.1" fill="#4571b5"/><path d="M882.7,1737.9 V1739.9 M876.7,1737.9 H888.7 M876.7,1739.9 H888.7" stroke="#595959" stroke-width="1.6" fill="none"/><text transform="translate(888.7,1788.0) rotate(-43)" font-family="Liberation Sans" font-size="18.5" fill="#595959" text-anchor="end" font-weight="normal"  stroke="#595959" stroke-width="0.35">RmoUFGT2+VcMYB1</text><rect x="933.0" y="1700.4" width="18" height="58.6" fill="#4571b5"/><path d="M942.0,1697.1 V1703.8 M936.0,1697.1 H948.0 M936.0,1703.8 H948.0" stroke="#595959" stroke-width="1.6" fill="none"/><text transform="translate(948.0,1788.0) rotate(-43)" font-family="Liberation Sans" font-size="18.5" fill="#595959" text-anchor="end" font-weight="normal"  stroke="#595959" stroke-width="0.35">RmiUFGT2+VcMYB1</text><rect x="992.3" y="1620.1" width="18" height="138.9" fill="#4571b5"/><path d="M1001.3,1613.4 V1626.8 M995.3,1613.4 H1007.3 M995.3,1626.8 H1007.3" stroke="#595959" stroke-width="1.6" fill="none"/><text transform="translate(1007.3,1788.0) rotate(-43)" font-family="Liberation Sans" font-size="18.5" fill="#595959" text-anchor="end" font-weight="normal"  stroke="#595959" stroke-width="0.35">VmANS+VcMYB1</text><rect x="1051.6" y="1620.1" width="18" height="138.9" fill="#4571b5"/><path d="M1060.6,1612.8 V1627.5 M1054.6,1612.8 H1066.6 M1054.6,1627.5 H1066.6" stroke="#595959" stroke-width="1.6" fill="none"/><text transform="translate(1066.6,1788.0) rotate(-43)" font-family="Liberation Sans" font-size="18.5" fill="#595959" text-anchor="end" font-weight="normal"  stroke="#595959" stroke-width="0.35">RmoUFGT2+VmANS+VcMYB1</text><rect x="1110.9" y="1598.4" width="18" height="160.6" fill="#4571b5"/><path d="M1119.9,1590.0 V1606.7 M1113.9,1590.0 H1125.9 M1113.9,1606.7 H1125.9" stroke="#595959" stroke-width="1.6" fill="none"/><text transform="translate(1125.9,1788.0) rotate(-43)" font-family="Liberation Sans" font-size="18.5" fill="#595959" text-anchor="end" font-weight="normal"  stroke="#595959" stroke-width="0.35">RmiUFGT2+VmANS+VcMYB1</text><rect x="1170.2" y="1728.9" width="18" height="30.1" fill="#4571b5"/><path d="M1179.2,1727.2 V1730.6 M1173.2,1727.2 H1185.2 M1173.2,1730.6 H1185.2" stroke="#595959" stroke-width="1.6" fill="none"/><text transform="translate(1185.2,1788.0) rotate(-43)" font-family="Liberation Sans" font-size="18.5" fill="#595959" text-anchor="end" font-weight="normal"  stroke="#595959" stroke-width="0.35">RmoDFR+VcMYB1</text><rect x="1229.5" y="1725.5" width="18" height="33.5" fill="#4571b5"/><path d="M1238.5,1723.9 V1727.2 M1232.5,1723.9 H1244.5 M1232.5,1727.2 H1244.5" stroke="#595959" stroke-width="1.6" fill="none"/><text transform="translate(1244.5,1788.0) rotate(-43)" font-family="Liberation Sans" font-size="18.5" fill="#595959" text-anchor="end" font-weight="normal"  stroke="#595959" stroke-width="0.35">RmiDFR+VcMYB1</text><rect x="1288.8" y="1546.5" width="18" height="212.5" fill="#4571b5"/><path d="M1297.8,1534.8 V1558.2 M1291.8,1534.8 H1303.8 M1291.8,1558.2 H1303.8" stroke="#595959" stroke-width="1.6" fill="none"/><text transform="translate(1303.8,1788.0) rotate(-43)" font-family="Liberation Sans" font-size="18.5" fill="#595959" text-anchor="end" font-weight="normal"  stroke="#595959" stroke-width="0.35">RmoDFR+VmANS+VcMYB1</text><rect x="1348.1" y="1541.5" width="18" height="217.5" fill="#4571b5"/><path d="M1357.1,1529.8 V1553.2 M1351.1,1529.8 H1363.1 M1351.1,1553.2 H1363.1" stroke="#595959" stroke-width="1.6" fill="none"/><text transform="translate(1363.1,1788.0) rotate(-43)" font-family="Liberation Sans" font-size="18.5" fill="#595959" text-anchor="end" font-weight="normal"  stroke="#595959" stroke-width="0.35">RmiDFR+VmANS+VcMYB1</text><text transform="translate(687,1631.5) rotate(-90)" font-family="Liberation Serif" font-size="34" fill="#333" text-anchor="middle" stroke="#333" stroke-width="0.3">Total anthocyanins</text><text transform="translate(727,1626.5) rotate(-90)" font-family="Liberation Serif" font-size="34" fill="#333" text-anchor="middle" stroke="#333" stroke-width="0.3">(mg/g)</text><text x="1443.7" y="1485.8" font-family="Liberation Serif" font-size="29" fill="#000" text-anchor="start" font-weight="normal"  stroke="#000" stroke-width="0.3">H</text><line x1="1605" y1="1462.6" x2="1605" y2="1600" stroke="#777" stroke-width="1.6"/><line x1="1605" y1="1622.6" x2="1605" y2="1759.8" stroke="#777" stroke-width="1.6"/><line x1="1593" y1="1462.6" x2="1605" y2="1462.6" stroke="#777" stroke-width="1.5"/><text x="1593.7" y="1471.1" font-family="Liberation Serif" font-size="26" fill="#333" text-anchor="end" stroke="#333" stroke-width="0.5">25000</text><line x1="1593" y1="1492" x2="1605" y2="1492" stroke="#777" stroke-width="1.5"/><text x="1593.7" y="1500.5" font-family="Liberation Serif" font-size="26" fill="#333" text-anchor="end" stroke="#333" stroke-width="0.5">20000</text><line x1="1593" y1="1520.7" x2="1605" y2="1520.7" stroke="#777" stroke-width="1.5"/><text x="1593.7" y="1529.2" font-family="Liberation Serif" font-size="26" fill="#333" text-anchor="end" stroke="#333" stroke-width="0.5">15000</text><line x1="1593" y1="1549.2" x2="1605" y2="1549.2" stroke="#777" stroke-width="1.5"/><text x="1593.7" y="1557.7" font-family="Liberation Serif" font-size="26" fill="#333" text-anchor="end" stroke="#333" stroke-width="0.5">10000</text><line x1="1593" y1="1577.5" x2="1605" y2="1577.5" stroke="#777" stroke-width="1.5"/><text x="1593.7" y="1586.0" font-family="Liberation Serif" font-size="26" fill="#333" text-anchor="end" stroke="#333" stroke-width="0.5">5000</text><line x1="1593" y1="1600" x2="1612" y2="1600" stroke="#777" stroke-width="1.5"/><line x1="1593" y1="1622.6" x2="1612" y2="1622.6" stroke="#777" stroke-width="1.5"/><line x1="1593" y1="1622.6" x2="1605" y2="1622.6" stroke="#777" stroke-width="1.5"/><text x="1593.7" y="1631.1" font-family="Liberation Serif" font-size="26" fill="#333" text-anchor="end" stroke="#333" stroke-width="0.5">800</text><line x1="1593" y1="1657" x2="1605" y2="1657" stroke="#777" stroke-width="1.5"/><text x="1593.7" y="1665.5" font-family="Liberation Serif" font-size="26" fill="#333" text-anchor="end" stroke="#333" stroke-width="0.5">600</text><line x1="1593" y1="1691.2" x2="1605" y2="1691.2" stroke="#777" stroke-width="1.5"/><text x="1593.7" y="1699.7" font-family="Liberation Serif" font-size="26" fill="#333" text-anchor="end" stroke="#333" stroke-width="0.5">400</text><line x1="1593" y1="1725.5" x2="1605" y2="1725.5" stroke="#777" stroke-width="1.5"/><text x="1593.7" y="1734.0" font-family="Liberation Serif" font-size="26" fill="#333" text-anchor="end" stroke="#333" stroke-width="0.5">200</text><line x1="1593" y1="1759.8" x2="1605" y2="1759.8" stroke="#777" stroke-width="1.5"/><text x="1593.7" y="1768.3" font-family="Liberation Serif" font-size="26" fill="#333" text-anchor="end" stroke="#333" stroke-width="0.5">0</text><rect x="1660.8" y="1680.7" width="23.6" height="79.1" fill="#4b69a6" stroke="#3a5580" stroke-width="0.8"/><path d="M1672.6,1675.4 V1682.7 M1666.6,1675.4 H1678.6 M1661.6,1680.7 H1683.6" stroke="#444" stroke-width="1.5" fill="none"/><rect x="1703.8" y="1636.7" width="23.6" height="123.1" fill="#4b69a6" stroke="#3a5580" stroke-width="0.8"/><path d="M1715.6,1628.8 V1638.7 M1709.6,1628.8 H1721.6 M1704.6,1636.7 H1726.6" stroke="#444" stroke-width="1.5" fill="none"/><rect x="1742.7" y="1623.5" width="23.6" height="136.3" fill="#6399c9" stroke="#3a5580" stroke-width="0.8"/><rect x="1742.7" y="1590.0" width="23.6" height="12.0" fill="#6399c9" stroke="#3a5580" stroke-width="0.8"/><rect x="1780.2" y="1622.6" width="23.6" height="137.2" fill="#6399c9" stroke="#3a5580" stroke-width="0.8"/><rect x="1780.2" y="1599.4" width="23.6" height="2.6" fill="#6399c9" stroke="#3a5580" stroke-width="0.8"/><rect x="1824.0" y="1622.6" width="23.6" height="137.2" fill="#6399c9" stroke="#3a5580" stroke-width="0.8"/><rect x="1824.0" y="1567.6" width="23.6" height="31.9" fill="#6399c9" stroke="#3a5580" stroke-width="0.8"/><path d="M1835.8,1566.5 V1569.6 M1829.8,1566.5 H1841.8 M1824.8,1567.6 H1846.8" stroke="#444" stroke-width="1.5" fill="none"/><rect x="1865.2" y="1620.4" width="23.6" height="139.4" fill="#6399c9" stroke="#3a5580" stroke-width="0.8"/><rect x="1865.2" y="1498.3" width="23.6" height="101.2" fill="#6399c9" stroke="#3a5580" stroke-width="0.8"/><path d="M1877.0,1496.0 V1500.3 M1871.0,1496.0 H1883.0 M1866.0,1498.3 H1888.0" stroke="#444" stroke-width="1.5" fill="none"/><rect x="1904.2" y="1656.7" width="23.6" height="103.1" fill="#4b69a6" stroke="#3a5580" stroke-width="0.8"/><rect x="1945.8" y="1697.5" width="23.6" height="62.3" fill="#4b69a6" stroke="#3a5580" stroke-width="0.8"/><path d="M1957.6,1691.0 V1699.5 M1951.6,1691.0 H1963.6 M1946.6,1697.5 H1968.6" stroke="#444" stroke-width="1.5" fill="none"/><rect x="1985.4" y="1622.6" width="23.6" height="137.2" fill="#6399c9" stroke="#3a5580" stroke-width="0.8"/><rect x="1985.4" y="1550.4" width="23.6" height="49.1" fill="#6399c9" stroke="#3a5580" stroke-width="0.8"/><path d="M1997.2,1549.5 V1552.4 M1991.2,1549.5 H2003.2 M1986.2,1550.4 H2008.2" stroke="#444" stroke-width="1.5" fill="none"/><rect x="2027.1" y="1622.6" width="23.6" height="137.2" fill="#6399c9" stroke="#3a5580" stroke-width="0.8"/><rect x="2027.1" y="1497.5" width="23.6" height="102.0" fill="#6399c9" stroke="#3a5580" stroke-width="0.8"/><path d="M2038.9,1495.5 V1499.5 M2032.9,1495.5 H2044.9 M2027.9,1497.5 H2049.9" stroke="#444" stroke-width="1.5" fill="none"/><line x1="1605" y1="1760.3" x2="2052" y2="1760.3" stroke="#000" stroke-width="3.6"/><text transform="translate(1513,1612.8) rotate(-90)" font-family="Liberation Serif" font-size="34" fill="#222" text-anchor="middle" stroke="#222" stroke-width="0.3">Relative expression</text><text transform="translate(1684.6,1779.0) rotate(-48.5)" font-family="Liberation Serif" font-size="22.5" fill="#1a1a1a" text-anchor="end" font-weight="normal"  stroke="#1a1a1a" stroke-width="0.5">VcMYB1</text><text transform="translate(1727.6,1779.0) rotate(-48.5)" font-family="Liberation Serif" font-size="22.5" fill="#1a1a1a" text-anchor="end" font-weight="normal"  stroke="#1a1a1a" stroke-width="0.5">RmoUFGT2+VcMYB1</text><text transform="translate(1766.5,1779.0) rotate(-48.5)" font-family="Liberation Serif" font-size="22.5" fill="#1a1a1a" text-anchor="end" font-weight="normal"  stroke="#1a1a1a" stroke-width="0.5">RmiUFGT2+VcMYB1</text><text transform="translate(1804.0,1779.0) rotate(-48.5)" font-family="Liberation Serif" font-size="22.5" fill="#1a1a1a" text-anchor="end" font-weight="normal"  stroke="#1a1a1a" stroke-width="0.5">VmANS+VcMYB1</text><text transform="translate(1847.8,1779.0) rotate(-48.5)" font-family="Liberation Serif" font-size="22.5" fill="#1a1a1a" text-anchor="end" font-weight="normal"  stroke="#1a1a1a" stroke-width="0.5">RmoUFGT2+VmANS+VcMYB1</text><text transform="translate(1889.0,1779.0) rotate(-48.5)" font-family="Liberation Serif" font-size="22.5" fill="#1a1a1a" text-anchor="end" font-weight="normal"  stroke="#1a1a1a" stroke-width="0.5">RmiUFGT2+VmANS+VcMYB1</text><text transform="translate(1928.0,1779.0) rotate(-48.5)" font-family="Liberation Serif" font-size="22.5" fill="#1a1a1a" text-anchor="end" font-weight="normal"  stroke="#1a1a1a" stroke-width="0.5">RmoDFR+VcMYB1</text><text transform="translate(1969.6,1779.0) rotate(-48.5)" font-family="Liberation Serif" font-size="22.5" fill="#1a1a1a" text-anchor="end" font-weight="normal"  stroke="#1a1a1a" stroke-width="0.5">RmiDFR+VcMYB1</text><text transform="translate(2009.2,1779.0) rotate(-48.5)" font-family="Liberation Serif" font-size="22.5" fill="#1a1a1a" text-anchor="end" font-weight="normal"  stroke="#1a1a1a" stroke-width="0.5">RmoDFR+VmANS+VcMYB1</text><text transform="translate(2050.9,1779.0) rotate(-48.5)" font-family="Liberation Serif" font-size="22.5" fill="#1a1a1a" text-anchor="end" font-weight="normal"  stroke="#1a1a1a" stroke-width="0.5">RmiDFR+VmANS+VcMYB1</text>
</svg>
</body></html>
